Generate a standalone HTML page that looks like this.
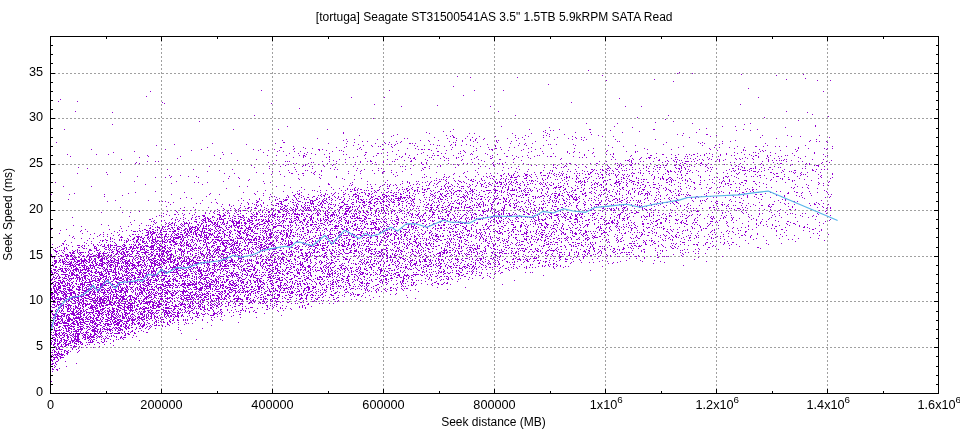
<!DOCTYPE html><html><head><meta charset="utf-8"><style>html,body{margin:0;padding:0;background:#fff;width:960px;height:432px;overflow:hidden}svg{display:block}text{font-family:"Liberation Sans",sans-serif;font-size:12px;fill:#000}svg{will-change:transform}.t{font-size:12.7px}</style></head><body><svg width="960" height="432" viewBox="0 0 960 432" shape-rendering="crispEdges"><rect width="960" height="432" fill="#fff"/><path d="M161.5 36V393M272.5 36V393M383.5 36V393M494.5 36V393M605.5 36V393M716.5 36V393M827.5 36V393M50 347.5H938M50 301.5H938M50 256.5H938M50 210.5H938M50 164.5H938M50 118.5H938M50 73.5H938" stroke="#a0a0a0" stroke-width="1" stroke-dasharray="2 2" fill="none"/><path transform="translate(0 .5)" d="M588 70h1M679 72h1M677 73h1m14 0h1M741 74h1m61 0h1M602 75h1m173 0h1M457 76h1M470 77h1m46 0h1M805 78h1M654 79h1m131 0h1M606 80h1m210 0h1m12 0h1M673 81h1M548 84h1M453 86h1M748 88h1M261 90h1m127 0h1m84 0h1m28 0h1M150 91h1m672 0h1M463 95h1M146 96h1M351 97h1m32 0h1m373 0h1M619 98h1M60 99h1M58 101h1m18 0h1M162 102h1m408 0h1M164 103h1m106 0h1M374 104h1m365 0h1M437 105h1M401 106h1m88 0h1m134 0h1m15 0h1M299 108h1M75 111h1m422 0h1m287 0h1M112 112h1m694 0h1M812 114h1M254 115h1m260 0h1m152 0h1M828 116h1M637 117h1m126 0h1M373 118h1M665 119h1M798 120h1M199 121h1m473 0h1M655 122h1M586 123h1m30 0h1m74 0h1m57 0h1M112 124h1m631 0h1M815 125h1M287 126h1m213 0h1m112 0h1m107 0h1m12 0h1m79 0h1M549 127h1m82 0h1m152 0h1M706 128h1M64 129h1m168 0h1m44 0h1m48 0h1m125 0h1m75 0h1m29 0h1m29 0h1m0 0h1m62 0h1m0 0h1m44 0h1m43 0h1m13 0h1M545 130h1m4 0h1m2 0h1m56 0h1m125 0h1m13 0h1M443 131h1m6 0h1m92 0h1m95 0h1M343 132h1m82 0h1m118 0h1m29 0h1m14 0h1m31 0h1m73 0h1M343 133h1m38 0h1m46 0h1m39 0h1m4 0h1m37 0h1m18 0h1m15 0h1m135 0h1M397 134h1m151 0h1m14 0h1m26 0h1m85 0h1m28 0h1m0 0h1M359 135h1m33 0h1m52 0h1m5 0h1m62 0h1m9 0h1m17 0h1m2 0h1m51 0h1m83 0h1m33 0h1m45 0h1m24 0h1m31 0h1M391 136h1m58 0h1m2 0h1m13 0h1m11 0h1m15 0h1m32 0h1m20 0h1m22 0h1m29 0h1m10 0h1m96 0h1m80 0h1m8 0h1M434 137h1m18 0h1m0 0h1m17 0h1m42 0h1m6 0h1m20 0h1m13 0h1m17 0h1m5 0h1m2 0h1m104 0h1m70 0h1m68 0h1M317 138h1m86 0h1m2 0h1m39 0h1m8 0h1m8 0h1m10 0h1m7 0h1m22 0h1m10 0h1m49 0h1m7 0h1m199 0h1M346 139h1m7 0h1m22 0h1m92 0h1m4 0h1m7 0h1m40 0h1m29 0h1m17 0h1m8 0h1m4 0h1m28 0h1m39 0h1m160 0h1M282 140h1m60 0h1m76 0h1m7 0h1m9 0h1m17 0h1m5 0h1m7 0h1m4 0h1m20 0h1m1 0h1m17 0h1m29 0h1m36 0h1m151 0h1m74 0h1M347 141h1m14 0h1m4 0h1m28 0h1m4 0h1m27 0h1m19 0h1m12 0h1m10 0h1m22 0h1m14 0h1m23 0h1m81 0h1m1 0h1m102 0h1m7 0h1m78 0h1m6 0h1m2 0h1m6 0h1M56 142h1m226 0h1m0 0h1m69 0h1m29 0h1m4 0h1m10 0h1m52 0h1m1 0h1m21 0h1m19 0h1m168 0h1m31 0h1m3 0h1m124 0h1M212 143h1m62 0h1m52 0h1m17 0h1m28 0h1m9 0h1m11 0h1m11 0h1m0 0h1m1 0h1m2 0h1m94 0h1m8 0h1m5 0h1m6 0h1m167 0h1m3 0h1m17 0h1m42 0h1M174 144h1m71 0h1m111 0h1m23 0h1m5 0h1m2 0h1m3 0h1m34 0h1m2 0h1m17 0h1m3 0h1m10 0h1m20 0h1m36 0h1m23 0h1m1 0h1m5 0h1m16 0h1m89 0h1m55 0h1M156 145h1m196 0h1m9 0h1m7 0h1m22 0h1m19 0h1m9 0h1m12 0h1m1 0h1m10 0h1m4 0h1m5 0h1m8 0h1m24 0h1m22 0h1m7 0h1m16 0h1m31 0h1m32 0h1m26 0h1m66 0h1m12 0h1m51 0h1m37 0h1M293 146h1m52 0h1m25 0h1m5 0h1m1 0h1m10 0h1m25 0h1m26 0h1m28 0h1m6 0h1m14 0h1m127 0h1m59 0h1m53 0h1m17 0h1m0 0h1m6 0h1m11 0h1m3 0h1m6 0h1m45 0h1M207 147h1m72 0h1m0 0h1m21 0h1m32 0h1m7 0h1m15 0h1m31 0h1m59 0h1m35 0h1m11 0h1m8 0h1m4 0h1m16 0h1m80 0h1m65 0h1m35 0h1m4 0h1m9 0h1m14 0h1m53 0h1M294 148h1m10 0h1m6 0h1m46 0h1m47 0h1m7 0h1m20 0h1m39 0h1m18 0h1m0 0h1m31 0h1m11 0h1m10 0h1m22 0h1m18 0h1m50 0h1m64 0h1m24 0h1m63 0h1m9 0h1m15 0h1m2 0h1m4 0h1M91 149h1m73 0h1m35 0h1m51 0h1m6 0h1m13 0h1m18 0h1m24 0h1m0 0h1m2 0h1m34 0h1m3 0h1m20 0h1m0 0h1m34 0h1m2 0h1m0 0h1m1 0h1m3 0h1m0 0h1m21 0h1m37 0h1m1 0h1m0 0h1m8 0h1m21 0h1m11 0h1m111 0h1m23 0h1m38 0h1m32 0h1m15 0h1m35 0h1m30 0h1M191 150h1m66 0h1m9 0h1m10 0h1m39 0h1m6 0h1m12 0h1m1 0h1m56 0h1m32 0h1m14 0h1m16 0h1m12 0h1m15 0h1m15 0h1m12 0h1m66 0h1m18 0h1m109 0h1m25 0h1m1 0h1m16 0h1m2 0h1m14 0h1m16 0h1M134 151h1m142 0h1m5 0h1m10 0h1m5 0h1m31 0h1m10 0h1m48 0h1m44 0h1m0 0h1m21 0h1m3 0h1m8 0h1m57 0h1m10 0h1m24 0h1m6 0h1m31 0h1m19 0h1m8 0h1m1 0h1m122 0h1m2 0h1m32 0h1M113 152h1m108 0h1m40 0h1m43 0h1m57 0h1m0 0h1m20 0h1m35 0h1m41 0h1m62 0h1m38 0h1m5 0h1m5 0h1m13 0h1m41 0h1m98 0h1m6 0h1m11 0h1m1 0h1m14 0h1m43 0h1M231 153h1m57 0h1m8 0h1m5 0h1m6 0h1m17 0h1m47 0h1m0 0h1m2 0h1m23 0h1m15 0h1m11 0h1m7 0h1m3 0h1m12 0h1m1 0h1m10 0h1m13 0h1m18 0h1m38 0h1m9 0h1m15 0h1m22 0h1m20 0h1m33 0h1m8 0h1m40 0h1m8 0h1m2 0h1m16 0h1m10 0h1m20 0h1m16 0h1m16 0h1m21 0h1M67 154h1m28 0h1m11 0h1m114 0h1m82 0h1m8 0h1m8 0h1m18 0h1m2 0h1m18 0h1m30 0h1m8 0h1m11 0h1m52 0h1m1 0h1m14 0h1m9 0h1m86 0h1m21 0h1m3 0h1m2 0h1m48 0h1m0 0h1m7 0h1m6 0h1m7 0h1m2 0h1m3 0h1m0 0h1m9 0h1m7 0h1m7 0h1m5 0h1m17 0h1m4 0h1m73 0h1M147 155h1m66 0h1m52 0h1m8 0h1m9 0h1m12 0h1m3 0h1m0 0h1m59 0h1m11 0h1m10 0h1m21 0h1m17 0h1m4 0h1m1 0h1m2 0h1m0 0h1m14 0h1m9 0h1m28 0h1m19 0h1m14 0h1m9 0h1m1 0h1m44 0h1m46 0h1m18 0h1m0 0h1m23 0h1m15 0h1m8 0h1m3 0h1m15 0h1m10 0h1m2 0h1m16 0h1m3 0h1m0 0h1m10 0h1m2 0h1m14 0h1m1 0h1m6 0h1m32 0h1M70 156h1m77 0h1m31 0h1m122 0h1m1 0h1m23 0h1m27 0h1m15 0h1m25 0h1m2 0h1m40 0h1m17 0h1m15 0h1m12 0h1m15 0h1m0 0h1m8 0h1m5 0h1m11 0h1m12 0h1m2 0h1m0 0h1m3 0h1m17 0h1m20 0h1m17 0h1m17 0h1m54 0h1m1 0h1m9 0h1m14 0h1m5 0h1m34 0h1m4 0h1m8 0h1m10 0h1m2 0h1m23 0h1m19 0h1M139 157h1m153 0h1m9 0h1m22 0h1m2 0h1m19 0h1m3 0h1m47 0h1m6 0h1m5 0h1m14 0h1m1 0h1m12 0h1m11 0h1m1 0h1m17 0h1m15 0h1m25 0h1m9 0h1m50 0h1m2 0h1m3 0h1m26 0h1m27 0h1m6 0h1m0 0h1m0 0h1m5 0h1m9 0h1m8 0h1m0 0h1m30 0h1m37 0h1m12 0h1m9 0h1m29 0h1M177 158h1m42 0h1m89 0h1m54 0h1m44 0h1m2 0h1m0 0h1m25 0h1m5 0h1m1 0h1m7 0h1m17 0h1m15 0h1m0 0h1m22 0h1m15 0h1m30 0h1m70 0h1m7 0h1m5 0h1m2 0h1m4 0h1m16 0h1m12 0h1m2 0h1m2 0h1m4 0h1m13 0h1m25 0h1m3 0h1m2 0h1m4 0h1m4 0h1m13 0h1m7 0h1m4 0h1m20 0h1M121 159h1m134 0h1m72 0h1m9 0h1m5 0h1m41 0h1m7 0h1m1 0h1m17 0h1m9 0h1m7 0h1m28 0h1m8 0h1m6 0h1m20 0h1m0 0h1m12 0h1m46 0h1m50 0h1m3 0h1m13 0h1m3 0h1m5 0h1m19 0h1m15 0h1m1 0h1m15 0h1m5 0h1m2 0h1m5 0h1m2 0h1m5 0h1m1 0h1m5 0h1m10 0h1m3 0h1m12 0h1m14 0h1m15 0h1m1 0h1m25 0h1m10 0h1M237 160h1m38 0h1m56 0h1m36 0h1m33 0h1m6 0h1m15 0h1m16 0h1m3 0h1m12 0h1m19 0h1m39 0h1m103 0h1m1 0h1m0 0h1m2 0h1m26 0h1m0 0h1m7 0h1m5 0h1m5 0h1m1 0h1m15 0h1m5 0h1m15 0h1m3 0h1m44 0h1m3 0h1m3 0h1m2 0h1m1 0h1m1 0h1m7 0h1m39 0h1M147 161h1m7 0h1m2 0h1m126 0h1m1 0h1m1 0h1m32 0h1m6 0h1m6 0h1m23 0h1m6 0h1m2 0h1m0 0h1m11 0h1m8 0h1m1 0h1m15 0h1m0 0h1m72 0h1m114 0h1m6 0h1m22 0h1m1 0h1m8 0h1m2 0h1m9 0h1m11 0h1m2 0h1m5 0h1m1 0h1m8 0h1m0 0h1m0 0h1m0 0h1m2 0h1m2 0h1m20 0h1m3 0h1m24 0h1m17 0h1m5 0h1m17 0h1m11 0h1m3 0h1m23 0h1M136 162h1m131 0h1m42 0h1m1 0h1m31 0h1m9 0h1m4 0h1m14 0h1m7 0h1m37 0h1m4 0h1m45 0h1m20 0h1m11 0h1m7 0h1m117 0h1m30 0h1m13 0h1m5 0h1m18 0h1m28 0h1m3 0h1m18 0h1m19 0h1m48 0h1m6 0h1M135 163h1m3 0h1m133 0h1m19 0h1m2 0h1m11 0h1m18 0h1m8 0h1m35 0h1m48 0h1m4 0h1m21 0h1m14 0h1m3 0h1m10 0h1m13 0h1m4 0h1m1 0h1m2 0h1m20 0h1m37 0h1m4 0h1m2 0h1m0 0h1m19 0h1m5 0h1m0 0h1m6 0h1m10 0h1m1 0h1m2 0h1m11 0h1m2 0h1m2 0h1m11 0h1m16 0h1m12 0h1m3 0h1m0 0h1m10 0h1m3 0h1m0 0h1m6 0h1m31 0h1m20 0h1m15 0h1m2 0h1m0 0h1m24 0h1m2 0h1m11 0h1M283 164h1m4 0h1m16 0h1m12 0h1m14 0h1m21 0h1m20 0h1m12 0h1m32 0h1m0 0h1m29 0h1m3 0h1m16 0h1m18 0h1m8 0h1m25 0h1m24 0h1m21 0h1m6 0h1m38 0h1m7 0h1m1 0h1m44 0h1m12 0h1m12 0h1m2 0h1m5 0h1m12 0h1m14 0h1m7 0h1m12 0h1m31 0h1m12 0h1m3 0h1m17 0h1M251 165h1m33 0h1m17 0h1m1 0h1m17 0h1m8 0h1m80 0h1m26 0h1m17 0h1m34 0h1m37 0h1m4 0h1m7 0h1m8 0h1m3 0h1m7 0h1m10 0h1m19 0h1m10 0h1m9 0h1m1 0h1m1 0h1m3 0h1m4 0h1m0 0h1m11 0h1m12 0h1m0 0h1m2 0h1m2 0h1m1 0h1m0 0h1m7 0h1m0 0h1m3 0h1m0 0h1m2 0h1m7 0h1m8 0h1m5 0h1m24 0h1m4 0h1m26 0h1m26 0h1m23 0h1m1 0h1m0 0h1m0 0h1M209 166h1m59 0h1m10 0h1m21 0h1m6 0h1m2 0h1m11 0h1m28 0h1m46 0h1m1 0h1m2 0h1m23 0h1m7 0h1m2 0h1m39 0h1m4 0h1m8 0h1m23 0h1m45 0h1m1 0h1m18 0h1m16 0h1m5 0h1m10 0h1m3 0h1m22 0h1m2 0h1m4 0h1m26 0h1m5 0h1m1 0h1m4 0h1m10 0h1m29 0h1m2 0h1m2 0h1m13 0h1m18 0h1m30 0h1m12 0h1m5 0h1M78 167h1m175 0h1m39 0h1m40 0h1m88 0h1m0 0h1m29 0h1m47 0h1m7 0h1m32 0h1m8 0h1m1 0h1m5 0h1m1 0h1m14 0h1m7 0h1m22 0h1m8 0h1m13 0h1m13 0h1m10 0h1m1 0h1m0 0h1m3 0h1m10 0h1m5 0h1m2 0h1m22 0h1m2 0h1m1 0h1m29 0h1m1 0h1m10 0h1m5 0h1m7 0h1m0 0h1m7 0h1m1 0h1M87 168h1m181 0h1m42 0h1m17 0h1m26 0h1m20 0h1m2 0h1m28 0h1m11 0h1m6 0h1m48 0h1m10 0h1m18 0h1m7 0h1m39 0h1m50 0h1m0 0h1m1 0h1m4 0h1m5 0h1m4 0h1m12 0h1m3 0h1m4 0h1m4 0h1m22 0h1m1 0h1m0 0h1m1 0h1m3 0h1m22 0h1m7 0h1m15 0h1m0 0h1m4 0h1m5 0h1m5 0h1m0 0h1m1 0h1m1 0h1m8 0h1m37 0h1m2 0h1M167 169h1m25 0h1m38 0h1m62 0h1m38 0h1m2 0h1m26 0h1m40 0h1m17 0h1m95 0h1m8 0h1m39 0h1m6 0h1m15 0h1m0 0h1m1 0h1m5 0h1m1 0h1m3 0h1m9 0h1m0 0h1m11 0h1m2 0h1m2 0h1m19 0h1m3 0h1m5 0h1m13 0h1m5 0h1m2 0h1m22 0h1m17 0h1m8 0h1m1 0h1m8 0h1m9 0h1m8 0h1m3 0h1m11 0h1m27 0h1m3 0h1m4 0h1m2 0h1m2 0h1M219 170h1m68 0h1m16 0h1m1 0h1m13 0h1m34 0h1m4 0h1m10 0h1m5 0h1m12 0h1m29 0h1m53 0h1m26 0h1m40 0h1m6 0h1m1 0h1m29 0h1m10 0h1m2 0h1m5 0h1m0 0h1m3 0h1m1 0h1m2 0h1m9 0h1m1 0h1m1 0h1m13 0h1m5 0h1m20 0h1m2 0h1m10 0h1m8 0h1m5 0h1m10 0h1m18 0h1m6 0h1m1 0h1m6 0h1m0 0h1m0 0h1m0 0h1m1 0h1m3 0h1m12 0h1m17 0h1m11 0h1m0 0h1m16 0h1m0 0h1M207 171h1m64 0h1m6 0h1m16 0h1m18 0h1m5 0h1m26 0h1m11 0h1m22 0h1m0 0h1m17 0h1m64 0h1m47 0h1m11 0h1m24 0h1m9 0h1m4 0h1m2 0h1m5 0h1m7 0h1m2 0h1m4 0h1m12 0h1m7 0h1m4 0h1m29 0h1m0 0h1m3 0h1m3 0h1m9 0h1m0 0h1m1 0h1m0 0h1m2 0h1m3 0h1m1 0h1m6 0h1m1 0h1m8 0h1m6 0h1m4 0h1m20 0h1m2 0h1m14 0h1m3 0h1m0 0h1m0 0h1m2 0h1m2 0h1m21 0h1m5 0h1m1 0h1m23 0h1M106 172h1m13 0h1m135 0h1m32 0h1m21 0h1m2 0h1m67 0h1m8 0h1m4 0h1m39 0h1m27 0h1m12 0h1m39 0h1m16 0h1m5 0h1m0 0h1m7 0h1m9 0h1m30 0h1m0 0h1m8 0h1m5 0h1m12 0h1m12 0h1m5 0h1m1 0h1m27 0h1m6 0h1m4 0h1m11 0h1m30 0h1m15 0h1m17 0h1m12 0h1m0 0h1m9 0h1m11 0h1m1 0h1m5 0h1m5 0h1m12 0h1M77 173h1m146 0h1m9 0h1m28 0h1m27 0h1m0 0h1m9 0h1m0 0h1m9 0h1m34 0h1m11 0h1m13 0h1m7 0h1m71 0h1m8 0h1m22 0h1m3 0h1m6 0h1m6 0h1m3 0h1m5 0h1m9 0h1m15 0h1m6 0h1m1 0h1m1 0h1m2 0h1m6 0h1m1 0h1m10 0h1m2 0h1m1 0h1m2 0h1m5 0h1m1 0h1m4 0h1m1 0h1m11 0h1m1 0h1m1 0h1m17 0h1m1 0h1m0 0h1m5 0h1m2 0h1m5 0h1m8 0h1m6 0h1m20 0h1m0 0h1m29 0h1m9 0h1m8 0h1m1 0h1m6 0h1m27 0h1m2 0h1m0 0h1m16 0h1m5 0h1m31 0h1M107 174h1m163 0h1m8 0h1m17 0h1m15 0h1m4 0h1m73 0h1m17 0h1m12 0h1m19 0h1m8 0h1m24 0h1m24 0h1m4 0h1m4 0h1m11 0h1m0 0h1m0 0h1m3 0h1m3 0h1m17 0h1m2 0h1m1 0h1m3 0h1m3 0h1m18 0h1m2 0h1m0 0h1m8 0h1m2 0h1m0 0h1m3 0h1m1 0h1m6 0h1m2 0h1m3 0h1m1 0h1m2 0h1m24 0h1m10 0h1m4 0h1m8 0h1m3 0h1m55 0h1m6 0h1m10 0h1m18 0h1m9 0h1m16 0h1m1 0h1m1 0h1m12 0h1m13 0h1M169 175h1m10 0h1m122 0h1m17 0h1m32 0h1m42 0h1m93 0h1m8 0h1m0 0h1m7 0h1m1 0h1m1 0h1m4 0h1m6 0h1m0 0h1m2 0h1m11 0h1m1 0h1m0 0h1m0 0h1m2 0h1m5 0h1m5 0h1m1 0h1m13 0h1m2 0h1m22 0h1m6 0h1m5 0h1m1 0h1m5 0h1m5 0h1m2 0h1m9 0h1m8 0h1m29 0h1m3 0h1m12 0h1m10 0h1m21 0h1m27 0h1m0 0h1m3 0h1m35 0h1m20 0h1M137 176h1m33 0h1m16 0h1m7 0h1m32 0h1m54 0h1m51 0h1m58 0h1m30 0h1m17 0h1m4 0h1m9 0h1m5 0h1m9 0h1m7 0h1m2 0h1m2 0h1m3 0h1m0 0h1m6 0h1m4 0h1m4 0h1m5 0h1m1 0h1m3 0h1m3 0h1m2 0h1m5 0h1m11 0h1m7 0h1m2 0h1m6 0h1m2 0h1m6 0h1m14 0h1m6 0h1m17 0h1m9 0h1m1 0h1m3 0h1m21 0h1m7 0h1m37 0h1m24 0h1m0 0h1m1 0h1m5 0h1m11 0h1m4 0h1m1 0h1m3 0h1m18 0h1m0 0h1m0 0h1m5 0h1m12 0h1m9 0h1m12 0h1M155 177h1m9 0h1m4 0h1m27 0h1m39 0h1m80 0h1m16 0h1m85 0h1m1 0h1m5 0h1m12 0h1m2 0h1m1 0h1m17 0h1m20 0h1m22 0h1m0 0h1m0 0h1m1 0h1m0 0h1m0 0h1m9 0h1m4 0h1m15 0h1m2 0h1m13 0h1m1 0h1m0 0h1m1 0h1m7 0h1m7 0h1m0 0h1m2 0h1m10 0h1m1 0h1m0 0h1m12 0h1m4 0h1m1 0h1m12 0h1m17 0h1m3 0h1m3 0h1m6 0h1m0 0h1m6 0h1m4 0h1m17 0h1m13 0h1m2 0h1m5 0h1m3 0h1m8 0h1m23 0h1m12 0h1m14 0h1m32 0h1m10 0h1M228 178h1m10 0h1m58 0h1m21 0h1m21 0h1m18 0h1m74 0h1m16 0h1m27 0h1m8 0h1m1 0h1m8 0h1m1 0h1m2 0h1m17 0h1m0 0h1m0 0h1m10 0h1m4 0h1m4 0h1m13 0h1m4 0h1m5 0h1m3 0h1m1 0h1m4 0h1m4 0h1m7 0h1m2 0h1m2 0h1m20 0h1m0 0h1m2 0h1m8 0h1m1 0h1m15 0h1m5 0h1m1 0h1m0 0h1m4 0h1m2 0h1m7 0h1m1 0h1m7 0h1m33 0h1m14 0h1m27 0h1m13 0h1m1 0h1m16 0h1m18 0h1m11 0h1M249 179h1m49 0h1m44 0h1m9 0h1m84 0h1m1 0h1m1 0h1m2 0h1m21 0h1m2 0h1m1 0h1m7 0h1m11 0h1m2 0h1m3 0h1m4 0h1m2 0h1m1 0h1m4 0h1m0 0h1m25 0h1m2 0h1m9 0h1m1 0h1m6 0h1m11 0h1m10 0h1m21 0h1m0 0h1m7 0h1m2 0h1m7 0h1m11 0h1m1 0h1m0 0h1m1 0h1m6 0h1m6 0h1m2 0h1m2 0h1m0 0h1m2 0h1m1 0h1m12 0h1m4 0h1m18 0h1m2 0h1m6 0h1m9 0h1m41 0h1m10 0h1m5 0h1m0 0h1m14 0h1M248 180h1m138 0h1m46 0h1m1 0h1m8 0h1m8 0h1m3 0h1m11 0h1m0 0h1m3 0h1m6 0h1m1 0h1m20 0h1m8 0h1m11 0h1m2 0h1m1 0h1m0 0h1m2 0h1m7 0h1m18 0h1m5 0h1m11 0h1m3 0h1m8 0h1m10 0h1m0 0h1m1 0h1m8 0h1m9 0h1m3 0h1m0 0h1m6 0h1m27 0h1m4 0h1m1 0h1m1 0h1m6 0h1m2 0h1m1 0h1m12 0h1m3 0h1m18 0h1m5 0h1m14 0h1m0 0h1m0 0h1m23 0h1m21 0h1m1 0h1m16 0h1M134 181h1m41 0h1m46 0h1m39 0h1m103 0h1m34 0h1m4 0h1m8 0h1m1 0h1m8 0h1m3 0h1m7 0h1m0 0h1m5 0h1m8 0h1m3 0h1m0 0h1m2 0h1m8 0h1m0 0h1m5 0h1m15 0h1m3 0h1m5 0h1m3 0h1m1 0h1m4 0h1m5 0h1m8 0h1m1 0h1m3 0h1m28 0h1m8 0h1m2 0h1m0 0h1m0 0h1m1 0h1m1 0h1m2 0h1m15 0h1m12 0h1m1 0h1m0 0h1m1 0h1m7 0h1m2 0h1m0 0h1m0 0h1m8 0h1m25 0h1m1 0h1m15 0h1m3 0h1m30 0h1m1 0h1m4 0h1m3 0h1m12 0h1m6 0h1m0 0h1m21 0h1m15 0h1m36 0h1M55 182h1m138 0h1m3 0h1m8 0h1m62 0h1m81 0h1m32 0h1m21 0h1m1 0h1m12 0h1m2 0h1m4 0h1m7 0h1m9 0h1m12 0h1m2 0h1m12 0h1m7 0h1m3 0h1m5 0h1m1 0h1m1 0h1m0 0h1m0 0h1m1 0h1m4 0h1m2 0h1m1 0h1m2 0h1m0 0h1m5 0h1m3 0h1m12 0h1m2 0h1m3 0h1m3 0h1m8 0h1m15 0h1m1 0h1m2 0h1m2 0h1m0 0h1m5 0h1m3 0h1m2 0h1m4 0h1m11 0h1m0 0h1m0 0h1m0 0h1m4 0h1m2 0h1m4 0h1m5 0h1m0 0h1m2 0h1m5 0h1m0 0h1m4 0h1m12 0h1m0 0h1m3 0h1m6 0h1m14 0h1m0 0h1m5 0h1m11 0h1m6 0h1m1 0h1m19 0h1m0 0h1m16 0h1m25 0h1m32 0h1m9 0h1M171 183h1m92 0h1m63 0h1m21 0h1m51 0h1m6 0h1m7 0h1m11 0h1m4 0h1m2 0h1m8 0h1m1 0h1m8 0h1m8 0h1m10 0h1m2 0h1m3 0h1m3 0h1m3 0h1m3 0h1m0 0h1m3 0h1m4 0h1m3 0h1m4 0h1m4 0h1m9 0h1m1 0h1m6 0h1m1 0h1m3 0h1m7 0h1m4 0h1m5 0h1m2 0h1m12 0h1m13 0h1m1 0h1m0 0h1m8 0h1m7 0h1m0 0h1m3 0h1m0 0h1m6 0h1m5 0h1m4 0h1m19 0h1m21 0h1m4 0h1m8 0h1m19 0h1m6 0h1m3 0h1m1 0h1m0 0h1m6 0h1m3 0h1m5 0h1m9 0h1m7 0h1m55 0h1m3 0h1M145 184h1m56 0h1m125 0h1m0 0h1m22 0h1m14 0h1m2 0h1m4 0h1m8 0h1m2 0h1m2 0h1m4 0h1m4 0h1m12 0h1m2 0h1m2 0h1m9 0h1m6 0h1m8 0h1m5 0h1m6 0h1m10 0h1m2 0h1m8 0h1m0 0h1m6 0h1m0 0h1m9 0h1m0 0h1m2 0h1m1 0h1m2 0h1m1 0h1m5 0h1m1 0h1m4 0h1m2 0h1m0 0h1m6 0h1m4 0h1m1 0h1m2 0h1m3 0h1m3 0h1m13 0h1m14 0h1m1 0h1m7 0h1m1 0h1m2 0h1m2 0h1m0 0h1m4 0h1m3 0h1m5 0h1m2 0h1m6 0h1m6 0h1m1 0h1m6 0h1m0 0h1m9 0h1m0 0h1m0 0h1m13 0h1m4 0h1m24 0h1m0 0h1m6 0h1m17 0h1m4 0h1m0 0h1m8 0h1m15 0h1m9 0h1m28 0h1m10 0h1m11 0h1M284 185h1m64 0h1m1 0h1m30 0h1m6 0h1m3 0h1m2 0h1m13 0h1m15 0h1m1 0h1m4 0h1m10 0h1m7 0h1m17 0h1m5 0h1m4 0h1m4 0h1m4 0h1m13 0h1m6 0h1m7 0h1m3 0h1m21 0h1m3 0h1m0 0h1m6 0h1m4 0h1m11 0h1m5 0h1m2 0h1m6 0h1m7 0h1m1 0h1m9 0h1m7 0h1m6 0h1m10 0h1m2 0h1m4 0h1m3 0h1m9 0h1m1 0h1m9 0h1m16 0h1m39 0h1m14 0h1m64 0h1m14 0h1m4 0h1M63 186h1m27 0h1m147 0h1m7 0h1m28 0h1m42 0h1m23 0h1m27 0h1m8 0h1m6 0h1m1 0h1m18 0h1m13 0h1m14 0h1m3 0h1m2 0h1m2 0h1m1 0h1m0 0h1m3 0h1m2 0h1m3 0h1m0 0h1m0 0h1m3 0h1m1 0h1m5 0h1m5 0h1m1 0h1m4 0h1m5 0h1m0 0h1m1 0h1m0 0h1m1 0h1m2 0h1m4 0h1m6 0h1m10 0h1m16 0h1m0 0h1m11 0h1m3 0h1m0 0h1m6 0h1m8 0h1m19 0h1m5 0h1m10 0h1m2 0h1m9 0h1m17 0h1m32 0h1m1 0h1m9 0h1m29 0h1m2 0h1m35 0h1m37 0h1M290 187h1m10 0h1m29 0h1m23 0h1m11 0h1m11 0h1m17 0h1m4 0h1m9 0h1m4 0h1m0 0h1m16 0h1m9 0h1m2 0h1m10 0h1m8 0h1m16 0h1m0 0h1m15 0h1m2 0h1m2 0h1m9 0h1m0 0h1m14 0h1m12 0h1m6 0h1m0 0h1m0 0h1m1 0h1m0 0h1m0 0h1m2 0h1m7 0h1m9 0h1m9 0h1m2 0h1m0 0h1m5 0h1m1 0h1m18 0h1m0 0h1m16 0h1m3 0h1m5 0h1m2 0h1m0 0h1m4 0h1m5 0h1m20 0h1m7 0h1m11 0h1m4 0h1m5 0h1m1 0h1m10 0h1m5 0h1m2 0h1m12 0h1m13 0h1m4 0h1m19 0h1m2 0h1m7 0h1m4 0h1M226 188h1m112 0h1m7 0h1m6 0h1m3 0h1m12 0h1m0 0h1m14 0h1m0 0h1m7 0h1m9 0h1m0 0h1m3 0h1m10 0h1m4 0h1m0 0h1m0 0h1m11 0h1m3 0h1m2 0h1m3 0h1m8 0h1m1 0h1m6 0h1m23 0h1m7 0h1m5 0h1m3 0h1m6 0h1m0 0h1m4 0h1m1 0h1m1 0h1m6 0h1m4 0h1m4 0h1m1 0h1m4 0h1m1 0h1m9 0h1m6 0h1m4 0h1m0 0h1m5 0h1m4 0h1m2 0h1m13 0h1m12 0h1m2 0h1m9 0h1m1 0h1m2 0h1m1 0h1m16 0h1m0 0h1m5 0h1m2 0h1m13 0h1m8 0h1m5 0h1m5 0h1m7 0h1m0 0h1m36 0h1m45 0h1m14 0h1m8 0h1M304 189h1m28 0h1m13 0h1m2 0h1m1 0h1m1 0h1m2 0h1m2 0h1m0 0h1m17 0h1m19 0h1m2 0h1m1 0h1m1 0h1m2 0h1m2 0h1m4 0h1m4 0h1m1 0h1m0 0h1m1 0h1m12 0h1m0 0h1m1 0h1m7 0h1m18 0h1m1 0h1m1 0h1m18 0h1m1 0h1m11 0h1m0 0h1m3 0h1m1 0h1m1 0h1m7 0h1m5 0h1m8 0h1m2 0h1m5 0h1m10 0h1m4 0h1m0 0h1m9 0h1m7 0h1m10 0h1m9 0h1m1 0h1m6 0h1m6 0h1m2 0h1m8 0h1m9 0h1m0 0h1m0 0h1m13 0h1m7 0h1m1 0h1m6 0h1m5 0h1m12 0h1m44 0h1m5 0h1m3 0h1m2 0h1m0 0h1m2 0h1M265 190h1m33 0h1m12 0h1m1 0h1m5 0h1m5 0h1m14 0h1m3 0h1m8 0h1m0 0h1m1 0h1m6 0h1m1 0h1m1 0h1m5 0h1m2 0h1m0 0h1m5 0h1m6 0h1m6 0h1m8 0h1m0 0h1m5 0h1m0 0h1m1 0h1m6 0h1m5 0h1m2 0h1m12 0h1m2 0h1m3 0h1m3 0h1m0 0h1m0 0h1m0 0h1m4 0h1m5 0h1m0 0h1m3 0h1m4 0h1m4 0h1m0 0h1m0 0h1m0 0h1m0 0h1m3 0h1m0 0h1m0 0h1m0 0h1m3 0h1m5 0h1m2 0h1m0 0h1m0 0h1m0 0h1m0 0h1m1 0h1m4 0h1m1 0h1m1 0h1m2 0h1m1 0h1m1 0h1m4 0h1m4 0h1m20 0h1m8 0h1m1 0h1m0 0h1m7 0h1m12 0h1m3 0h1m2 0h1m0 0h1m1 0h1m2 0h1m7 0h1m8 0h1m2 0h1m5 0h1m7 0h1m21 0h1m3 0h1m0 0h1m7 0h1m29 0h1m22 0h1m3 0h1m16 0h1m71 0h1M155 191h1m101 0h1m25 0h1m13 0h1m19 0h1m32 0h1m0 0h1m19 0h1m3 0h1m12 0h1m14 0h1m3 0h1m6 0h1m2 0h1m1 0h1m6 0h1m4 0h1m6 0h1m0 0h1m5 0h1m1 0h1m2 0h1m4 0h1m0 0h1m2 0h1m1 0h1m4 0h1m2 0h1m0 0h1m1 0h1m0 0h1m9 0h1m0 0h1m10 0h1m3 0h1m1 0h1m2 0h1m14 0h1m1 0h1m2 0h1m6 0h1m5 0h1m9 0h1m7 0h1m4 0h1m5 0h1m4 0h1m8 0h1m0 0h1m9 0h1m16 0h1m3 0h1m4 0h1m1 0h1m8 0h1m5 0h1m4 0h1m1 0h1m5 0h1m2 0h1m7 0h1m11 0h1m2 0h1m4 0h1m1 0h1m37 0h1m2 0h1m13 0h1m1 0h1m8 0h1m3 0h1m2 0h1m15 0h1m6 0h1m3 0h1m13 0h1m14 0h1m16 0h1M135 192h1m48 0h1m58 0h1m48 0h1m8 0h1m18 0h1m14 0h1m7 0h1m13 0h1m3 0h1m0 0h1m1 0h1m9 0h1m1 0h1m4 0h1m4 0h1m0 0h1m2 0h1m0 0h1m2 0h1m1 0h1m1 0h1m6 0h1m3 0h1m12 0h1m0 0h1m0 0h1m10 0h1m1 0h1m13 0h1m2 0h1m10 0h1m1 0h1m4 0h1m6 0h1m9 0h1m1 0h1m3 0h1m5 0h1m1 0h1m3 0h1m9 0h1m7 0h1m1 0h1m0 0h1m12 0h1m5 0h1m16 0h1m2 0h1m1 0h1m3 0h1m11 0h1m3 0h1m0 0h1m3 0h1m6 0h1m7 0h1m5 0h1m12 0h1m5 0h1m3 0h1m9 0h1m7 0h1m2 0h1m11 0h1m15 0h1m20 0h1m5 0h1m4 0h1m3 0h1m5 0h1m12 0h1m0 0h1m14 0h1m11 0h1m17 0h1m7 0h1m0 0h1m4 0h1m14 0h1m9 0h1M74 193h1m53 0h1m81 0h1m43 0h1m8 0h1m33 0h1m1 0h1m25 0h1m5 0h1m2 0h1m3 0h1m6 0h1m9 0h1m3 0h1m5 0h1m2 0h1m0 0h1m2 0h1m20 0h1m6 0h1m2 0h1m5 0h1m3 0h1m4 0h1m11 0h1m3 0h1m5 0h1m1 0h1m4 0h1m0 0h1m2 0h1m1 0h1m13 0h1m2 0h1m3 0h1m13 0h1m5 0h1m2 0h1m11 0h1m12 0h1m18 0h1m3 0h1m6 0h1m1 0h1m0 0h1m0 0h1m2 0h1m2 0h1m19 0h1m1 0h1m0 0h1m5 0h1m3 0h1m8 0h1m11 0h1m2 0h1m8 0h1m1 0h1m7 0h1m2 0h1m0 0h1m2 0h1m0 0h1m0 0h1m1 0h1m25 0h1m3 0h1m26 0h1m11 0h1m10 0h1m9 0h1m4 0h1m4 0h1m15 0h1m7 0h1m13 0h1m0 0h1m12 0h1m8 0h1M51 194h1m17 0h1m34 0h1m66 0h1m37 0h1m9 0h1m35 0h1m14 0h1m24 0h1m2 0h1m0 0h1m8 0h1m12 0h1m3 0h1m1 0h1m5 0h1m9 0h1m0 0h1m3 0h1m4 0h1m0 0h1m0 0h1m0 0h1m8 0h1m3 0h1m1 0h1m10 0h1m0 0h1m0 0h1m10 0h1m0 0h1m3 0h1m0 0h1m13 0h1m8 0h1m6 0h1m0 0h1m7 0h1m0 0h1m4 0h1m6 0h1m2 0h1m2 0h1m3 0h1m4 0h1m3 0h1m3 0h1m2 0h1m5 0h1m21 0h1m2 0h1m1 0h1m0 0h1m0 0h1m8 0h1m1 0h1m0 0h1m0 0h1m1 0h1m16 0h1m4 0h1m6 0h1m0 0h1m7 0h1m0 0h1m3 0h1m2 0h1m0 0h1m5 0h1m0 0h1m15 0h1m1 0h1m1 0h1m3 0h1m8 0h1m2 0h1m6 0h1m3 0h1m7 0h1m1 0h1m4 0h1m1 0h1m1 0h1m8 0h1m8 0h1m10 0h1m2 0h1m1 0h1m2 0h1m1 0h1m15 0h1m33 0h1m3 0h1m12 0h1m0 0h1m3 0h1m0 0h1m14 0h1m51 0h1m2 0h1M122 195h1m140 0h1m23 0h1m5 0h1m0 0h1m6 0h1m16 0h1m1 0h1m2 0h1m0 0h1m7 0h1m20 0h1m3 0h1m0 0h1m8 0h1m0 0h1m6 0h1m6 0h1m2 0h1m0 0h1m1 0h1m2 0h1m0 0h1m0 0h1m12 0h1m0 0h1m1 0h1m2 0h1m10 0h1m6 0h1m2 0h1m1 0h1m5 0h1m2 0h1m0 0h1m5 0h1m12 0h1m1 0h1m5 0h1m5 0h1m14 0h1m3 0h1m3 0h1m6 0h1m2 0h1m4 0h1m3 0h1m1 0h1m2 0h1m0 0h1m15 0h1m0 0h1m4 0h1m5 0h1m0 0h1m2 0h1m0 0h1m1 0h1m0 0h1m5 0h1m1 0h1m0 0h1m13 0h1m0 0h1m11 0h1m1 0h1m9 0h1m0 0h1m10 0h1m21 0h1m2 0h1m3 0h1m4 0h1m3 0h1m5 0h1m5 0h1m3 0h1m1 0h1m0 0h1m7 0h1m1 0h1m0 0h1m15 0h1m25 0h1m10 0h1m3 0h1m28 0h1m7 0h1m11 0h1m4 0h1m9 0h1M104 196h1m101 0h1m64 0h1m2 0h1m13 0h1m5 0h1m4 0h1m3 0h1m9 0h1m0 0h1m6 0h1m2 0h1m4 0h1m4 0h1m3 0h1m4 0h1m5 0h1m2 0h1m2 0h1m0 0h1m1 0h1m1 0h1m1 0h1m5 0h1m2 0h1m1 0h1m4 0h1m0 0h1m3 0h1m0 0h1m1 0h1m0 0h1m1 0h1m3 0h1m1 0h1m0 0h1m3 0h1m0 0h1m7 0h1m4 0h1m17 0h1m1 0h1m4 0h1m2 0h1m2 0h1m0 0h1m2 0h1m7 0h1m0 0h1m3 0h1m0 0h1m1 0h1m1 0h1m8 0h1m3 0h1m0 0h1m0 0h1m5 0h1m5 0h1m1 0h1m14 0h1m4 0h1m1 0h1m0 0h1m12 0h1m0 0h1m1 0h1m2 0h1m1 0h1m0 0h1m2 0h1m2 0h1m2 0h1m4 0h1m1 0h1m5 0h1m5 0h1m1 0h1m0 0h1m2 0h1m3 0h1m5 0h1m8 0h1m5 0h1m6 0h1m4 0h1m1 0h1m19 0h1m25 0h1m24 0h1m10 0h1m0 0h1m3 0h1m3 0h1m4 0h1m22 0h1m13 0h1m6 0h1m7 0h1m18 0h1m2 0h1m14 0h1m30 0h1M186 197h1m82 0h1m6 0h1m9 0h1m1 0h1m6 0h1m5 0h1m5 0h1m0 0h1m3 0h1m4 0h1m10 0h1m0 0h1m5 0h1m2 0h1m2 0h1m13 0h1m2 0h1m12 0h1m0 0h1m7 0h1m3 0h1m1 0h1m11 0h1m1 0h1m0 0h1m1 0h1m0 0h1m0 0h1m1 0h1m1 0h1m0 0h1m13 0h1m1 0h1m2 0h1m5 0h1m3 0h1m3 0h1m7 0h1m8 0h1m0 0h1m1 0h1m0 0h1m2 0h1m3 0h1m12 0h1m2 0h1m2 0h1m7 0h1m4 0h1m4 0h1m12 0h1m1 0h1m4 0h1m6 0h1m1 0h1m1 0h1m10 0h1m3 0h1m2 0h1m11 0h1m2 0h1m1 0h1m1 0h1m1 0h1m17 0h1m9 0h1m15 0h1m4 0h1m3 0h1m15 0h1m7 0h1m13 0h1m4 0h1m11 0h1m2 0h1m1 0h1m3 0h1m2 0h1m14 0h1m2 0h1m8 0h1m9 0h1m3 0h1m7 0h1m8 0h1m13 0h1m31 0h1m22 0h1m3 0h1M180 198h1m10 0h1m49 0h1m17 0h1m19 0h1m16 0h1m1 0h1m5 0h1m11 0h1m2 0h1m4 0h1m1 0h1m4 0h1m5 0h1m6 0h1m4 0h1m7 0h1m0 0h1m11 0h1m4 0h1m0 0h1m0 0h1m2 0h1m2 0h1m4 0h1m2 0h1m3 0h1m0 0h1m0 0h1m0 0h1m0 0h1m0 0h1m1 0h1m1 0h1m3 0h1m2 0h1m2 0h1m19 0h1m2 0h1m0 0h1m1 0h1m6 0h1m3 0h1m12 0h1m4 0h1m1 0h1m0 0h1m1 0h1m3 0h1m2 0h1m12 0h1m0 0h1m0 0h1m0 0h1m5 0h1m0 0h1m1 0h1m5 0h1m20 0h1m1 0h1m7 0h1m5 0h1m5 0h1m0 0h1m5 0h1m3 0h1m6 0h1m2 0h1m2 0h1m9 0h1m1 0h1m6 0h1m9 0h1m6 0h1m0 0h1m2 0h1m6 0h1m5 0h1m12 0h1m1 0h1m10 0h1m5 0h1m3 0h1m2 0h1m4 0h1m14 0h1m3 0h1m11 0h1m33 0h1m16 0h1m45 0h1M68 199h1m146 0h1m33 0h1m9 0h1m9 0h1m5 0h1m1 0h1m5 0h1m1 0h1m0 0h1m0 0h1m4 0h1m3 0h1m7 0h1m1 0h1m2 0h1m6 0h1m0 0h1m5 0h1m2 0h1m2 0h1m2 0h1m6 0h1m0 0h1m3 0h1m6 0h1m1 0h1m4 0h1m1 0h1m0 0h1m1 0h1m2 0h1m2 0h1m2 0h1m1 0h1m2 0h1m0 0h1m2 0h1m0 0h1m3 0h1m2 0h1m1 0h1m1 0h1m4 0h1m1 0h1m5 0h1m5 0h1m0 0h1m0 0h1m4 0h1m5 0h1m3 0h1m2 0h1m7 0h1m0 0h1m0 0h1m2 0h1m12 0h1m6 0h1m3 0h1m5 0h1m1 0h1m2 0h1m0 0h1m3 0h1m3 0h1m3 0h1m1 0h1m3 0h1m0 0h1m3 0h1m1 0h1m3 0h1m5 0h1m11 0h1m21 0h1m8 0h1m3 0h1m3 0h1m1 0h1m3 0h1m0 0h1m0 0h1m0 0h1m0 0h1m5 0h1m10 0h1m11 0h1m6 0h1m0 0h1m2 0h1m1 0h1m4 0h1m19 0h1m9 0h1m1 0h1m3 0h1m8 0h1m7 0h1m3 0h1m24 0h1m23 0h1m30 0h1m20 0h1m2 0h1M115 200h1m32 0h1m53 0h1m35 0h1m4 0h1m12 0h1m4 0h1m13 0h1m8 0h1m0 0h1m0 0h1m6 0h1m3 0h1m12 0h1m0 0h1m0 0h1m1 0h1m0 0h1m6 0h1m1 0h1m0 0h1m5 0h1m3 0h1m7 0h1m4 0h1m7 0h1m4 0h1m0 0h1m8 0h1m11 0h1m3 0h1m2 0h1m3 0h1m2 0h1m0 0h1m0 0h1m5 0h1m4 0h1m1 0h1m7 0h1m8 0h1m1 0h1m6 0h1m8 0h1m7 0h1m1 0h1m3 0h1m4 0h1m4 0h1m16 0h1m5 0h1m10 0h1m3 0h1m4 0h1m1 0h1m9 0h1m1 0h1m2 0h1m11 0h1m3 0h1m1 0h1m2 0h1m1 0h1m1 0h1m6 0h1m0 0h1m10 0h1m0 0h1m11 0h1m2 0h1m3 0h1m2 0h1m2 0h1m3 0h1m2 0h1m3 0h1m4 0h1m3 0h1m0 0h1m4 0h1m2 0h1m2 0h1m2 0h1m1 0h1m1 0h1m7 0h1m6 0h1m14 0h1m7 0h1m13 0h1m7 0h1m1 0h1m1 0h1m24 0h1m13 0h1m34 0h1m6 0h1m35 0h1M107 201h1m51 0h1m2 0h1m2 0h1m91 0h1m0 0h1m20 0h1m0 0h1m0 0h1m1 0h1m6 0h1m7 0h1m0 0h1m0 0h1m9 0h1m1 0h1m0 0h1m5 0h1m2 0h1m0 0h1m2 0h1m15 0h1m4 0h1m8 0h1m1 0h1m4 0h1m0 0h1m1 0h1m2 0h1m0 0h1m5 0h1m0 0h1m1 0h1m2 0h1m0 0h1m0 0h1m1 0h1m1 0h1m2 0h1m1 0h1m7 0h1m0 0h1m0 0h1m3 0h1m3 0h1m1 0h1m9 0h1m9 0h1m4 0h1m2 0h1m9 0h1m2 0h1m8 0h1m1 0h1m6 0h1m9 0h1m5 0h1m4 0h1m9 0h1m1 0h1m0 0h1m2 0h1m8 0h1m2 0h1m0 0h1m5 0h1m5 0h1m6 0h1m2 0h1m7 0h1m3 0h1m1 0h1m7 0h1m12 0h1m4 0h1m16 0h1m7 0h1m0 0h1m8 0h1m0 0h1m5 0h1m11 0h1m1 0h1m13 0h1m5 0h1m9 0h1m4 0h1m0 0h1m16 0h1m6 0h1m4 0h1m5 0h1m4 0h1m0 0h1m13 0h1m3 0h1m38 0h1m18 0h1m0 0h1m2 0h1M168 202h1m4 0h1m37 0h1m4 0h1m30 0h1m8 0h1m0 0h1m5 0h1m7 0h1m9 0h1m10 0h1m0 0h1m1 0h1m6 0h1m2 0h1m1 0h1m0 0h1m1 0h1m1 0h1m5 0h1m2 0h1m1 0h1m3 0h1m3 0h1m9 0h1m0 0h1m0 0h1m8 0h1m0 0h1m2 0h1m2 0h1m0 0h1m1 0h1m0 0h1m0 0h1m3 0h1m0 0h1m0 0h1m3 0h1m0 0h1m4 0h1m2 0h1m5 0h1m2 0h1m0 0h1m0 0h1m3 0h1m7 0h1m6 0h1m6 0h1m5 0h1m7 0h1m1 0h1m2 0h1m4 0h1m3 0h1m7 0h1m2 0h1m2 0h1m7 0h1m5 0h1m3 0h1m2 0h1m8 0h1m0 0h1m4 0h1m4 0h1m4 0h1m8 0h1m1 0h1m5 0h1m3 0h1m3 0h1m14 0h1m0 0h1m3 0h1m1 0h1m2 0h1m5 0h1m4 0h1m3 0h1m4 0h1m6 0h1m7 0h1m5 0h1m0 0h1m14 0h1m1 0h1m3 0h1m5 0h1m1 0h1m7 0h1m1 0h1m4 0h1m12 0h1m4 0h1m3 0h1m0 0h1m4 0h1m3 0h1m0 0h1m37 0h1m6 0h1m16 0h1m0 0h1m18 0h1m20 0h1m35 0h1M196 203h1m3 0h1m16 0h1m23 0h1m6 0h1m3 0h1m10 0h1m12 0h1m0 0h1m0 0h1m1 0h1m0 0h1m6 0h1m8 0h1m7 0h1m4 0h1m0 0h1m0 0h1m0 0h1m6 0h1m0 0h1m2 0h1m0 0h1m3 0h1m9 0h1m4 0h1m6 0h1m12 0h1m5 0h1m0 0h1m2 0h1m2 0h1m2 0h1m0 0h1m17 0h1m2 0h1m5 0h1m0 0h1m1 0h1m2 0h1m13 0h1m3 0h1m10 0h1m6 0h1m1 0h1m0 0h1m3 0h1m0 0h1m0 0h1m1 0h1m15 0h1m1 0h1m3 0h1m6 0h1m6 0h1m0 0h1m1 0h1m9 0h1m2 0h1m1 0h1m0 0h1m7 0h1m5 0h1m12 0h1m1 0h1m18 0h1m0 0h1m4 0h1m6 0h1m5 0h1m15 0h1m7 0h1m18 0h1m14 0h1m8 0h1m8 0h1m2 0h1m7 0h1m2 0h1m4 0h1m9 0h1m12 0h1m14 0h1m0 0h1m24 0h1m5 0h1m35 0h1m3 0h1m20 0h1m4 0h1m3 0h1m4 0h1M170 204h1m51 0h1m6 0h1m18 0h1m5 0h1m1 0h1m3 0h1m10 0h1m6 0h1m2 0h1m0 0h1m10 0h1m2 0h1m1 0h1m5 0h1m6 0h1m1 0h1m3 0h1m2 0h1m1 0h1m5 0h1m1 0h1m0 0h1m1 0h1m1 0h1m8 0h1m0 0h1m0 0h1m0 0h1m4 0h1m0 0h1m8 0h1m3 0h1m2 0h1m6 0h1m6 0h1m4 0h1m0 0h1m4 0h1m3 0h1m0 0h1m11 0h1m12 0h1m2 0h1m0 0h1m2 0h1m7 0h1m9 0h1m9 0h1m1 0h1m3 0h1m1 0h1m6 0h1m3 0h1m0 0h1m1 0h1m1 0h1m1 0h1m5 0h1m0 0h1m4 0h1m7 0h1m0 0h1m2 0h1m4 0h1m13 0h1m1 0h1m2 0h1m5 0h1m2 0h1m0 0h1m11 0h1m4 0h1m1 0h1m6 0h1m14 0h1m0 0h1m4 0h1m4 0h1m0 0h1m0 0h1m0 0h1m1 0h1m3 0h1m1 0h1m4 0h1m1 0h1m5 0h1m4 0h1m6 0h1m3 0h1m1 0h1m13 0h1m2 0h1m1 0h1m3 0h1m13 0h1m12 0h1m33 0h1m0 0h1m1 0h1m3 0h1m24 0h1m15 0h1m2 0h1m0 0h1m11 0h1m8 0h1m19 0h1m0 0h1m3 0h1m8 0h1M229 205h1m3 0h1m6 0h1m15 0h1m1 0h1m2 0h1m5 0h1m5 0h1m1 0h1m0 0h1m7 0h1m0 0h1m1 0h1m6 0h1m1 0h1m4 0h1m3 0h1m1 0h1m1 0h1m8 0h1m0 0h1m2 0h1m12 0h1m2 0h1m4 0h1m15 0h1m3 0h1m0 0h1m0 0h1m7 0h1m0 0h1m6 0h1m3 0h1m0 0h1m2 0h1m8 0h1m3 0h1m3 0h1m3 0h1m1 0h1m1 0h1m11 0h1m3 0h1m0 0h1m2 0h1m2 0h1m0 0h1m3 0h1m5 0h1m0 0h1m15 0h1m6 0h1m1 0h1m1 0h1m1 0h1m4 0h1m1 0h1m1 0h1m3 0h1m12 0h1m4 0h1m0 0h1m3 0h1m1 0h1m17 0h1m0 0h1m11 0h1m4 0h1m13 0h1m4 0h1m4 0h1m0 0h1m6 0h1m6 0h1m6 0h1m13 0h1m2 0h1m5 0h1m1 0h1m13 0h1m1 0h1m1 0h1m6 0h1m2 0h1m6 0h1m7 0h1m13 0h1m3 0h1m5 0h1m8 0h1m13 0h1m8 0h1m4 0h1m5 0h1m1 0h1m5 0h1m4 0h1m8 0h1m5 0h1m0 0h1m5 0h1m41 0h1M166 206h1m54 0h1m9 0h1m12 0h1m12 0h1m3 0h1m16 0h1m1 0h1m1 0h1m2 0h1m0 0h1m9 0h1m0 0h1m3 0h1m2 0h1m6 0h1m1 0h1m1 0h1m0 0h1m4 0h1m6 0h1m5 0h1m5 0h1m0 0h1m0 0h1m3 0h1m0 0h1m0 0h1m1 0h1m1 0h1m1 0h1m1 0h1m2 0h1m3 0h1m4 0h1m0 0h1m4 0h1m11 0h1m0 0h1m5 0h1m2 0h1m9 0h1m6 0h1m3 0h1m1 0h1m3 0h1m13 0h1m7 0h1m1 0h1m3 0h1m0 0h1m8 0h1m2 0h1m4 0h1m0 0h1m8 0h1m0 0h1m2 0h1m8 0h1m11 0h1m5 0h1m5 0h1m1 0h1m2 0h1m3 0h1m4 0h1m21 0h1m1 0h1m0 0h1m0 0h1m8 0h1m2 0h1m7 0h1m17 0h1m1 0h1m4 0h1m6 0h1m12 0h1m4 0h1m5 0h1m3 0h1m2 0h1m0 0h1m2 0h1m2 0h1m7 0h1m8 0h1m12 0h1m3 0h1m6 0h1m29 0h1m8 0h1m1 0h1m21 0h1m17 0h1m0 0h1m1 0h1m16 0h1m3 0h1m29 0h1M120 207h1m63 0h1m8 0h1m14 0h1m31 0h1m7 0h1m0 0h1m1 0h1m3 0h1m8 0h1m16 0h1m2 0h1m5 0h1m2 0h1m3 0h1m4 0h1m0 0h1m1 0h1m1 0h1m0 0h1m0 0h1m3 0h1m7 0h1m0 0h1m1 0h1m3 0h1m1 0h1m8 0h1m0 0h1m0 0h1m7 0h1m0 0h1m1 0h1m5 0h1m2 0h1m2 0h1m5 0h1m10 0h1m0 0h1m0 0h1m4 0h1m13 0h1m6 0h1m15 0h1m0 0h1m0 0h1m2 0h1m0 0h1m0 0h1m3 0h1m0 0h1m3 0h1m0 0h1m0 0h1m4 0h1m2 0h1m1 0h1m1 0h1m0 0h1m1 0h1m2 0h1m2 0h1m1 0h1m0 0h1m0 0h1m0 0h1m3 0h1m2 0h1m0 0h1m2 0h1m10 0h1m10 0h1m1 0h1m8 0h1m0 0h1m0 0h1m4 0h1m5 0h1m1 0h1m7 0h1m2 0h1m1 0h1m1 0h1m1 0h1m15 0h1m0 0h1m13 0h1m7 0h1m6 0h1m11 0h1m12 0h1m6 0h1m0 0h1m0 0h1m13 0h1m2 0h1m21 0h1m21 0h1m22 0h1m0 0h1m2 0h1m0 0h1m27 0h1m2 0h1m24 0h1m21 0h1m24 0h1m5 0h1m3 0h1m2 0h1M180 208h1m42 0h1m6 0h1m3 0h1m4 0h1m5 0h1m1 0h1m0 0h1m5 0h1m0 0h1m0 0h1m9 0h1m4 0h1m1 0h1m6 0h1m2 0h1m0 0h1m2 0h1m3 0h1m3 0h1m1 0h1m5 0h1m1 0h1m1 0h1m1 0h1m4 0h1m0 0h1m2 0h1m6 0h1m3 0h1m1 0h1m0 0h1m7 0h1m1 0h1m2 0h1m0 0h1m0 0h1m0 0h1m0 0h1m7 0h1m3 0h1m6 0h1m1 0h1m0 0h1m0 0h1m4 0h1m0 0h1m4 0h1m2 0h1m3 0h1m8 0h1m4 0h1m8 0h1m2 0h1m1 0h1m9 0h1m2 0h1m6 0h1m7 0h1m4 0h1m3 0h1m1 0h1m0 0h1m5 0h1m5 0h1m0 0h1m16 0h1m2 0h1m0 0h1m10 0h1m0 0h1m9 0h1m7 0h1m8 0h1m2 0h1m4 0h1m1 0h1m0 0h1m8 0h1m5 0h1m0 0h1m4 0h1m13 0h1m10 0h1m13 0h1m0 0h1m3 0h1m1 0h1m1 0h1m1 0h1m2 0h1m1 0h1m3 0h1m1 0h1m2 0h1m6 0h1m7 0h1m1 0h1m6 0h1m25 0h1m10 0h1m1 0h1m2 0h1m2 0h1m5 0h1m6 0h1m8 0h1m7 0h1m2 0h1m1 0h1m5 0h1m0 0h1m0 0h1m7 0h1m11 0h1m66 0h1m3 0h1M195 209h1m21 0h1m6 0h1m10 0h1m2 0h1m12 0h1m8 0h1m3 0h1m3 0h1m2 0h1m0 0h1m2 0h1m4 0h1m0 0h1m0 0h1m2 0h1m0 0h1m2 0h1m2 0h1m0 0h1m1 0h1m0 0h1m3 0h1m3 0h1m1 0h1m1 0h1m1 0h1m3 0h1m1 0h1m2 0h1m8 0h1m8 0h1m1 0h1m5 0h1m2 0h1m3 0h1m2 0h1m1 0h1m12 0h1m5 0h1m4 0h1m1 0h1m3 0h1m4 0h1m7 0h1m6 0h1m2 0h1m1 0h1m12 0h1m4 0h1m0 0h1m1 0h1m2 0h1m5 0h1m1 0h1m0 0h1m4 0h1m0 0h1m20 0h1m11 0h1m3 0h1m2 0h1m1 0h1m1 0h1m5 0h1m1 0h1m13 0h1m1 0h1m0 0h1m2 0h1m3 0h1m6 0h1m3 0h1m3 0h1m10 0h1m3 0h1m20 0h1m1 0h1m4 0h1m5 0h1m1 0h1m10 0h1m5 0h1m0 0h1m2 0h1m3 0h1m4 0h1m3 0h1m14 0h1m2 0h1m0 0h1m2 0h1m0 0h1m4 0h1m14 0h1m13 0h1m29 0h1m19 0h1m5 0h1m2 0h1m20 0h1m5 0h1m9 0h1m8 0h1m0 0h1m4 0h1m15 0h1M175 210h1m7 0h1m0 0h1m5 0h1m28 0h1m3 0h1m4 0h1m1 0h1m5 0h1m3 0h1m2 0h1m0 0h1m0 0h1m14 0h1m5 0h1m6 0h1m3 0h1m0 0h1m5 0h1m2 0h1m2 0h1m1 0h1m2 0h1m3 0h1m1 0h1m3 0h1m0 0h1m1 0h1m0 0h1m0 0h1m2 0h1m3 0h1m2 0h1m6 0h1m7 0h1m3 0h1m6 0h1m0 0h1m0 0h1m2 0h1m3 0h1m7 0h1m6 0h1m5 0h1m4 0h1m2 0h1m8 0h1m0 0h1m4 0h1m1 0h1m17 0h1m9 0h1m5 0h1m21 0h1m2 0h1m2 0h1m0 0h1m2 0h1m1 0h1m2 0h1m5 0h1m0 0h1m2 0h1m3 0h1m1 0h1m6 0h1m5 0h1m0 0h1m1 0h1m28 0h1m1 0h1m11 0h1m6 0h1m4 0h1m0 0h1m10 0h1m12 0h1m1 0h1m3 0h1m0 0h1m2 0h1m5 0h1m6 0h1m3 0h1m1 0h1m0 0h1m7 0h1m2 0h1m5 0h1m14 0h1m6 0h1m4 0h1m13 0h1m20 0h1m3 0h1m19 0h1m3 0h1m14 0h1m8 0h1m13 0h1m19 0h1m39 0h1m6 0h1m3 0h1M139 211h1m27 0h1m8 0h1m33 0h1m3 0h1m2 0h1m9 0h1m7 0h1m2 0h1m1 0h1m7 0h1m1 0h1m7 0h1m3 0h1m5 0h1m0 0h1m3 0h1m4 0h1m0 0h1m3 0h1m1 0h1m0 0h1m1 0h1m4 0h1m1 0h1m6 0h1m0 0h1m7 0h1m5 0h1m2 0h1m2 0h1m1 0h1m1 0h1m6 0h1m3 0h1m6 0h1m0 0h1m0 0h1m1 0h1m0 0h1m3 0h1m1 0h1m2 0h1m0 0h1m2 0h1m2 0h1m0 0h1m7 0h1m0 0h1m2 0h1m1 0h1m2 0h1m3 0h1m2 0h1m0 0h1m1 0h1m5 0h1m0 0h1m2 0h1m4 0h1m6 0h1m12 0h1m0 0h1m1 0h1m5 0h1m0 0h1m1 0h1m4 0h1m1 0h1m0 0h1m4 0h1m13 0h1m13 0h1m0 0h1m0 0h1m0 0h1m1 0h1m2 0h1m3 0h1m2 0h1m0 0h1m4 0h1m16 0h1m2 0h1m0 0h1m5 0h1m4 0h1m1 0h1m17 0h1m4 0h1m14 0h1m3 0h1m22 0h1m20 0h1m12 0h1m50 0h1m3 0h1m4 0h1m0 0h1m0 0h1m29 0h1m12 0h1m27 0h1m7 0h1m47 0h1M101 212h1m20 0h1m7 0h1m46 0h1m17 0h1m9 0h1m7 0h1m5 0h1m5 0h1m2 0h1m7 0h1m16 0h1m2 0h1m2 0h1m2 0h1m2 0h1m2 0h1m0 0h1m2 0h1m5 0h1m0 0h1m0 0h1m6 0h1m5 0h1m22 0h1m1 0h1m6 0h1m2 0h1m0 0h1m2 0h1m0 0h1m1 0h1m3 0h1m5 0h1m3 0h1m8 0h1m1 0h1m2 0h1m0 0h1m2 0h1m0 0h1m2 0h1m3 0h1m2 0h1m4 0h1m1 0h1m5 0h1m5 0h1m1 0h1m7 0h1m0 0h1m10 0h1m5 0h1m6 0h1m0 0h1m0 0h1m7 0h1m2 0h1m0 0h1m3 0h1m7 0h1m7 0h1m3 0h1m1 0h1m10 0h1m8 0h1m2 0h1m0 0h1m2 0h1m3 0h1m9 0h1m10 0h1m1 0h1m3 0h1m1 0h1m8 0h1m20 0h1m4 0h1m0 0h1m26 0h1m9 0h1m7 0h1m1 0h1m5 0h1m0 0h1m8 0h1m0 0h1m3 0h1m0 0h1m0 0h1m8 0h1m3 0h1m1 0h1m4 0h1m12 0h1m3 0h1m5 0h1m7 0h1m22 0h1m9 0h1m2 0h1m16 0h1m3 0h1m24 0h1m13 0h1m32 0h1M163 213h1m18 0h1m6 0h1m15 0h1m3 0h1m4 0h1m8 0h1m3 0h1m1 0h1m4 0h1m5 0h1m5 0h1m4 0h1m4 0h1m0 0h1m14 0h1m2 0h1m10 0h1m1 0h1m0 0h1m2 0h1m1 0h1m0 0h1m1 0h1m3 0h1m0 0h1m1 0h1m2 0h1m5 0h1m1 0h1m1 0h1m1 0h1m4 0h1m0 0h1m1 0h1m5 0h1m5 0h1m2 0h1m1 0h1m0 0h1m0 0h1m4 0h1m1 0h1m1 0h1m0 0h1m2 0h1m5 0h1m5 0h1m3 0h1m4 0h1m1 0h1m2 0h1m0 0h1m1 0h1m2 0h1m3 0h1m6 0h1m1 0h1m3 0h1m1 0h1m1 0h1m5 0h1m5 0h1m0 0h1m7 0h1m6 0h1m8 0h1m5 0h1m11 0h1m6 0h1m0 0h1m7 0h1m8 0h1m5 0h1m2 0h1m1 0h1m2 0h1m1 0h1m0 0h1m5 0h1m11 0h1m0 0h1m4 0h1m1 0h1m7 0h1m6 0h1m0 0h1m11 0h1m1 0h1m5 0h1m6 0h1m1 0h1m1 0h1m5 0h1m3 0h1m0 0h1m0 0h1m3 0h1m21 0h1m4 0h1m3 0h1m4 0h1m0 0h1m13 0h1m13 0h1m5 0h1m52 0h1m7 0h1m12 0h1m15 0h1m2 0h1m16 0h1m10 0h1m1 0h1m9 0h1m2 0h1m11 0h1m8 0h1M166 214h1m7 0h1m0 0h1m2 0h1m5 0h1m9 0h1m22 0h1m0 0h1m0 0h1m4 0h1m12 0h1m0 0h1m13 0h1m1 0h1m1 0h1m0 0h1m2 0h1m3 0h1m1 0h1m2 0h1m1 0h1m0 0h1m1 0h1m0 0h1m1 0h1m4 0h1m0 0h1m0 0h1m1 0h1m4 0h1m2 0h1m0 0h1m0 0h1m0 0h1m0 0h1m0 0h1m1 0h1m0 0h1m5 0h1m0 0h1m2 0h1m4 0h1m0 0h1m1 0h1m4 0h1m2 0h1m2 0h1m0 0h1m0 0h1m0 0h1m1 0h1m7 0h1m0 0h1m0 0h1m1 0h1m5 0h1m1 0h1m9 0h1m1 0h1m1 0h1m2 0h1m4 0h1m9 0h1m5 0h1m11 0h1m4 0h1m0 0h1m2 0h1m1 0h1m0 0h1m4 0h1m8 0h1m0 0h1m0 0h1m2 0h1m9 0h1m0 0h1m3 0h1m4 0h1m2 0h1m3 0h1m0 0h1m5 0h1m1 0h1m1 0h1m0 0h1m3 0h1m4 0h1m8 0h1m3 0h1m0 0h1m1 0h1m1 0h1m5 0h1m2 0h1m1 0h1m1 0h1m6 0h1m0 0h1m3 0h1m0 0h1m7 0h1m1 0h1m3 0h1m1 0h1m2 0h1m2 0h1m4 0h1m0 0h1m0 0h1m1 0h1m3 0h1m2 0h1m3 0h1m3 0h1m1 0h1m1 0h1m1 0h1m0 0h1m10 0h1m11 0h1m5 0h1m6 0h1m0 0h1m0 0h1m6 0h1m21 0h1m3 0h1m8 0h1m2 0h1m11 0h1m4 0h1m1 0h1m7 0h1m4 0h1m2 0h1m7 0h1m39 0h1m10 0h1m14 0h1m12 0h1m7 0h1m22 0h1M159 215h1m1 0h1m7 0h1m13 0h1m8 0h1m9 0h1m0 0h1m0 0h1m14 0h1m0 0h1m2 0h1m0 0h1m0 0h1m3 0h1m3 0h1m8 0h1m0 0h1m9 0h1m8 0h1m5 0h1m1 0h1m1 0h1m0 0h1m0 0h1m8 0h1m2 0h1m2 0h1m9 0h1m3 0h1m2 0h1m4 0h1m5 0h1m0 0h1m6 0h1m0 0h1m0 0h1m2 0h1m0 0h1m0 0h1m1 0h1m1 0h1m1 0h1m4 0h1m8 0h1m1 0h1m4 0h1m2 0h1m0 0h1m3 0h1m3 0h1m3 0h1m2 0h1m6 0h1m10 0h1m12 0h1m2 0h1m3 0h1m0 0h1m3 0h1m1 0h1m2 0h1m2 0h1m2 0h1m14 0h1m0 0h1m4 0h1m9 0h1m2 0h1m4 0h1m7 0h1m1 0h1m0 0h1m4 0h1m5 0h1m0 0h1m4 0h1m7 0h1m1 0h1m0 0h1m0 0h1m7 0h1m12 0h1m1 0h1m2 0h1m3 0h1m7 0h1m4 0h1m0 0h1m0 0h1m0 0h1m6 0h1m0 0h1m6 0h1m2 0h1m0 0h1m2 0h1m10 0h1m1 0h1m4 0h1m19 0h1m1 0h1m6 0h1m16 0h1m5 0h1m3 0h1m3 0h1m1 0h1m9 0h1m0 0h1m4 0h1m10 0h1m2 0h1m1 0h1m7 0h1m21 0h1m4 0h1m4 0h1m19 0h1m20 0h1m6 0h1m20 0h1m12 0h1m16 0h1M129 216h1m26 0h1m6 0h1m32 0h1m1 0h1m0 0h1m3 0h1m0 0h1m7 0h1m0 0h1m6 0h1m1 0h1m0 0h1m5 0h1m4 0h1m0 0h1m2 0h1m0 0h1m0 0h1m2 0h1m6 0h1m0 0h1m0 0h1m1 0h1m0 0h1m0 0h1m3 0h1m0 0h1m0 0h1m1 0h1m1 0h1m1 0h1m1 0h1m3 0h1m0 0h1m1 0h1m0 0h1m1 0h1m1 0h1m0 0h1m1 0h1m5 0h1m2 0h1m1 0h1m0 0h1m3 0h1m4 0h1m0 0h1m2 0h1m0 0h1m11 0h1m3 0h1m2 0h1m1 0h1m4 0h1m3 0h1m4 0h1m0 0h1m2 0h1m1 0h1m0 0h1m0 0h1m2 0h1m6 0h1m0 0h1m8 0h1m1 0h1m2 0h1m4 0h1m6 0h1m5 0h1m6 0h1m1 0h1m4 0h1m6 0h1m1 0h1m1 0h1m8 0h1m6 0h1m1 0h1m1 0h1m2 0h1m2 0h1m5 0h1m2 0h1m1 0h1m2 0h1m9 0h1m3 0h1m10 0h1m3 0h1m2 0h1m0 0h1m1 0h1m1 0h1m8 0h1m7 0h1m0 0h1m2 0h1m0 0h1m4 0h1m11 0h1m7 0h1m3 0h1m0 0h1m6 0h1m2 0h1m1 0h1m2 0h1m3 0h1m4 0h1m0 0h1m4 0h1m2 0h1m16 0h1m0 0h1m11 0h1m4 0h1m4 0h1m4 0h1m3 0h1m7 0h1m2 0h1m1 0h1m0 0h1m1 0h1m1 0h1m14 0h1m2 0h1m1 0h1m8 0h1m1 0h1m5 0h1m18 0h1m3 0h1m1 0h1m10 0h1m23 0h1m9 0h1m16 0h1m26 0h1m9 0h1m3 0h1M72 217h1m103 0h1m6 0h1m8 0h1m2 0h1m9 0h1m1 0h1m4 0h1m1 0h1m4 0h1m0 0h1m11 0h1m7 0h1m0 0h1m0 0h1m1 0h1m1 0h1m4 0h1m4 0h1m8 0h1m3 0h1m2 0h1m0 0h1m3 0h1m1 0h1m2 0h1m13 0h1m0 0h1m0 0h1m5 0h1m4 0h1m1 0h1m1 0h1m11 0h1m1 0h1m0 0h1m5 0h1m4 0h1m0 0h1m2 0h1m0 0h1m5 0h1m5 0h1m0 0h1m1 0h1m5 0h1m0 0h1m16 0h1m12 0h1m0 0h1m6 0h1m6 0h1m1 0h1m1 0h1m3 0h1m2 0h1m5 0h1m1 0h1m1 0h1m1 0h1m3 0h1m15 0h1m6 0h1m4 0h1m1 0h1m2 0h1m0 0h1m1 0h1m8 0h1m1 0h1m5 0h1m0 0h1m3 0h1m1 0h1m1 0h1m0 0h1m4 0h1m9 0h1m0 0h1m3 0h1m3 0h1m1 0h1m1 0h1m0 0h1m0 0h1m0 0h1m0 0h1m1 0h1m2 0h1m8 0h1m3 0h1m5 0h1m4 0h1m1 0h1m0 0h1m3 0h1m0 0h1m6 0h1m2 0h1m0 0h1m10 0h1m1 0h1m15 0h1m5 0h1m2 0h1m7 0h1m0 0h1m12 0h1m3 0h1m15 0h1m25 0h1m9 0h1m12 0h1m2 0h1m9 0h1m1 0h1m5 0h1m1 0h1m15 0h1m21 0h1m9 0h1m13 0h1m12 0h1M152 218h1m19 0h1m7 0h1m4 0h1m5 0h1m7 0h1m4 0h1m0 0h1m1 0h1m0 0h1m1 0h1m6 0h1m1 0h1m1 0h1m2 0h1m0 0h1m2 0h1m1 0h1m3 0h1m0 0h1m2 0h1m4 0h1m4 0h1m2 0h1m0 0h1m1 0h1m13 0h1m5 0h1m9 0h1m1 0h1m0 0h1m1 0h1m1 0h1m2 0h1m0 0h1m2 0h1m6 0h1m4 0h1m0 0h1m1 0h1m3 0h1m2 0h1m2 0h1m4 0h1m1 0h1m6 0h1m1 0h1m1 0h1m3 0h1m5 0h1m0 0h1m1 0h1m0 0h1m1 0h1m0 0h1m0 0h1m0 0h1m0 0h1m2 0h1m1 0h1m1 0h1m0 0h1m0 0h1m5 0h1m4 0h1m3 0h1m2 0h1m2 0h1m6 0h1m2 0h1m15 0h1m1 0h1m9 0h1m8 0h1m0 0h1m1 0h1m0 0h1m0 0h1m3 0h1m2 0h1m2 0h1m1 0h1m4 0h1m0 0h1m3 0h1m1 0h1m3 0h1m2 0h1m1 0h1m5 0h1m7 0h1m3 0h1m3 0h1m2 0h1m3 0h1m2 0h1m6 0h1m2 0h1m14 0h1m4 0h1m6 0h1m3 0h1m1 0h1m6 0h1m6 0h1m4 0h1m0 0h1m3 0h1m0 0h1m5 0h1m13 0h1m3 0h1m0 0h1m2 0h1m5 0h1m8 0h1m2 0h1m0 0h1m0 0h1m2 0h1m25 0h1m9 0h1m1 0h1m0 0h1m18 0h1m0 0h1m8 0h1m8 0h1m6 0h1m0 0h1m1 0h1m5 0h1m2 0h1m8 0h1m6 0h1m13 0h1m15 0h1M149 219h1m0 0h1m20 0h1m3 0h1m1 0h1m5 0h1m7 0h1m3 0h1m0 0h1m5 0h1m0 0h1m1 0h1m2 0h1m0 0h1m7 0h1m1 0h1m0 0h1m0 0h1m0 0h1m0 0h1m8 0h1m7 0h1m0 0h1m2 0h1m3 0h1m0 0h1m6 0h1m1 0h1m0 0h1m1 0h1m1 0h1m1 0h1m2 0h1m2 0h1m5 0h1m1 0h1m6 0h1m3 0h1m5 0h1m1 0h1m4 0h1m0 0h1m0 0h1m4 0h1m0 0h1m5 0h1m2 0h1m2 0h1m1 0h1m0 0h1m0 0h1m5 0h1m7 0h1m2 0h1m19 0h1m0 0h1m10 0h1m0 0h1m0 0h1m0 0h1m2 0h1m1 0h1m1 0h1m9 0h1m0 0h1m0 0h1m3 0h1m4 0h1m12 0h1m2 0h1m0 0h1m3 0h1m13 0h1m1 0h1m0 0h1m4 0h1m0 0h1m7 0h1m5 0h1m3 0h1m1 0h1m6 0h1m0 0h1m0 0h1m1 0h1m5 0h1m4 0h1m0 0h1m8 0h1m5 0h1m6 0h1m6 0h1m7 0h1m2 0h1m3 0h1m0 0h1m1 0h1m0 0h1m1 0h1m0 0h1m12 0h1m8 0h1m0 0h1m5 0h1m0 0h1m0 0h1m0 0h1m10 0h1m0 0h1m4 0h1m0 0h1m7 0h1m10 0h1m8 0h1m3 0h1m16 0h1m1 0h1m11 0h1m0 0h1m6 0h1m8 0h1m0 0h1m1 0h1m15 0h1m17 0h1m19 0h1m18 0h1m4 0h1m5 0h1m5 0h1m46 0h1m14 0h1M134 220h1m19 0h1m6 0h1m2 0h1m10 0h1m3 0h1m8 0h1m12 0h1m1 0h1m0 0h1m0 0h1m2 0h1m1 0h1m2 0h1m2 0h1m6 0h1m5 0h1m0 0h1m1 0h1m1 0h1m4 0h1m3 0h1m0 0h1m2 0h1m1 0h1m0 0h1m0 0h1m0 0h1m2 0h1m0 0h1m1 0h1m3 0h1m0 0h1m2 0h1m1 0h1m0 0h1m2 0h1m2 0h1m2 0h1m3 0h1m0 0h1m0 0h1m6 0h1m2 0h1m0 0h1m1 0h1m1 0h1m3 0h1m0 0h1m3 0h1m1 0h1m1 0h1m5 0h1m1 0h1m0 0h1m2 0h1m1 0h1m1 0h1m2 0h1m0 0h1m2 0h1m3 0h1m0 0h1m4 0h1m0 0h1m1 0h1m6 0h1m0 0h1m2 0h1m0 0h1m1 0h1m0 0h1m8 0h1m0 0h1m16 0h1m1 0h1m1 0h1m3 0h1m5 0h1m5 0h1m0 0h1m1 0h1m6 0h1m1 0h1m2 0h1m4 0h1m1 0h1m1 0h1m9 0h1m2 0h1m2 0h1m3 0h1m1 0h1m9 0h1m24 0h1m4 0h1m2 0h1m1 0h1m8 0h1m1 0h1m22 0h1m0 0h1m1 0h1m3 0h1m0 0h1m10 0h1m0 0h1m3 0h1m5 0h1m11 0h1m7 0h1m0 0h1m1 0h1m3 0h1m5 0h1m5 0h1m1 0h1m2 0h1m2 0h1m1 0h1m2 0h1m4 0h1m1 0h1m5 0h1m19 0h1m5 0h1m0 0h1m7 0h1m3 0h1m6 0h1m0 0h1m4 0h1m3 0h1m7 0h1m2 0h1m21 0h1m11 0h1m4 0h1m19 0h1m18 0h1m53 0h1M151 221h1m1 0h1m7 0h1m16 0h1m4 0h1m10 0h1m0 0h1m0 0h1m5 0h1m2 0h1m2 0h1m0 0h1m0 0h1m0 0h1m6 0h1m4 0h1m3 0h1m3 0h1m0 0h1m0 0h1m1 0h1m0 0h1m1 0h1m0 0h1m7 0h1m0 0h1m0 0h1m2 0h1m8 0h1m0 0h1m2 0h1m0 0h1m0 0h1m0 0h1m0 0h1m2 0h1m6 0h1m1 0h1m1 0h1m1 0h1m3 0h1m1 0h1m1 0h1m6 0h1m0 0h1m2 0h1m2 0h1m4 0h1m2 0h1m4 0h1m4 0h1m3 0h1m0 0h1m0 0h1m2 0h1m3 0h1m2 0h1m4 0h1m1 0h1m1 0h1m2 0h1m0 0h1m6 0h1m0 0h1m1 0h1m1 0h1m3 0h1m5 0h1m1 0h1m1 0h1m2 0h1m0 0h1m1 0h1m8 0h1m0 0h1m21 0h1m1 0h1m3 0h1m0 0h1m6 0h1m0 0h1m5 0h1m0 0h1m0 0h1m13 0h1m2 0h1m1 0h1m5 0h1m1 0h1m19 0h1m1 0h1m2 0h1m2 0h1m2 0h1m0 0h1m2 0h1m3 0h1m7 0h1m1 0h1m0 0h1m6 0h1m4 0h1m1 0h1m1 0h1m4 0h1m19 0h1m9 0h1m0 0h1m6 0h1m1 0h1m2 0h1m22 0h1m5 0h1m0 0h1m4 0h1m24 0h1m10 0h1m1 0h1m0 0h1m8 0h1m15 0h1m4 0h1m23 0h1m0 0h1m0 0h1m3 0h1m9 0h1m21 0h1m12 0h1m4 0h1m11 0h1m8 0h1m0 0h1m8 0h1m27 0h1M130 222h1m23 0h1m1 0h1m8 0h1m3 0h1m2 0h1m2 0h1m8 0h1m1 0h1m2 0h1m6 0h1m2 0h1m3 0h1m1 0h1m0 0h1m4 0h1m0 0h1m1 0h1m0 0h1m1 0h1m2 0h1m1 0h1m0 0h1m3 0h1m4 0h1m0 0h1m2 0h1m0 0h1m0 0h1m0 0h1m1 0h1m2 0h1m0 0h1m4 0h1m0 0h1m7 0h1m4 0h1m2 0h1m2 0h1m0 0h1m3 0h1m4 0h1m2 0h1m5 0h1m0 0h1m0 0h1m0 0h1m2 0h1m3 0h1m0 0h1m1 0h1m4 0h1m0 0h1m3 0h1m0 0h1m2 0h1m7 0h1m2 0h1m2 0h1m5 0h1m2 0h1m5 0h1m1 0h1m0 0h1m1 0h1m13 0h1m6 0h1m0 0h1m0 0h1m0 0h1m0 0h1m5 0h1m2 0h1m0 0h1m5 0h1m5 0h1m0 0h1m2 0h1m1 0h1m1 0h1m0 0h1m5 0h1m0 0h1m2 0h1m0 0h1m20 0h1m1 0h1m3 0h1m0 0h1m6 0h1m0 0h1m4 0h1m0 0h1m5 0h1m0 0h1m7 0h1m2 0h1m12 0h1m3 0h1m2 0h1m2 0h1m7 0h1m2 0h1m0 0h1m8 0h1m0 0h1m12 0h1m9 0h1m7 0h1m2 0h1m17 0h1m0 0h1m1 0h1m11 0h1m8 0h1m5 0h1m3 0h1m2 0h1m0 0h1m0 0h1m4 0h1m9 0h1m2 0h1m2 0h1m16 0h1m8 0h1m0 0h1m7 0h1m10 0h1m0 0h1m1 0h1m9 0h1m1 0h1m0 0h1m18 0h1m1 0h1m9 0h1m5 0h1m26 0h1m29 0h1m28 0h1M141 223h1m13 0h1m10 0h1m1 0h1m2 0h1m0 0h1m1 0h1m6 0h1m2 0h1m0 0h1m0 0h1m0 0h1m1 0h1m1 0h1m9 0h1m0 0h1m9 0h1m1 0h1m0 0h1m1 0h1m4 0h1m1 0h1m1 0h1m0 0h1m5 0h1m0 0h1m1 0h1m0 0h1m0 0h1m0 0h1m1 0h1m2 0h1m0 0h1m0 0h1m2 0h1m2 0h1m0 0h1m3 0h1m0 0h1m4 0h1m0 0h1m0 0h1m2 0h1m4 0h1m2 0h1m1 0h1m0 0h1m2 0h1m12 0h1m6 0h1m3 0h1m11 0h1m1 0h1m0 0h1m0 0h1m4 0h1m10 0h1m6 0h1m1 0h1m0 0h1m3 0h1m2 0h1m4 0h1m1 0h1m3 0h1m0 0h1m3 0h1m1 0h1m1 0h1m0 0h1m2 0h1m6 0h1m5 0h1m3 0h1m0 0h1m4 0h1m13 0h1m5 0h1m0 0h1m5 0h1m3 0h1m0 0h1m25 0h1m0 0h1m0 0h1m1 0h1m0 0h1m10 0h1m0 0h1m8 0h1m10 0h1m0 0h1m4 0h1m2 0h1m16 0h1m9 0h1m1 0h1m3 0h1m0 0h1m0 0h1m3 0h1m0 0h1m11 0h1m3 0h1m8 0h1m10 0h1m11 0h1m11 0h1m0 0h1m0 0h1m0 0h1m2 0h1m1 0h1m1 0h1m0 0h1m10 0h1m4 0h1m8 0h1m0 0h1m3 0h1m0 0h1m3 0h1m4 0h1m2 0h1m0 0h1m13 0h1m1 0h1m3 0h1m2 0h1m0 0h1m6 0h1m14 0h1m2 0h1m15 0h1m15 0h1m13 0h1m3 0h1m25 0h1m6 0h1m0 0h1m28 0h1M101 224h1m29 0h1m21 0h1m11 0h1m3 0h1m0 0h1m3 0h1m5 0h1m1 0h1m1 0h1m3 0h1m8 0h1m0 0h1m2 0h1m4 0h1m3 0h1m2 0h1m0 0h1m1 0h1m0 0h1m3 0h1m1 0h1m0 0h1m8 0h1m2 0h1m8 0h1m5 0h1m0 0h1m3 0h1m0 0h1m1 0h1m0 0h1m0 0h1m0 0h1m5 0h1m2 0h1m0 0h1m2 0h1m14 0h1m5 0h1m6 0h1m2 0h1m0 0h1m2 0h1m0 0h1m0 0h1m1 0h1m0 0h1m0 0h1m6 0h1m0 0h1m4 0h1m0 0h1m1 0h1m7 0h1m0 0h1m12 0h1m0 0h1m1 0h1m7 0h1m1 0h1m2 0h1m0 0h1m1 0h1m2 0h1m6 0h1m3 0h1m1 0h1m3 0h1m0 0h1m2 0h1m8 0h1m1 0h1m0 0h1m1 0h1m2 0h1m11 0h1m5 0h1m5 0h1m4 0h1m0 0h1m3 0h1m1 0h1m3 0h1m1 0h1m0 0h1m0 0h1m13 0h1m12 0h1m0 0h1m24 0h1m0 0h1m0 0h1m7 0h1m4 0h1m3 0h1m4 0h1m1 0h1m3 0h1m4 0h1m0 0h1m0 0h1m5 0h1m0 0h1m0 0h1m6 0h1m8 0h1m2 0h1m3 0h1m6 0h1m0 0h1m0 0h1m5 0h1m5 0h1m1 0h1m1 0h1m1 0h1m10 0h1m5 0h1m2 0h1m7 0h1m7 0h1m0 0h1m6 0h1m6 0h1m28 0h1m0 0h1m6 0h1m2 0h1m11 0h1m46 0h1m9 0h1m5 0h1m14 0h1m7 0h1m11 0h1M73 225h1m34 0h1m30 0h1m6 0h1m1 0h1m1 0h1m17 0h1m2 0h1m2 0h1m1 0h1m4 0h1m1 0h1m4 0h1m9 0h1m1 0h1m2 0h1m2 0h1m1 0h1m0 0h1m2 0h1m2 0h1m1 0h1m1 0h1m6 0h1m2 0h1m1 0h1m1 0h1m0 0h1m0 0h1m0 0h1m2 0h1m1 0h1m0 0h1m1 0h1m4 0h1m4 0h1m0 0h1m3 0h1m4 0h1m2 0h1m1 0h1m7 0h1m0 0h1m0 0h1m0 0h1m0 0h1m1 0h1m1 0h1m1 0h1m0 0h1m1 0h1m1 0h1m3 0h1m1 0h1m2 0h1m3 0h1m4 0h1m0 0h1m7 0h1m1 0h1m3 0h1m2 0h1m6 0h1m0 0h1m1 0h1m3 0h1m5 0h1m3 0h1m1 0h1m0 0h1m5 0h1m12 0h1m11 0h1m21 0h1m2 0h1m2 0h1m6 0h1m3 0h1m3 0h1m1 0h1m3 0h1m2 0h1m0 0h1m1 0h1m1 0h1m0 0h1m8 0h1m1 0h1m4 0h1m5 0h1m4 0h1m1 0h1m8 0h1m2 0h1m4 0h1m0 0h1m1 0h1m10 0h1m0 0h1m7 0h1m6 0h1m0 0h1m2 0h1m3 0h1m12 0h1m0 0h1m4 0h1m3 0h1m1 0h1m3 0h1m4 0h1m5 0h1m4 0h1m6 0h1m4 0h1m1 0h1m28 0h1m12 0h1m1 0h1m3 0h1m19 0h1m0 0h1m42 0h1m8 0h1m3 0h1m5 0h1m8 0h1m20 0h1m9 0h1m4 0h1m8 0h1m6 0h1m9 0h1m9 0h1m19 0h1M81 226h1m38 0h1m7 0h1m23 0h1m4 0h1m4 0h1m0 0h1m1 0h1m1 0h1m0 0h1m9 0h1m3 0h1m1 0h1m3 0h1m1 0h1m1 0h1m2 0h1m0 0h1m3 0h1m2 0h1m1 0h1m0 0h1m1 0h1m5 0h1m1 0h1m0 0h1m0 0h1m0 0h1m5 0h1m4 0h1m0 0h1m2 0h1m2 0h1m0 0h1m0 0h1m5 0h1m3 0h1m4 0h1m1 0h1m0 0h1m5 0h1m2 0h1m6 0h1m0 0h1m0 0h1m0 0h1m4 0h1m1 0h1m4 0h1m2 0h1m15 0h1m0 0h1m4 0h1m1 0h1m2 0h1m15 0h1m0 0h1m0 0h1m0 0h1m0 0h1m2 0h1m2 0h1m1 0h1m4 0h1m0 0h1m4 0h1m2 0h1m3 0h1m10 0h1m4 0h1m1 0h1m1 0h1m2 0h1m0 0h1m5 0h1m1 0h1m11 0h1m2 0h1m0 0h1m0 0h1m2 0h1m7 0h1m0 0h1m2 0h1m6 0h1m15 0h1m3 0h1m6 0h1m0 0h1m2 0h1m8 0h1m11 0h1m1 0h1m8 0h1m2 0h1m0 0h1m12 0h1m4 0h1m0 0h1m3 0h1m1 0h1m5 0h1m4 0h1m5 0h1m1 0h1m6 0h1m8 0h1m21 0h1m2 0h1m10 0h1m1 0h1m9 0h1m4 0h1m1 0h1m1 0h1m3 0h1m2 0h1m10 0h1m5 0h1m9 0h1m9 0h1m6 0h1m13 0h1m6 0h1m8 0h1m6 0h1m20 0h1m19 0h1m18 0h1m7 0h1m0 0h1m22 0h1m4 0h1M150 227h1m4 0h1m1 0h1m0 0h1m0 0h1m2 0h1m1 0h1m6 0h1m0 0h1m1 0h1m2 0h1m1 0h1m0 0h1m8 0h1m1 0h1m0 0h1m0 0h1m0 0h1m0 0h1m1 0h1m1 0h1m3 0h1m11 0h1m3 0h1m0 0h1m0 0h1m4 0h1m1 0h1m0 0h1m1 0h1m3 0h1m1 0h1m0 0h1m2 0h1m4 0h1m1 0h1m0 0h1m0 0h1m0 0h1m1 0h1m1 0h1m10 0h1m1 0h1m4 0h1m0 0h1m0 0h1m7 0h1m0 0h1m5 0h1m4 0h1m3 0h1m2 0h1m0 0h1m2 0h1m9 0h1m2 0h1m3 0h1m11 0h1m8 0h1m4 0h1m7 0h1m6 0h1m0 0h1m8 0h1m0 0h1m0 0h1m1 0h1m2 0h1m9 0h1m1 0h1m7 0h1m5 0h1m0 0h1m2 0h1m1 0h1m1 0h1m2 0h1m4 0h1m2 0h1m0 0h1m5 0h1m6 0h1m0 0h1m4 0h1m2 0h1m5 0h1m0 0h1m7 0h1m0 0h1m5 0h1m11 0h1m4 0h1m14 0h1m9 0h1m0 0h1m0 0h1m4 0h1m6 0h1m10 0h1m1 0h1m3 0h1m0 0h1m1 0h1m2 0h1m6 0h1m3 0h1m7 0h1m2 0h1m4 0h1m2 0h1m2 0h1m13 0h1m0 0h1m1 0h1m5 0h1m2 0h1m6 0h1m4 0h1m2 0h1m3 0h1m1 0h1m3 0h1m0 0h1m10 0h1m1 0h1m0 0h1m7 0h1m1 0h1m1 0h1m17 0h1m12 0h1m7 0h1m32 0h1m7 0h1m3 0h1m10 0h1m28 0h1m17 0h1m0 0h1m2 0h1M121 228h1m17 0h1m9 0h1m0 0h1m8 0h1m2 0h1m5 0h1m0 0h1m2 0h1m4 0h1m0 0h1m2 0h1m3 0h1m0 0h1m2 0h1m0 0h1m0 0h1m3 0h1m1 0h1m0 0h1m3 0h1m0 0h1m0 0h1m0 0h1m0 0h1m1 0h1m1 0h1m4 0h1m2 0h1m3 0h1m3 0h1m11 0h1m1 0h1m0 0h1m0 0h1m3 0h1m0 0h1m0 0h1m1 0h1m4 0h1m1 0h1m0 0h1m1 0h1m1 0h1m0 0h1m1 0h1m1 0h1m5 0h1m11 0h1m2 0h1m9 0h1m3 0h1m0 0h1m8 0h1m1 0h1m2 0h1m0 0h1m1 0h1m4 0h1m0 0h1m4 0h1m0 0h1m1 0h1m0 0h1m0 0h1m0 0h1m3 0h1m0 0h1m3 0h1m0 0h1m2 0h1m2 0h1m2 0h1m1 0h1m0 0h1m1 0h1m1 0h1m3 0h1m0 0h1m1 0h1m0 0h1m0 0h1m0 0h1m1 0h1m2 0h1m0 0h1m3 0h1m0 0h1m1 0h1m15 0h1m10 0h1m1 0h1m0 0h1m10 0h1m4 0h1m2 0h1m1 0h1m0 0h1m1 0h1m0 0h1m2 0h1m3 0h1m1 0h1m0 0h1m1 0h1m9 0h1m1 0h1m5 0h1m15 0h1m0 0h1m10 0h1m0 0h1m7 0h1m16 0h1m19 0h1m6 0h1m0 0h1m0 0h1m6 0h1m1 0h1m6 0h1m4 0h1m0 0h1m19 0h1m3 0h1m0 0h1m3 0h1m3 0h1m8 0h1m12 0h1m0 0h1m3 0h1m10 0h1m4 0h1m10 0h1m0 0h1m27 0h1m1 0h1m8 0h1m1 0h1m0 0h1m11 0h1m13 0h1m4 0h1m33 0h1m2 0h1m34 0h1m5 0h1M51 229h1m14 0h1m18 0h1m23 0h1m34 0h1m0 0h1m6 0h1m0 0h1m3 0h1m3 0h1m1 0h1m1 0h1m1 0h1m2 0h1m2 0h1m3 0h1m0 0h1m0 0h1m4 0h1m0 0h1m1 0h1m1 0h1m0 0h1m1 0h1m1 0h1m2 0h1m0 0h1m3 0h1m3 0h1m2 0h1m1 0h1m0 0h1m3 0h1m3 0h1m2 0h1m3 0h1m0 0h1m5 0h1m10 0h1m2 0h1m0 0h1m0 0h1m1 0h1m4 0h1m10 0h1m0 0h1m0 0h1m16 0h1m2 0h1m1 0h1m4 0h1m2 0h1m2 0h1m3 0h1m5 0h1m3 0h1m6 0h1m1 0h1m3 0h1m11 0h1m0 0h1m2 0h1m0 0h1m6 0h1m0 0h1m0 0h1m5 0h1m8 0h1m3 0h1m0 0h1m0 0h1m0 0h1m0 0h1m3 0h1m2 0h1m2 0h1m1 0h1m11 0h1m0 0h1m0 0h1m0 0h1m2 0h1m2 0h1m8 0h1m13 0h1m16 0h1m5 0h1m6 0h1m0 0h1m4 0h1m4 0h1m2 0h1m0 0h1m2 0h1m0 0h1m1 0h1m2 0h1m3 0h1m8 0h1m9 0h1m0 0h1m1 0h1m10 0h1m10 0h1m3 0h1m9 0h1m3 0h1m3 0h1m3 0h1m2 0h1m0 0h1m11 0h1m19 0h1m10 0h1m8 0h1m3 0h1m7 0h1m11 0h1m10 0h1m8 0h1m3 0h1m2 0h1m2 0h1m3 0h1m9 0h1m13 0h1m12 0h1m33 0h1m3 0h1m28 0h1m0 0h1m29 0h1m0 0h1m7 0h1M60 230h1m20 0h1m37 0h1m6 0h1m4 0h1m7 0h1m2 0h1m3 0h1m0 0h1m1 0h1m5 0h1m1 0h1m2 0h1m0 0h1m12 0h1m0 0h1m5 0h1m1 0h1m0 0h1m2 0h1m1 0h1m1 0h1m3 0h1m0 0h1m0 0h1m1 0h1m2 0h1m1 0h1m3 0h1m0 0h1m0 0h1m3 0h1m2 0h1m1 0h1m0 0h1m3 0h1m0 0h1m4 0h1m3 0h1m0 0h1m1 0h1m2 0h1m3 0h1m0 0h1m1 0h1m3 0h1m0 0h1m7 0h1m1 0h1m1 0h1m0 0h1m2 0h1m1 0h1m1 0h1m4 0h1m0 0h1m2 0h1m1 0h1m0 0h1m1 0h1m1 0h1m1 0h1m0 0h1m4 0h1m10 0h1m0 0h1m2 0h1m4 0h1m0 0h1m1 0h1m2 0h1m4 0h1m2 0h1m1 0h1m1 0h1m2 0h1m6 0h1m1 0h1m1 0h1m4 0h1m2 0h1m1 0h1m0 0h1m11 0h1m6 0h1m3 0h1m3 0h1m0 0h1m3 0h1m3 0h1m4 0h1m8 0h1m5 0h1m1 0h1m4 0h1m4 0h1m2 0h1m6 0h1m5 0h1m0 0h1m2 0h1m14 0h1m4 0h1m0 0h1m0 0h1m6 0h1m3 0h1m14 0h1m3 0h1m7 0h1m0 0h1m3 0h1m4 0h1m2 0h1m6 0h1m8 0h1m5 0h1m0 0h1m0 0h1m11 0h1m3 0h1m9 0h1m0 0h1m6 0h1m1 0h1m0 0h1m3 0h1m13 0h1m1 0h1m1 0h1m7 0h1m5 0h1m1 0h1m11 0h1m5 0h1m5 0h1m7 0h1m19 0h1m11 0h1m1 0h1m1 0h1m13 0h1m10 0h1m1 0h1m12 0h1m10 0h1m1 0h1m35 0h1m9 0h1m16 0h1m17 0h1M80 231h1m6 0h1m26 0h1m7 0h1m10 0h1m0 0h1m0 0h1m1 0h1m2 0h1m7 0h1m1 0h1m1 0h1m0 0h1m6 0h1m2 0h1m0 0h1m0 0h1m0 0h1m2 0h1m0 0h1m1 0h1m0 0h1m0 0h1m0 0h1m2 0h1m6 0h1m1 0h1m0 0h1m1 0h1m0 0h1m2 0h1m0 0h1m4 0h1m0 0h1m0 0h1m1 0h1m5 0h1m4 0h1m0 0h1m1 0h1m3 0h1m0 0h1m5 0h1m1 0h1m5 0h1m0 0h1m0 0h1m0 0h1m3 0h1m3 0h1m2 0h1m0 0h1m1 0h1m8 0h1m1 0h1m0 0h1m0 0h1m2 0h1m4 0h1m5 0h1m1 0h1m4 0h1m2 0h1m8 0h1m1 0h1m0 0h1m4 0h1m1 0h1m13 0h1m4 0h1m9 0h1m0 0h1m6 0h1m13 0h1m0 0h1m3 0h1m13 0h1m1 0h1m1 0h1m9 0h1m0 0h1m4 0h1m0 0h1m3 0h1m2 0h1m16 0h1m5 0h1m7 0h1m9 0h1m2 0h1m0 0h1m1 0h1m1 0h1m2 0h1m6 0h1m1 0h1m3 0h1m2 0h1m7 0h1m5 0h1m2 0h1m0 0h1m1 0h1m0 0h1m1 0h1m4 0h1m0 0h1m5 0h1m1 0h1m4 0h1m1 0h1m5 0h1m3 0h1m2 0h1m2 0h1m2 0h1m9 0h1m3 0h1m2 0h1m4 0h1m10 0h1m12 0h1m0 0h1m1 0h1m1 0h1m2 0h1m1 0h1m8 0h1m4 0h1m18 0h1m15 0h1m7 0h1m13 0h1m0 0h1m4 0h1m9 0h1m7 0h1m7 0h1m12 0h1m14 0h1m2 0h1m2 0h1m12 0h1m0 0h1m29 0h1m32 0h1m9 0h1M103 232h1m13 0h1m28 0h1m0 0h1m0 0h1m1 0h1m0 0h1m1 0h1m0 0h1m0 0h1m1 0h1m2 0h1m0 0h1m11 0h1m6 0h1m0 0h1m2 0h1m0 0h1m2 0h1m1 0h1m0 0h1m1 0h1m1 0h1m1 0h1m3 0h1m1 0h1m0 0h1m0 0h1m0 0h1m0 0h1m6 0h1m4 0h1m3 0h1m3 0h1m1 0h1m0 0h1m7 0h1m0 0h1m2 0h1m0 0h1m1 0h1m1 0h1m5 0h1m6 0h1m1 0h1m2 0h1m5 0h1m0 0h1m1 0h1m1 0h1m0 0h1m1 0h1m0 0h1m3 0h1m1 0h1m3 0h1m0 0h1m1 0h1m1 0h1m11 0h1m0 0h1m1 0h1m1 0h1m2 0h1m0 0h1m3 0h1m9 0h1m7 0h1m0 0h1m0 0h1m4 0h1m2 0h1m0 0h1m10 0h1m0 0h1m5 0h1m1 0h1m1 0h1m1 0h1m0 0h1m4 0h1m0 0h1m4 0h1m1 0h1m0 0h1m7 0h1m3 0h1m2 0h1m2 0h1m0 0h1m1 0h1m4 0h1m3 0h1m6 0h1m3 0h1m0 0h1m18 0h1m0 0h1m4 0h1m0 0h1m4 0h1m1 0h1m12 0h1m2 0h1m1 0h1m3 0h1m11 0h1m2 0h1m0 0h1m7 0h1m3 0h1m10 0h1m1 0h1m0 0h1m2 0h1m5 0h1m4 0h1m0 0h1m1 0h1m7 0h1m1 0h1m7 0h1m0 0h1m6 0h1m1 0h1m2 0h1m4 0h1m4 0h1m0 0h1m10 0h1m5 0h1m0 0h1m0 0h1m0 0h1m12 0h1m5 0h1m4 0h1m3 0h1m2 0h1m1 0h1m1 0h1m6 0h1m0 0h1m4 0h1m1 0h1m11 0h1m8 0h1m0 0h1m31 0h1m3 0h1m6 0h1m11 0h1m11 0h1m38 0h1M59 233h1m22 0h1m11 0h1m16 0h1m30 0h1m5 0h1m1 0h1m1 0h1m0 0h1m0 0h1m4 0h1m6 0h1m5 0h1m1 0h1m2 0h1m0 0h1m5 0h1m1 0h1m0 0h1m1 0h1m3 0h1m1 0h1m0 0h1m4 0h1m1 0h1m4 0h1m0 0h1m0 0h1m1 0h1m1 0h1m3 0h1m0 0h1m0 0h1m1 0h1m1 0h1m5 0h1m4 0h1m3 0h1m0 0h1m2 0h1m0 0h1m1 0h1m3 0h1m3 0h1m0 0h1m0 0h1m0 0h1m6 0h1m1 0h1m2 0h1m0 0h1m0 0h1m8 0h1m0 0h1m4 0h1m0 0h1m2 0h1m6 0h1m6 0h1m0 0h1m14 0h1m3 0h1m5 0h1m5 0h1m1 0h1m4 0h1m4 0h1m3 0h1m8 0h1m1 0h1m3 0h1m1 0h1m2 0h1m1 0h1m8 0h1m1 0h1m1 0h1m1 0h1m1 0h1m1 0h1m2 0h1m0 0h1m7 0h1m6 0h1m8 0h1m2 0h1m4 0h1m2 0h1m2 0h1m6 0h1m16 0h1m2 0h1m6 0h1m7 0h1m0 0h1m1 0h1m4 0h1m3 0h1m8 0h1m0 0h1m0 0h1m1 0h1m5 0h1m15 0h1m0 0h1m0 0h1m8 0h1m2 0h1m1 0h1m7 0h1m2 0h1m9 0h1m1 0h1m1 0h1m6 0h1m1 0h1m0 0h1m0 0h1m2 0h1m3 0h1m0 0h1m6 0h1m2 0h1m6 0h1m0 0h1m18 0h1m2 0h1m0 0h1m16 0h1m9 0h1m3 0h1m12 0h1m12 0h1m8 0h1m5 0h1m30 0h1m9 0h1m18 0h1m55 0h1m3 0h1M90 234h1m9 0h1m2 0h1m3 0h1m11 0h1m12 0h1m0 0h1m1 0h1m2 0h1m8 0h1m0 0h1m2 0h1m0 0h1m3 0h1m1 0h1m1 0h1m0 0h1m0 0h1m2 0h1m0 0h1m1 0h1m2 0h1m3 0h1m0 0h1m1 0h1m1 0h1m0 0h1m0 0h1m3 0h1m0 0h1m3 0h1m1 0h1m1 0h1m0 0h1m1 0h1m0 0h1m1 0h1m2 0h1m1 0h1m2 0h1m0 0h1m0 0h1m0 0h1m4 0h1m6 0h1m0 0h1m3 0h1m2 0h1m4 0h1m2 0h1m5 0h1m0 0h1m0 0h1m11 0h1m5 0h1m2 0h1m0 0h1m0 0h1m1 0h1m6 0h1m1 0h1m1 0h1m1 0h1m0 0h1m2 0h1m4 0h1m1 0h1m1 0h1m1 0h1m5 0h1m12 0h1m2 0h1m5 0h1m0 0h1m0 0h1m0 0h1m1 0h1m4 0h1m0 0h1m0 0h1m6 0h1m4 0h1m0 0h1m2 0h1m0 0h1m0 0h1m0 0h1m7 0h1m2 0h1m4 0h1m8 0h1m0 0h1m3 0h1m0 0h1m2 0h1m0 0h1m2 0h1m2 0h1m2 0h1m0 0h1m4 0h1m6 0h1m1 0h1m2 0h1m0 0h1m7 0h1m4 0h1m0 0h1m12 0h1m2 0h1m2 0h1m0 0h1m1 0h1m6 0h1m1 0h1m2 0h1m8 0h1m1 0h1m6 0h1m12 0h1m8 0h1m3 0h1m0 0h1m1 0h1m2 0h1m0 0h1m0 0h1m2 0h1m9 0h1m4 0h1m0 0h1m0 0h1m2 0h1m4 0h1m2 0h1m6 0h1m2 0h1m0 0h1m9 0h1m0 0h1m4 0h1m1 0h1m2 0h1m14 0h1m5 0h1m7 0h1m16 0h1m8 0h1m0 0h1m1 0h1m18 0h1m12 0h1m31 0h1m3 0h1m2 0h1m7 0h1m11 0h1m8 0h1m12 0h1m22 0h1m47 0h1M69 235h1m29 0h1m13 0h1m4 0h1m10 0h1m15 0h1m0 0h1m0 0h1m3 0h1m4 0h1m4 0h1m3 0h1m5 0h1m2 0h1m1 0h1m0 0h1m4 0h1m2 0h1m0 0h1m1 0h1m0 0h1m6 0h1m2 0h1m0 0h1m0 0h1m2 0h1m0 0h1m0 0h1m2 0h1m1 0h1m1 0h1m3 0h1m6 0h1m1 0h1m0 0h1m1 0h1m8 0h1m0 0h1m6 0h1m0 0h1m1 0h1m0 0h1m2 0h1m8 0h1m3 0h1m2 0h1m0 0h1m2 0h1m2 0h1m1 0h1m4 0h1m2 0h1m0 0h1m1 0h1m2 0h1m0 0h1m7 0h1m3 0h1m9 0h1m2 0h1m1 0h1m0 0h1m5 0h1m0 0h1m6 0h1m2 0h1m0 0h1m1 0h1m1 0h1m0 0h1m0 0h1m0 0h1m0 0h1m1 0h1m1 0h1m4 0h1m3 0h1m0 0h1m2 0h1m0 0h1m0 0h1m4 0h1m2 0h1m9 0h1m3 0h1m1 0h1m4 0h1m0 0h1m3 0h1m3 0h1m0 0h1m1 0h1m6 0h1m3 0h1m12 0h1m1 0h1m1 0h1m0 0h1m3 0h1m2 0h1m3 0h1m2 0h1m3 0h1m0 0h1m6 0h1m1 0h1m2 0h1m0 0h1m2 0h1m1 0h1m2 0h1m4 0h1m2 0h1m9 0h1m13 0h1m2 0h1m19 0h1m7 0h1m2 0h1m2 0h1m4 0h1m7 0h1m13 0h1m9 0h1m2 0h1m1 0h1m4 0h1m2 0h1m8 0h1m3 0h1m8 0h1m4 0h1m13 0h1m4 0h1m5 0h1m0 0h1m6 0h1m4 0h1m3 0h1m1 0h1m4 0h1m3 0h1m3 0h1m8 0h1m1 0h1m4 0h1m2 0h1m42 0h1m0 0h1m2 0h1m5 0h1m24 0h1m9 0h1m7 0h1m24 0h1M73 236h1m23 0h1m5 0h1m3 0h1m13 0h1m8 0h1m5 0h1m0 0h1m0 0h1m0 0h1m1 0h1m6 0h1m1 0h1m1 0h1m4 0h1m1 0h1m4 0h1m0 0h1m0 0h1m1 0h1m1 0h1m1 0h1m5 0h1m0 0h1m0 0h1m1 0h1m0 0h1m3 0h1m2 0h1m1 0h1m3 0h1m0 0h1m2 0h1m1 0h1m1 0h1m1 0h1m1 0h1m5 0h1m1 0h1m1 0h1m0 0h1m1 0h1m2 0h1m4 0h1m0 0h1m5 0h1m2 0h1m1 0h1m5 0h1m3 0h1m0 0h1m3 0h1m1 0h1m0 0h1m3 0h1m3 0h1m2 0h1m0 0h1m3 0h1m1 0h1m4 0h1m3 0h1m0 0h1m1 0h1m0 0h1m2 0h1m0 0h1m2 0h1m1 0h1m3 0h1m5 0h1m3 0h1m1 0h1m9 0h1m0 0h1m1 0h1m1 0h1m4 0h1m4 0h1m10 0h1m1 0h1m1 0h1m6 0h1m7 0h1m4 0h1m0 0h1m0 0h1m2 0h1m2 0h1m2 0h1m0 0h1m0 0h1m5 0h1m6 0h1m2 0h1m6 0h1m2 0h1m0 0h1m3 0h1m2 0h1m6 0h1m5 0h1m0 0h1m0 0h1m0 0h1m1 0h1m1 0h1m0 0h1m4 0h1m4 0h1m3 0h1m2 0h1m9 0h1m0 0h1m3 0h1m3 0h1m1 0h1m4 0h1m1 0h1m1 0h1m18 0h1m13 0h1m2 0h1m0 0h1m0 0h1m3 0h1m1 0h1m6 0h1m4 0h1m0 0h1m1 0h1m1 0h1m15 0h1m5 0h1m0 0h1m8 0h1m9 0h1m0 0h1m4 0h1m0 0h1m13 0h1m21 0h1m3 0h1m17 0h1m6 0h1m6 0h1m2 0h1m0 0h1m9 0h1m9 0h1m7 0h1m4 0h1m7 0h1m2 0h1m2 0h1m4 0h1m21 0h1m12 0h1m18 0h1M72 237h1m37 0h1m9 0h1m0 0h1m0 0h1m11 0h1m2 0h1m0 0h1m1 0h1m0 0h1m2 0h1m2 0h1m0 0h1m1 0h1m1 0h1m2 0h1m1 0h1m0 0h1m0 0h1m0 0h1m1 0h1m1 0h1m2 0h1m3 0h1m1 0h1m0 0h1m0 0h1m0 0h1m0 0h1m0 0h1m0 0h1m0 0h1m1 0h1m1 0h1m0 0h1m1 0h1m4 0h1m0 0h1m6 0h1m0 0h1m2 0h1m0 0h1m0 0h1m0 0h1m0 0h1m1 0h1m3 0h1m0 0h1m0 0h1m0 0h1m0 0h1m1 0h1m3 0h1m3 0h1m3 0h1m4 0h1m2 0h1m0 0h1m1 0h1m2 0h1m5 0h1m2 0h1m3 0h1m0 0h1m2 0h1m0 0h1m1 0h1m1 0h1m0 0h1m0 0h1m0 0h1m2 0h1m1 0h1m1 0h1m7 0h1m1 0h1m11 0h1m2 0h1m5 0h1m4 0h1m4 0h1m0 0h1m7 0h1m3 0h1m0 0h1m5 0h1m1 0h1m4 0h1m0 0h1m4 0h1m0 0h1m0 0h1m2 0h1m5 0h1m0 0h1m2 0h1m0 0h1m1 0h1m0 0h1m5 0h1m4 0h1m1 0h1m2 0h1m6 0h1m3 0h1m2 0h1m4 0h1m7 0h1m14 0h1m2 0h1m5 0h1m19 0h1m0 0h1m0 0h1m0 0h1m1 0h1m3 0h1m8 0h1m3 0h1m1 0h1m7 0h1m1 0h1m3 0h1m2 0h1m8 0h1m4 0h1m1 0h1m0 0h1m14 0h1m4 0h1m4 0h1m0 0h1m2 0h1m10 0h1m9 0h1m1 0h1m1 0h1m8 0h1m7 0h1m0 0h1m3 0h1m1 0h1m0 0h1m0 0h1m0 0h1m6 0h1m12 0h1m4 0h1m7 0h1m4 0h1m1 0h1m22 0h1m8 0h1m3 0h1m2 0h1m1 0h1m4 0h1m5 0h1m0 0h1m5 0h1m1 0h1m12 0h1m3 0h1m23 0h1m10 0h1m59 0h1M74 238h1m6 0h1m7 0h1m3 0h1m16 0h1m1 0h1m14 0h1m5 0h1m0 0h1m3 0h1m3 0h1m0 0h1m3 0h1m1 0h1m2 0h1m2 0h1m5 0h1m2 0h1m5 0h1m2 0h1m1 0h1m0 0h1m0 0h1m0 0h1m2 0h1m1 0h1m11 0h1m2 0h1m4 0h1m2 0h1m0 0h1m13 0h1m0 0h1m6 0h1m5 0h1m1 0h1m0 0h1m0 0h1m0 0h1m0 0h1m0 0h1m2 0h1m2 0h1m5 0h1m0 0h1m0 0h1m2 0h1m3 0h1m2 0h1m1 0h1m1 0h1m4 0h1m1 0h1m3 0h1m0 0h1m2 0h1m3 0h1m2 0h1m9 0h1m1 0h1m1 0h1m4 0h1m0 0h1m3 0h1m0 0h1m1 0h1m5 0h1m3 0h1m0 0h1m0 0h1m4 0h1m7 0h1m1 0h1m10 0h1m4 0h1m3 0h1m3 0h1m6 0h1m6 0h1m0 0h1m8 0h1m2 0h1m0 0h1m1 0h1m6 0h1m2 0h1m5 0h1m0 0h1m2 0h1m1 0h1m1 0h1m1 0h1m3 0h1m1 0h1m4 0h1m9 0h1m1 0h1m1 0h1m1 0h1m6 0h1m14 0h1m4 0h1m2 0h1m2 0h1m3 0h1m6 0h1m0 0h1m3 0h1m5 0h1m6 0h1m8 0h1m1 0h1m4 0h1m6 0h1m8 0h1m0 0h1m4 0h1m0 0h1m3 0h1m0 0h1m1 0h1m2 0h1m0 0h1m1 0h1m3 0h1m6 0h1m6 0h1m0 0h1m2 0h1m3 0h1m22 0h1m4 0h1m9 0h1m1 0h1m4 0h1m0 0h1m11 0h1m13 0h1m2 0h1m12 0h1m7 0h1m4 0h1m16 0h1m1 0h1m6 0h1m10 0h1m24 0h1m22 0h1m18 0h1m19 0h1M105 239h1m4 0h1m3 0h1m4 0h1m1 0h1m6 0h1m3 0h1m0 0h1m3 0h1m0 0h1m1 0h1m2 0h1m4 0h1m3 0h1m0 0h1m0 0h1m0 0h1m6 0h1m1 0h1m1 0h1m1 0h1m0 0h1m0 0h1m2 0h1m0 0h1m5 0h1m0 0h1m1 0h1m4 0h1m2 0h1m0 0h1m3 0h1m1 0h1m5 0h1m0 0h1m1 0h1m0 0h1m3 0h1m0 0h1m1 0h1m0 0h1m0 0h1m0 0h1m2 0h1m8 0h1m0 0h1m1 0h1m9 0h1m1 0h1m1 0h1m0 0h1m0 0h1m0 0h1m0 0h1m1 0h1m0 0h1m1 0h1m1 0h1m0 0h1m1 0h1m1 0h1m0 0h1m2 0h1m8 0h1m4 0h1m0 0h1m0 0h1m15 0h1m1 0h1m7 0h1m0 0h1m15 0h1m8 0h1m0 0h1m2 0h1m2 0h1m5 0h1m0 0h1m0 0h1m6 0h1m10 0h1m7 0h1m4 0h1m5 0h1m2 0h1m3 0h1m3 0h1m2 0h1m1 0h1m2 0h1m2 0h1m0 0h1m3 0h1m1 0h1m9 0h1m1 0h1m4 0h1m0 0h1m1 0h1m1 0h1m0 0h1m4 0h1m0 0h1m3 0h1m1 0h1m2 0h1m2 0h1m6 0h1m0 0h1m13 0h1m3 0h1m1 0h1m5 0h1m7 0h1m4 0h1m1 0h1m9 0h1m7 0h1m0 0h1m0 0h1m2 0h1m3 0h1m1 0h1m1 0h1m0 0h1m1 0h1m4 0h1m4 0h1m6 0h1m8 0h1m4 0h1m4 0h1m0 0h1m1 0h1m5 0h1m1 0h1m0 0h1m13 0h1m3 0h1m1 0h1m8 0h1m2 0h1m41 0h1m7 0h1m1 0h1m11 0h1m22 0h1m16 0h1m28 0h1m34 0h1m3 0h1M65 240h1m21 0h1m12 0h1m1 0h1m0 0h1m2 0h1m0 0h1m11 0h1m1 0h1m2 0h1m1 0h1m1 0h1m1 0h1m5 0h1m0 0h1m2 0h1m1 0h1m6 0h1m1 0h1m0 0h1m2 0h1m1 0h1m0 0h1m3 0h1m2 0h1m1 0h1m3 0h1m0 0h1m0 0h1m8 0h1m0 0h1m2 0h1m3 0h1m1 0h1m1 0h1m2 0h1m1 0h1m0 0h1m0 0h1m1 0h1m1 0h1m6 0h1m4 0h1m0 0h1m0 0h1m0 0h1m0 0h1m1 0h1m0 0h1m0 0h1m0 0h1m0 0h1m0 0h1m1 0h1m0 0h1m0 0h1m0 0h1m3 0h1m6 0h1m1 0h1m2 0h1m1 0h1m1 0h1m0 0h1m1 0h1m5 0h1m3 0h1m1 0h1m0 0h1m3 0h1m2 0h1m0 0h1m5 0h1m1 0h1m2 0h1m1 0h1m6 0h1m7 0h1m1 0h1m0 0h1m3 0h1m2 0h1m4 0h1m2 0h1m7 0h1m0 0h1m2 0h1m0 0h1m1 0h1m2 0h1m4 0h1m2 0h1m3 0h1m0 0h1m8 0h1m2 0h1m1 0h1m8 0h1m3 0h1m0 0h1m3 0h1m4 0h1m0 0h1m14 0h1m7 0h1m7 0h1m2 0h1m3 0h1m4 0h1m4 0h1m0 0h1m8 0h1m8 0h1m1 0h1m4 0h1m0 0h1m11 0h1m5 0h1m0 0h1m7 0h1m2 0h1m0 0h1m3 0h1m1 0h1m3 0h1m8 0h1m1 0h1m6 0h1m10 0h1m3 0h1m2 0h1m0 0h1m13 0h1m5 0h1m1 0h1m15 0h1m3 0h1m18 0h1m9 0h1m1 0h1m4 0h1m12 0h1m6 0h1m2 0h1m2 0h1m1 0h1m0 0h1m10 0h1m1 0h1m6 0h1m15 0h1m1 0h1m54 0h1m20 0h1m57 0h1M64 241h1m26 0h1m10 0h1m7 0h1m1 0h1m13 0h1m0 0h1m5 0h1m2 0h1m0 0h1m4 0h1m0 0h1m0 0h1m1 0h1m2 0h1m2 0h1m0 0h1m1 0h1m0 0h1m0 0h1m1 0h1m0 0h1m1 0h1m0 0h1m0 0h1m2 0h1m1 0h1m0 0h1m1 0h1m0 0h1m0 0h1m1 0h1m3 0h1m1 0h1m4 0h1m4 0h1m4 0h1m1 0h1m3 0h1m1 0h1m5 0h1m2 0h1m0 0h1m3 0h1m2 0h1m4 0h1m5 0h1m1 0h1m1 0h1m2 0h1m3 0h1m5 0h1m7 0h1m0 0h1m5 0h1m0 0h1m6 0h1m2 0h1m5 0h1m2 0h1m2 0h1m2 0h1m4 0h1m0 0h1m8 0h1m5 0h1m0 0h1m1 0h1m1 0h1m1 0h1m7 0h1m0 0h1m3 0h1m1 0h1m3 0h1m4 0h1m0 0h1m4 0h1m3 0h1m1 0h1m5 0h1m4 0h1m0 0h1m0 0h1m1 0h1m6 0h1m2 0h1m4 0h1m3 0h1m9 0h1m3 0h1m5 0h1m3 0h1m0 0h1m0 0h1m4 0h1m12 0h1m2 0h1m0 0h1m9 0h1m2 0h1m8 0h1m1 0h1m3 0h1m5 0h1m11 0h1m1 0h1m3 0h1m1 0h1m11 0h1m2 0h1m0 0h1m13 0h1m0 0h1m0 0h1m6 0h1m3 0h1m9 0h1m3 0h1m4 0h1m7 0h1m38 0h1m7 0h1m9 0h1m1 0h1m0 0h1m10 0h1m1 0h1m9 0h1m6 0h1m2 0h1m3 0h1m21 0h1m31 0h1m3 0h1m10 0h1m67 0h1M71 242h1m12 0h1m14 0h1m6 0h1m7 0h1m9 0h1m1 0h1m7 0h1m1 0h1m1 0h1m3 0h1m0 0h1m2 0h1m4 0h1m1 0h1m0 0h1m1 0h1m5 0h1m1 0h1m0 0h1m0 0h1m2 0h1m0 0h1m2 0h1m0 0h1m0 0h1m4 0h1m0 0h1m2 0h1m1 0h1m0 0h1m3 0h1m1 0h1m10 0h1m0 0h1m1 0h1m0 0h1m1 0h1m2 0h1m1 0h1m0 0h1m4 0h1m0 0h1m0 0h1m1 0h1m0 0h1m1 0h1m3 0h1m1 0h1m1 0h1m0 0h1m4 0h1m2 0h1m2 0h1m0 0h1m0 0h1m0 0h1m0 0h1m1 0h1m0 0h1m0 0h1m3 0h1m0 0h1m2 0h1m5 0h1m0 0h1m0 0h1m5 0h1m1 0h1m7 0h1m1 0h1m0 0h1m0 0h1m2 0h1m2 0h1m2 0h1m1 0h1m1 0h1m3 0h1m1 0h1m7 0h1m5 0h1m1 0h1m7 0h1m3 0h1m4 0h1m3 0h1m8 0h1m1 0h1m9 0h1m2 0h1m1 0h1m0 0h1m4 0h1m0 0h1m3 0h1m4 0h1m3 0h1m0 0h1m0 0h1m2 0h1m1 0h1m7 0h1m5 0h1m0 0h1m1 0h1m6 0h1m3 0h1m16 0h1m1 0h1m2 0h1m1 0h1m1 0h1m5 0h1m6 0h1m18 0h1m12 0h1m6 0h1m3 0h1m5 0h1m1 0h1m7 0h1m2 0h1m5 0h1m9 0h1m3 0h1m0 0h1m3 0h1m0 0h1m0 0h1m3 0h1m6 0h1m3 0h1m0 0h1m1 0h1m5 0h1m3 0h1m4 0h1m1 0h1m2 0h1m11 0h1m1 0h1m7 0h1m25 0h1m1 0h1m7 0h1m28 0h1m0 0h1m0 0h1m13 0h1m7 0h1m0 0h1m12 0h1m3 0h1m7 0h1m0 0h1M62 243h1m0 0h1m22 0h1m4 0h1m23 0h1m23 0h1m4 0h1m0 0h1m1 0h1m3 0h1m0 0h1m2 0h1m1 0h1m0 0h1m1 0h1m1 0h1m12 0h1m0 0h1m0 0h1m1 0h1m1 0h1m2 0h1m1 0h1m2 0h1m5 0h1m4 0h1m5 0h1m1 0h1m0 0h1m3 0h1m0 0h1m5 0h1m1 0h1m0 0h1m0 0h1m1 0h1m0 0h1m1 0h1m1 0h1m2 0h1m0 0h1m0 0h1m0 0h1m1 0h1m0 0h1m4 0h1m2 0h1m7 0h1m1 0h1m6 0h1m1 0h1m1 0h1m0 0h1m0 0h1m2 0h1m6 0h1m2 0h1m1 0h1m1 0h1m2 0h1m0 0h1m9 0h1m1 0h1m0 0h1m6 0h1m3 0h1m0 0h1m4 0h1m0 0h1m1 0h1m1 0h1m2 0h1m2 0h1m1 0h1m0 0h1m0 0h1m3 0h1m2 0h1m1 0h1m1 0h1m4 0h1m0 0h1m2 0h1m4 0h1m1 0h1m0 0h1m3 0h1m9 0h1m12 0h1m1 0h1m4 0h1m3 0h1m0 0h1m2 0h1m2 0h1m0 0h1m4 0h1m2 0h1m0 0h1m2 0h1m2 0h1m1 0h1m0 0h1m1 0h1m1 0h1m8 0h1m4 0h1m1 0h1m8 0h1m5 0h1m11 0h1m4 0h1m6 0h1m0 0h1m2 0h1m2 0h1m7 0h1m1 0h1m6 0h1m3 0h1m11 0h1m15 0h1m3 0h1m28 0h1m0 0h1m0 0h1m10 0h1m4 0h1m33 0h1m0 0h1m0 0h1m1 0h1m0 0h1m2 0h1m7 0h1m8 0h1m0 0h1m15 0h1m1 0h1m2 0h1m28 0h1m4 0h1m13 0h1m3 0h1m19 0h1m17 0h1m14 0h1M52 244h1m10 0h1m2 0h1m26 0h1m3 0h1m3 0h1m2 0h1m3 0h1m1 0h1m5 0h1m6 0h1m0 0h1m4 0h1m1 0h1m1 0h1m1 0h1m2 0h1m0 0h1m0 0h1m13 0h1m1 0h1m2 0h1m4 0h1m5 0h1m0 0h1m2 0h1m0 0h1m0 0h1m3 0h1m2 0h1m2 0h1m0 0h1m0 0h1m1 0h1m3 0h1m1 0h1m6 0h1m0 0h1m1 0h1m9 0h1m3 0h1m1 0h1m0 0h1m4 0h1m0 0h1m0 0h1m1 0h1m0 0h1m0 0h1m4 0h1m8 0h1m3 0h1m1 0h1m0 0h1m0 0h1m3 0h1m0 0h1m0 0h1m3 0h1m1 0h1m0 0h1m0 0h1m1 0h1m0 0h1m6 0h1m1 0h1m2 0h1m2 0h1m0 0h1m0 0h1m0 0h1m1 0h1m9 0h1m0 0h1m4 0h1m2 0h1m4 0h1m0 0h1m1 0h1m10 0h1m6 0h1m0 0h1m2 0h1m1 0h1m3 0h1m0 0h1m2 0h1m0 0h1m0 0h1m2 0h1m1 0h1m4 0h1m3 0h1m1 0h1m0 0h1m0 0h1m1 0h1m1 0h1m2 0h1m0 0h1m6 0h1m4 0h1m3 0h1m1 0h1m5 0h1m2 0h1m1 0h1m2 0h1m5 0h1m1 0h1m4 0h1m0 0h1m3 0h1m2 0h1m11 0h1m3 0h1m3 0h1m1 0h1m3 0h1m5 0h1m0 0h1m6 0h1m19 0h1m1 0h1m14 0h1m4 0h1m3 0h1m1 0h1m0 0h1m8 0h1m0 0h1m13 0h1m0 0h1m0 0h1m1 0h1m1 0h1m1 0h1m2 0h1m11 0h1m0 0h1m4 0h1m5 0h1m3 0h1m2 0h1m2 0h1m1 0h1m30 0h1m20 0h1m0 0h1m5 0h1m8 0h1m13 0h1m4 0h1m3 0h1m8 0h1m0 0h1m1 0h1m0 0h1m7 0h1m17 0h1m7 0h1m4 0h1m31 0h1M61 245h1m6 0h1m8 0h1m0 0h1m0 0h1m2 0h1m1 0h1m3 0h1m4 0h1m4 0h1m1 0h1m3 0h1m2 0h1m0 0h1m1 0h1m0 0h1m0 0h1m1 0h1m0 0h1m0 0h1m5 0h1m1 0h1m0 0h1m8 0h1m0 0h1m2 0h1m3 0h1m2 0h1m0 0h1m0 0h1m3 0h1m0 0h1m0 0h1m0 0h1m4 0h1m0 0h1m4 0h1m1 0h1m3 0h1m1 0h1m4 0h1m1 0h1m0 0h1m0 0h1m1 0h1m1 0h1m0 0h1m0 0h1m1 0h1m2 0h1m2 0h1m6 0h1m2 0h1m5 0h1m0 0h1m0 0h1m8 0h1m0 0h1m1 0h1m4 0h1m0 0h1m1 0h1m1 0h1m0 0h1m1 0h1m1 0h1m4 0h1m0 0h1m10 0h1m1 0h1m0 0h1m2 0h1m0 0h1m5 0h1m1 0h1m0 0h1m12 0h1m0 0h1m0 0h1m5 0h1m2 0h1m7 0h1m1 0h1m1 0h1m4 0h1m0 0h1m0 0h1m0 0h1m1 0h1m1 0h1m0 0h1m0 0h1m0 0h1m2 0h1m9 0h1m0 0h1m1 0h1m0 0h1m0 0h1m3 0h1m0 0h1m2 0h1m1 0h1m1 0h1m3 0h1m1 0h1m1 0h1m13 0h1m1 0h1m4 0h1m0 0h1m0 0h1m1 0h1m5 0h1m11 0h1m1 0h1m5 0h1m2 0h1m0 0h1m1 0h1m5 0h1m0 0h1m2 0h1m7 0h1m0 0h1m7 0h1m1 0h1m5 0h1m3 0h1m8 0h1m1 0h1m1 0h1m1 0h1m2 0h1m1 0h1m7 0h1m0 0h1m4 0h1m0 0h1m4 0h1m5 0h1m1 0h1m0 0h1m7 0h1m1 0h1m1 0h1m3 0h1m6 0h1m7 0h1m3 0h1m0 0h1m19 0h1m6 0h1m1 0h1m4 0h1m2 0h1m0 0h1m9 0h1m16 0h1m17 0h1m3 0h1m2 0h1m0 0h1m3 0h1m1 0h1m8 0h1m7 0h1m3 0h1m9 0h1m15 0h1m8 0h1m5 0h1m9 0h1m15 0h1M59 246h1m12 0h1m8 0h1m2 0h1m9 0h1m0 0h1m6 0h1m0 0h1m0 0h1m3 0h1m1 0h1m6 0h1m0 0h1m0 0h1m0 0h1m2 0h1m0 0h1m5 0h1m0 0h1m1 0h1m2 0h1m3 0h1m0 0h1m1 0h1m0 0h1m1 0h1m0 0h1m0 0h1m1 0h1m0 0h1m0 0h1m0 0h1m2 0h1m3 0h1m0 0h1m0 0h1m1 0h1m0 0h1m8 0h1m6 0h1m1 0h1m4 0h1m0 0h1m0 0h1m0 0h1m7 0h1m6 0h1m0 0h1m3 0h1m0 0h1m4 0h1m0 0h1m0 0h1m0 0h1m3 0h1m0 0h1m0 0h1m3 0h1m0 0h1m1 0h1m4 0h1m5 0h1m0 0h1m1 0h1m4 0h1m3 0h1m2 0h1m1 0h1m1 0h1m0 0h1m1 0h1m1 0h1m2 0h1m1 0h1m1 0h1m10 0h1m10 0h1m1 0h1m2 0h1m2 0h1m3 0h1m0 0h1m0 0h1m1 0h1m0 0h1m7 0h1m4 0h1m4 0h1m0 0h1m1 0h1m6 0h1m0 0h1m0 0h1m0 0h1m5 0h1m2 0h1m3 0h1m7 0h1m0 0h1m0 0h1m26 0h1m6 0h1m3 0h1m5 0h1m3 0h1m0 0h1m3 0h1m9 0h1m1 0h1m1 0h1m0 0h1m8 0h1m1 0h1m10 0h1m0 0h1m1 0h1m1 0h1m13 0h1m1 0h1m5 0h1m2 0h1m4 0h1m3 0h1m5 0h1m25 0h1m11 0h1m1 0h1m5 0h1m10 0h1m0 0h1m3 0h1m5 0h1m1 0h1m1 0h1m0 0h1m6 0h1m3 0h1m2 0h1m1 0h1m6 0h1m0 0h1m1 0h1m1 0h1m6 0h1m6 0h1m13 0h1m3 0h1m1 0h1m0 0h1m0 0h1m17 0h1m4 0h1m6 0h1m3 0h1m3 0h1m33 0h1m2 0h1m23 0h1M52 247h1m4 0h1m6 0h1m1 0h1m11 0h1m0 0h1m2 0h1m11 0h1m1 0h1m8 0h1m0 0h1m1 0h1m1 0h1m2 0h1m0 0h1m1 0h1m4 0h1m3 0h1m0 0h1m2 0h1m0 0h1m0 0h1m1 0h1m2 0h1m0 0h1m0 0h1m1 0h1m0 0h1m1 0h1m5 0h1m0 0h1m0 0h1m0 0h1m0 0h1m3 0h1m0 0h1m0 0h1m2 0h1m0 0h1m0 0h1m2 0h1m1 0h1m0 0h1m15 0h1m5 0h1m2 0h1m2 0h1m1 0h1m1 0h1m2 0h1m1 0h1m1 0h1m1 0h1m1 0h1m3 0h1m0 0h1m6 0h1m1 0h1m1 0h1m3 0h1m1 0h1m1 0h1m0 0h1m12 0h1m3 0h1m1 0h1m0 0h1m1 0h1m0 0h1m0 0h1m3 0h1m0 0h1m0 0h1m6 0h1m0 0h1m1 0h1m12 0h1m0 0h1m2 0h1m0 0h1m1 0h1m9 0h1m6 0h1m0 0h1m6 0h1m2 0h1m0 0h1m10 0h1m8 0h1m3 0h1m6 0h1m11 0h1m15 0h1m7 0h1m2 0h1m1 0h1m4 0h1m2 0h1m9 0h1m4 0h1m2 0h1m15 0h1m7 0h1m0 0h1m3 0h1m6 0h1m5 0h1m1 0h1m0 0h1m0 0h1m5 0h1m6 0h1m5 0h1m14 0h1m0 0h1m2 0h1m17 0h1m20 0h1m8 0h1m7 0h1m24 0h1m2 0h1m13 0h1m15 0h1m4 0h1m1 0h1m34 0h1m5 0h1m3 0h1m32 0h1m0 0h1m47 0h1m0 0h1M55 248h1m8 0h1m1 0h1m16 0h1m0 0h1m1 0h1m7 0h1m0 0h1m0 0h1m7 0h1m4 0h1m6 0h1m2 0h1m2 0h1m0 0h1m0 0h1m1 0h1m3 0h1m1 0h1m0 0h1m0 0h1m0 0h1m1 0h1m2 0h1m1 0h1m1 0h1m6 0h1m1 0h1m3 0h1m1 0h1m2 0h1m1 0h1m0 0h1m2 0h1m1 0h1m1 0h1m1 0h1m3 0h1m1 0h1m5 0h1m1 0h1m2 0h1m0 0h1m1 0h1m0 0h1m0 0h1m1 0h1m0 0h1m1 0h1m2 0h1m2 0h1m7 0h1m1 0h1m1 0h1m5 0h1m0 0h1m4 0h1m1 0h1m1 0h1m0 0h1m2 0h1m0 0h1m3 0h1m2 0h1m1 0h1m2 0h1m0 0h1m1 0h1m3 0h1m0 0h1m2 0h1m0 0h1m0 0h1m1 0h1m2 0h1m0 0h1m1 0h1m0 0h1m0 0h1m0 0h1m3 0h1m2 0h1m5 0h1m4 0h1m0 0h1m2 0h1m11 0h1m4 0h1m1 0h1m3 0h1m0 0h1m0 0h1m0 0h1m10 0h1m10 0h1m2 0h1m0 0h1m3 0h1m5 0h1m1 0h1m3 0h1m1 0h1m0 0h1m5 0h1m10 0h1m0 0h1m9 0h1m0 0h1m7 0h1m0 0h1m11 0h1m3 0h1m3 0h1m0 0h1m3 0h1m0 0h1m7 0h1m2 0h1m7 0h1m3 0h1m1 0h1m0 0h1m1 0h1m4 0h1m5 0h1m1 0h1m0 0h1m1 0h1m0 0h1m0 0h1m5 0h1m5 0h1m1 0h1m0 0h1m13 0h1m2 0h1m0 0h1m1 0h1m2 0h1m1 0h1m1 0h1m0 0h1m0 0h1m1 0h1m9 0h1m1 0h1m4 0h1m8 0h1m4 0h1m20 0h1m11 0h1m3 0h1m0 0h1m7 0h1m1 0h1m8 0h1m0 0h1m8 0h1m0 0h1m6 0h1m1 0h1m4 0h1m16 0h1m16 0h1m0 0h1m3 0h1m20 0h1m30 0h1m30 0h1M53 249h1m10 0h1m2 0h1m9 0h1m11 0h1m0 0h1m5 0h1m2 0h1m5 0h1m0 0h1m1 0h1m1 0h1m1 0h1m1 0h1m1 0h1m1 0h1m2 0h1m0 0h1m0 0h1m2 0h1m1 0h1m0 0h1m2 0h1m7 0h1m0 0h1m0 0h1m0 0h1m0 0h1m1 0h1m3 0h1m0 0h1m0 0h1m0 0h1m1 0h1m0 0h1m1 0h1m0 0h1m0 0h1m4 0h1m3 0h1m8 0h1m0 0h1m0 0h1m0 0h1m2 0h1m5 0h1m1 0h1m0 0h1m6 0h1m6 0h1m0 0h1m0 0h1m4 0h1m1 0h1m0 0h1m0 0h1m0 0h1m4 0h1m0 0h1m4 0h1m0 0h1m0 0h1m1 0h1m1 0h1m1 0h1m0 0h1m3 0h1m0 0h1m0 0h1m3 0h1m3 0h1m2 0h1m3 0h1m1 0h1m1 0h1m3 0h1m3 0h1m0 0h1m0 0h1m0 0h1m13 0h1m6 0h1m0 0h1m2 0h1m0 0h1m0 0h1m4 0h1m1 0h1m2 0h1m1 0h1m4 0h1m2 0h1m3 0h1m2 0h1m2 0h1m6 0h1m2 0h1m0 0h1m2 0h1m0 0h1m8 0h1m8 0h1m0 0h1m2 0h1m1 0h1m0 0h1m1 0h1m0 0h1m5 0h1m0 0h1m1 0h1m0 0h1m4 0h1m1 0h1m6 0h1m3 0h1m7 0h1m0 0h1m2 0h1m5 0h1m6 0h1m0 0h1m6 0h1m7 0h1m1 0h1m6 0h1m15 0h1m0 0h1m2 0h1m1 0h1m0 0h1m8 0h1m8 0h1m0 0h1m1 0h1m3 0h1m2 0h1m13 0h1m6 0h1m0 0h1m3 0h1m0 0h1m3 0h1m2 0h1m10 0h1m5 0h1m2 0h1m2 0h1m4 0h1m4 0h1m8 0h1m5 0h1m6 0h1m4 0h1m5 0h1m5 0h1m3 0h1m2 0h1m1 0h1m2 0h1m0 0h1m19 0h1m0 0h1m39 0h1m2 0h1m7 0h1m3 0h1m7 0h1m10 0h1M54 250h1m0 0h1m3 0h1m1 0h1m1 0h1m8 0h1m2 0h1m1 0h1m1 0h1m9 0h1m0 0h1m0 0h1m4 0h1m0 0h1m0 0h1m10 0h1m1 0h1m4 0h1m0 0h1m2 0h1m4 0h1m5 0h1m2 0h1m1 0h1m3 0h1m3 0h1m2 0h1m0 0h1m5 0h1m4 0h1m0 0h1m1 0h1m0 0h1m0 0h1m2 0h1m2 0h1m0 0h1m3 0h1m3 0h1m0 0h1m1 0h1m1 0h1m5 0h1m0 0h1m2 0h1m1 0h1m1 0h1m4 0h1m3 0h1m1 0h1m0 0h1m2 0h1m1 0h1m0 0h1m0 0h1m1 0h1m0 0h1m1 0h1m0 0h1m0 0h1m0 0h1m5 0h1m1 0h1m2 0h1m0 0h1m3 0h1m0 0h1m2 0h1m1 0h1m0 0h1m2 0h1m5 0h1m2 0h1m8 0h1m9 0h1m0 0h1m0 0h1m4 0h1m4 0h1m8 0h1m0 0h1m11 0h1m0 0h1m7 0h1m0 0h1m0 0h1m2 0h1m1 0h1m2 0h1m0 0h1m2 0h1m3 0h1m2 0h1m6 0h1m0 0h1m2 0h1m0 0h1m0 0h1m5 0h1m2 0h1m2 0h1m0 0h1m0 0h1m10 0h1m0 0h1m3 0h1m0 0h1m3 0h1m1 0h1m2 0h1m1 0h1m1 0h1m0 0h1m10 0h1m5 0h1m1 0h1m2 0h1m1 0h1m17 0h1m0 0h1m0 0h1m0 0h1m2 0h1m0 0h1m1 0h1m2 0h1m1 0h1m4 0h1m4 0h1m2 0h1m2 0h1m9 0h1m1 0h1m13 0h1m1 0h1m4 0h1m4 0h1m8 0h1m1 0h1m1 0h1m11 0h1m0 0h1m2 0h1m6 0h1m0 0h1m1 0h1m0 0h1m0 0h1m0 0h1m0 0h1m1 0h1m14 0h1m12 0h1m3 0h1m0 0h1m4 0h1m5 0h1m4 0h1m7 0h1m5 0h1m12 0h1m8 0h1m13 0h1m4 0h1m1 0h1m3 0h1m13 0h1m1 0h1M55 251h1m0 0h1m0 0h1m6 0h1m8 0h1m0 0h1m2 0h1m10 0h1m5 0h1m5 0h1m3 0h1m7 0h1m0 0h1m3 0h1m0 0h1m0 0h1m2 0h1m0 0h1m2 0h1m0 0h1m0 0h1m2 0h1m0 0h1m0 0h1m3 0h1m0 0h1m0 0h1m5 0h1m0 0h1m4 0h1m1 0h1m2 0h1m0 0h1m1 0h1m1 0h1m0 0h1m0 0h1m0 0h1m1 0h1m0 0h1m0 0h1m0 0h1m0 0h1m4 0h1m1 0h1m3 0h1m0 0h1m0 0h1m0 0h1m2 0h1m0 0h1m0 0h1m2 0h1m7 0h1m1 0h1m6 0h1m2 0h1m1 0h1m0 0h1m2 0h1m3 0h1m0 0h1m0 0h1m5 0h1m1 0h1m1 0h1m3 0h1m0 0h1m1 0h1m6 0h1m1 0h1m1 0h1m7 0h1m1 0h1m1 0h1m8 0h1m0 0h1m1 0h1m9 0h1m3 0h1m0 0h1m1 0h1m2 0h1m1 0h1m10 0h1m4 0h1m2 0h1m0 0h1m11 0h1m3 0h1m3 0h1m4 0h1m6 0h1m3 0h1m0 0h1m0 0h1m1 0h1m1 0h1m5 0h1m1 0h1m2 0h1m2 0h1m1 0h1m1 0h1m0 0h1m1 0h1m4 0h1m8 0h1m0 0h1m1 0h1m2 0h1m0 0h1m1 0h1m7 0h1m0 0h1m1 0h1m2 0h1m4 0h1m4 0h1m3 0h1m8 0h1m2 0h1m2 0h1m7 0h1m2 0h1m1 0h1m0 0h1m7 0h1m1 0h1m4 0h1m3 0h1m0 0h1m2 0h1m0 0h1m7 0h1m8 0h1m0 0h1m8 0h1m3 0h1m1 0h1m4 0h1m0 0h1m4 0h1m2 0h1m1 0h1m2 0h1m0 0h1m1 0h1m5 0h1m6 0h1m3 0h1m18 0h1m6 0h1m0 0h1m0 0h1m3 0h1m4 0h1m4 0h1m1 0h1m10 0h1m2 0h1m25 0h1m2 0h1m17 0h1m30 0h1m4 0h1M56 252h1m5 0h1m6 0h1m0 0h1m1 0h1m0 0h1m3 0h1m1 0h1m0 0h1m0 0h1m0 0h1m0 0h1m1 0h1m2 0h1m8 0h1m1 0h1m3 0h1m3 0h1m1 0h1m1 0h1m0 0h1m4 0h1m1 0h1m1 0h1m1 0h1m0 0h1m1 0h1m0 0h1m4 0h1m4 0h1m3 0h1m0 0h1m0 0h1m0 0h1m0 0h1m0 0h1m0 0h1m0 0h1m2 0h1m0 0h1m10 0h1m1 0h1m0 0h1m1 0h1m6 0h1m5 0h1m1 0h1m3 0h1m10 0h1m1 0h1m5 0h1m1 0h1m0 0h1m4 0h1m1 0h1m0 0h1m0 0h1m6 0h1m0 0h1m0 0h1m0 0h1m3 0h1m0 0h1m0 0h1m0 0h1m0 0h1m2 0h1m0 0h1m7 0h1m2 0h1m1 0h1m5 0h1m8 0h1m3 0h1m4 0h1m0 0h1m3 0h1m3 0h1m1 0h1m0 0h1m1 0h1m2 0h1m3 0h1m2 0h1m3 0h1m2 0h1m0 0h1m1 0h1m1 0h1m0 0h1m1 0h1m0 0h1m1 0h1m5 0h1m0 0h1m4 0h1m2 0h1m1 0h1m2 0h1m4 0h1m4 0h1m0 0h1m0 0h1m6 0h1m2 0h1m6 0h1m6 0h1m3 0h1m0 0h1m1 0h1m4 0h1m12 0h1m7 0h1m1 0h1m5 0h1m1 0h1m2 0h1m7 0h1m0 0h1m8 0h1m0 0h1m1 0h1m0 0h1m0 0h1m1 0h1m0 0h1m1 0h1m0 0h1m3 0h1m3 0h1m9 0h1m2 0h1m1 0h1m0 0h1m2 0h1m4 0h1m8 0h1m0 0h1m2 0h1m1 0h1m1 0h1m0 0h1m0 0h1m9 0h1m3 0h1m0 0h1m11 0h1m4 0h1m8 0h1m2 0h1m13 0h1m0 0h1m0 0h1m2 0h1m4 0h1m4 0h1m1 0h1m1 0h1m6 0h1m2 0h1m9 0h1m2 0h1m11 0h1m0 0h1m6 0h1m0 0h1m1 0h1m1 0h1m1 0h1m0 0h1m1 0h1m12 0h1m12 0h1m22 0h1m4 0h1m2 0h1M58 253h1m4 0h1m6 0h1m1 0h1m0 0h1m0 0h1m3 0h1m1 0h1m8 0h1m2 0h1m5 0h1m0 0h1m0 0h1m1 0h1m0 0h1m0 0h1m0 0h1m0 0h1m6 0h1m2 0h1m0 0h1m2 0h1m0 0h1m1 0h1m0 0h1m4 0h1m2 0h1m3 0h1m0 0h1m0 0h1m5 0h1m0 0h1m4 0h1m2 0h1m2 0h1m0 0h1m1 0h1m1 0h1m0 0h1m0 0h1m2 0h1m0 0h1m3 0h1m3 0h1m5 0h1m2 0h1m2 0h1m2 0h1m4 0h1m0 0h1m3 0h1m0 0h1m0 0h1m3 0h1m2 0h1m0 0h1m2 0h1m2 0h1m1 0h1m2 0h1m0 0h1m6 0h1m0 0h1m1 0h1m1 0h1m4 0h1m1 0h1m2 0h1m1 0h1m1 0h1m2 0h1m3 0h1m13 0h1m1 0h1m2 0h1m0 0h1m0 0h1m4 0h1m0 0h1m0 0h1m8 0h1m8 0h1m0 0h1m2 0h1m0 0h1m0 0h1m2 0h1m1 0h1m11 0h1m0 0h1m4 0h1m0 0h1m0 0h1m7 0h1m0 0h1m3 0h1m0 0h1m0 0h1m0 0h1m4 0h1m0 0h1m4 0h1m2 0h1m7 0h1m0 0h1m0 0h1m2 0h1m1 0h1m0 0h1m2 0h1m2 0h1m2 0h1m4 0h1m2 0h1m5 0h1m4 0h1m5 0h1m4 0h1m1 0h1m5 0h1m11 0h1m0 0h1m0 0h1m0 0h1m2 0h1m0 0h1m1 0h1m11 0h1m0 0h1m1 0h1m2 0h1m1 0h1m10 0h1m1 0h1m4 0h1m1 0h1m5 0h1m6 0h1m2 0h1m1 0h1m0 0h1m0 0h1m1 0h1m2 0h1m1 0h1m1 0h1m2 0h1m22 0h1m3 0h1m0 0h1m5 0h1m4 0h1m11 0h1m8 0h1m8 0h1m1 0h1m7 0h1m3 0h1m15 0h1m2 0h1m39 0h1m21 0h1m12 0h1m2 0h1m6 0h1M51 254h1m4 0h1m8 0h1m0 0h1m0 0h1m3 0h1m7 0h1m1 0h1m6 0h1m1 0h1m0 0h1m4 0h1m1 0h1m0 0h1m3 0h1m4 0h1m2 0h1m3 0h1m0 0h1m1 0h1m2 0h1m0 0h1m1 0h1m0 0h1m1 0h1m0 0h1m1 0h1m0 0h1m7 0h1m2 0h1m2 0h1m2 0h1m0 0h1m1 0h1m0 0h1m3 0h1m0 0h1m1 0h1m1 0h1m0 0h1m0 0h1m3 0h1m1 0h1m0 0h1m0 0h1m0 0h1m6 0h1m1 0h1m1 0h1m6 0h1m1 0h1m5 0h1m2 0h1m0 0h1m0 0h1m1 0h1m1 0h1m0 0h1m1 0h1m2 0h1m1 0h1m3 0h1m1 0h1m0 0h1m0 0h1m0 0h1m1 0h1m2 0h1m5 0h1m1 0h1m4 0h1m14 0h1m3 0h1m6 0h1m2 0h1m1 0h1m7 0h1m1 0h1m0 0h1m3 0h1m1 0h1m0 0h1m0 0h1m9 0h1m3 0h1m3 0h1m11 0h1m3 0h1m4 0h1m4 0h1m1 0h1m0 0h1m2 0h1m18 0h1m2 0h1m6 0h1m1 0h1m0 0h1m6 0h1m1 0h1m0 0h1m1 0h1m5 0h1m1 0h1m2 0h1m1 0h1m1 0h1m9 0h1m1 0h1m7 0h1m2 0h1m8 0h1m2 0h1m3 0h1m1 0h1m8 0h1m2 0h1m4 0h1m5 0h1m1 0h1m0 0h1m0 0h1m1 0h1m5 0h1m4 0h1m11 0h1m0 0h1m22 0h1m4 0h1m7 0h1m4 0h1m11 0h1m2 0h1m7 0h1m2 0h1m1 0h1m4 0h1m4 0h1m3 0h1m3 0h1m1 0h1m2 0h1m5 0h1m1 0h1m10 0h1m8 0h1m10 0h1m0 0h1m1 0h1m3 0h1m23 0h1m15 0h1m9 0h1M50 255h1m0 0h1m8 0h1m0 0h1m3 0h1m1 0h1m0 0h1m1 0h1m0 0h1m0 0h1m1 0h1m5 0h1m2 0h1m3 0h1m0 0h1m4 0h1m0 0h1m0 0h1m1 0h1m0 0h1m0 0h1m1 0h1m1 0h1m0 0h1m2 0h1m0 0h1m1 0h1m0 0h1m2 0h1m8 0h1m1 0h1m1 0h1m1 0h1m5 0h1m0 0h1m1 0h1m7 0h1m4 0h1m0 0h1m1 0h1m0 0h1m2 0h1m0 0h1m0 0h1m1 0h1m1 0h1m2 0h1m0 0h1m1 0h1m0 0h1m1 0h1m2 0h1m4 0h1m1 0h1m8 0h1m2 0h1m0 0h1m4 0h1m1 0h1m0 0h1m2 0h1m1 0h1m1 0h1m0 0h1m4 0h1m2 0h1m2 0h1m3 0h1m4 0h1m2 0h1m2 0h1m0 0h1m1 0h1m7 0h1m2 0h1m2 0h1m4 0h1m0 0h1m3 0h1m4 0h1m1 0h1m0 0h1m3 0h1m7 0h1m4 0h1m1 0h1m2 0h1m4 0h1m0 0h1m0 0h1m2 0h1m0 0h1m0 0h1m2 0h1m1 0h1m1 0h1m4 0h1m1 0h1m2 0h1m0 0h1m6 0h1m21 0h1m1 0h1m2 0h1m3 0h1m12 0h1m2 0h1m0 0h1m1 0h1m3 0h1m0 0h1m2 0h1m3 0h1m0 0h1m0 0h1m6 0h1m1 0h1m4 0h1m3 0h1m0 0h1m3 0h1m0 0h1m4 0h1m0 0h1m3 0h1m3 0h1m4 0h1m0 0h1m9 0h1m1 0h1m3 0h1m5 0h1m3 0h1m8 0h1m5 0h1m9 0h1m3 0h1m0 0h1m3 0h1m12 0h1m0 0h1m10 0h1m12 0h1m6 0h1m1 0h1m4 0h1m6 0h1m8 0h1m0 0h1m7 0h1m7 0h1m4 0h1m0 0h1m8 0h1m6 0h1m2 0h1m27 0h1m18 0h1m23 0h1M53 256h1m1 0h1m2 0h1m2 0h1m1 0h1m2 0h1m0 0h1m0 0h1m1 0h1m0 0h1m1 0h1m4 0h1m3 0h1m0 0h1m0 0h1m2 0h1m1 0h1m0 0h1m0 0h1m0 0h1m0 0h1m2 0h1m1 0h1m0 0h1m0 0h1m0 0h1m3 0h1m3 0h1m3 0h1m4 0h1m0 0h1m3 0h1m0 0h1m0 0h1m0 0h1m2 0h1m0 0h1m0 0h1m0 0h1m6 0h1m0 0h1m3 0h1m2 0h1m2 0h1m4 0h1m2 0h1m0 0h1m1 0h1m0 0h1m1 0h1m5 0h1m2 0h1m11 0h1m2 0h1m9 0h1m5 0h1m2 0h1m4 0h1m1 0h1m3 0h1m0 0h1m1 0h1m5 0h1m6 0h1m2 0h1m3 0h1m8 0h1m2 0h1m3 0h1m2 0h1m2 0h1m6 0h1m7 0h1m10 0h1m0 0h1m4 0h1m2 0h1m4 0h1m2 0h1m2 0h1m5 0h1m0 0h1m0 0h1m2 0h1m2 0h1m0 0h1m1 0h1m6 0h1m0 0h1m2 0h1m0 0h1m8 0h1m5 0h1m1 0h1m5 0h1m7 0h1m0 0h1m6 0h1m1 0h1m0 0h1m1 0h1m4 0h1m2 0h1m25 0h1m6 0h1m4 0h1m9 0h1m1 0h1m1 0h1m4 0h1m1 0h1m6 0h1m14 0h1m4 0h1m20 0h1m2 0h1m21 0h1m5 0h1m3 0h1m20 0h1m1 0h1m4 0h1m0 0h1m15 0h1m5 0h1m0 0h1m13 0h1m6 0h1m4 0h1m6 0h1m1 0h1m10 0h1m4 0h1m0 0h1m2 0h1m10 0h1m11 0h1m1 0h1m1 0h1m1 0h1m13 0h1m39 0h1M52 257h1m1 0h1m11 0h1m5 0h1m1 0h1m0 0h1m0 0h1m1 0h1m0 0h1m6 0h1m2 0h1m0 0h1m6 0h1m0 0h1m0 0h1m2 0h1m1 0h1m1 0h1m1 0h1m1 0h1m1 0h1m4 0h1m3 0h1m0 0h1m0 0h1m9 0h1m2 0h1m0 0h1m2 0h1m0 0h1m1 0h1m2 0h1m1 0h1m0 0h1m4 0h1m4 0h1m1 0h1m4 0h1m2 0h1m0 0h1m0 0h1m1 0h1m3 0h1m1 0h1m0 0h1m0 0h1m2 0h1m1 0h1m1 0h1m4 0h1m0 0h1m0 0h1m1 0h1m1 0h1m0 0h1m3 0h1m1 0h1m2 0h1m0 0h1m1 0h1m0 0h1m0 0h1m3 0h1m1 0h1m2 0h1m0 0h1m0 0h1m0 0h1m0 0h1m2 0h1m7 0h1m3 0h1m0 0h1m12 0h1m4 0h1m4 0h1m1 0h1m1 0h1m0 0h1m3 0h1m2 0h1m1 0h1m1 0h1m0 0h1m0 0h1m12 0h1m0 0h1m6 0h1m2 0h1m0 0h1m6 0h1m6 0h1m0 0h1m1 0h1m4 0h1m3 0h1m7 0h1m0 0h1m13 0h1m8 0h1m0 0h1m2 0h1m11 0h1m3 0h1m1 0h1m0 0h1m0 0h1m1 0h1m0 0h1m0 0h1m3 0h1m0 0h1m0 0h1m7 0h1m10 0h1m1 0h1m3 0h1m0 0h1m5 0h1m11 0h1m23 0h1m13 0h1m1 0h1m7 0h1m1 0h1m3 0h1m16 0h1m7 0h1m9 0h1m1 0h1m1 0h1m20 0h1m0 0h1m12 0h1m2 0h1m6 0h1m60 0h1m12 0h1m0 0h1m39 0h1M54 258h1m4 0h1m4 0h1m1 0h1m0 0h1m4 0h1m0 0h1m1 0h1m5 0h1m2 0h1m4 0h1m1 0h1m2 0h1m0 0h1m2 0h1m2 0h1m0 0h1m0 0h1m0 0h1m1 0h1m0 0h1m3 0h1m1 0h1m0 0h1m3 0h1m1 0h1m0 0h1m0 0h1m3 0h1m6 0h1m1 0h1m2 0h1m1 0h1m2 0h1m2 0h1m1 0h1m3 0h1m0 0h1m0 0h1m0 0h1m4 0h1m1 0h1m0 0h1m3 0h1m0 0h1m0 0h1m0 0h1m4 0h1m1 0h1m0 0h1m0 0h1m0 0h1m1 0h1m1 0h1m2 0h1m0 0h1m0 0h1m3 0h1m3 0h1m1 0h1m3 0h1m2 0h1m0 0h1m13 0h1m1 0h1m1 0h1m5 0h1m6 0h1m0 0h1m0 0h1m0 0h1m14 0h1m1 0h1m1 0h1m6 0h1m6 0h1m2 0h1m1 0h1m1 0h1m0 0h1m3 0h1m7 0h1m4 0h1m2 0h1m0 0h1m0 0h1m2 0h1m6 0h1m0 0h1m11 0h1m6 0h1m10 0h1m0 0h1m3 0h1m6 0h1m6 0h1m9 0h1m1 0h1m1 0h1m3 0h1m3 0h1m0 0h1m8 0h1m3 0h1m1 0h1m0 0h1m1 0h1m4 0h1m4 0h1m9 0h1m10 0h1m1 0h1m6 0h1m6 0h1m2 0h1m1 0h1m4 0h1m2 0h1m0 0h1m0 0h1m4 0h1m4 0h1m1 0h1m0 0h1m0 0h1m1 0h1m6 0h1m0 0h1m1 0h1m3 0h1m7 0h1m7 0h1m1 0h1m3 0h1m6 0h1m3 0h1m2 0h1m0 0h1m0 0h1m0 0h1m8 0h1m0 0h1m3 0h1m3 0h1m4 0h1m5 0h1m4 0h1m12 0h1m13 0h1m8 0h1m22 0h1m6 0h1m7 0h1M60 259h1m1 0h1m1 0h1m3 0h1m1 0h1m0 0h1m0 0h1m0 0h1m0 0h1m1 0h1m3 0h1m0 0h1m2 0h1m0 0h1m2 0h1m0 0h1m1 0h1m2 0h1m0 0h1m4 0h1m0 0h1m0 0h1m1 0h1m1 0h1m3 0h1m3 0h1m0 0h1m2 0h1m1 0h1m1 0h1m0 0h1m0 0h1m4 0h1m2 0h1m1 0h1m2 0h1m2 0h1m0 0h1m2 0h1m3 0h1m0 0h1m0 0h1m0 0h1m1 0h1m3 0h1m0 0h1m1 0h1m0 0h1m1 0h1m0 0h1m2 0h1m0 0h1m0 0h1m0 0h1m1 0h1m1 0h1m0 0h1m3 0h1m4 0h1m1 0h1m2 0h1m0 0h1m1 0h1m3 0h1m5 0h1m6 0h1m0 0h1m1 0h1m3 0h1m6 0h1m0 0h1m1 0h1m4 0h1m0 0h1m5 0h1m2 0h1m1 0h1m3 0h1m1 0h1m1 0h1m4 0h1m5 0h1m0 0h1m1 0h1m0 0h1m1 0h1m0 0h1m0 0h1m3 0h1m0 0h1m2 0h1m2 0h1m0 0h1m0 0h1m2 0h1m3 0h1m3 0h1m0 0h1m8 0h1m1 0h1m0 0h1m2 0h1m5 0h1m11 0h1m2 0h1m5 0h1m0 0h1m4 0h1m1 0h1m0 0h1m0 0h1m1 0h1m10 0h1m1 0h1m3 0h1m1 0h1m2 0h1m9 0h1m8 0h1m1 0h1m5 0h1m4 0h1m0 0h1m2 0h1m4 0h1m6 0h1m3 0h1m0 0h1m0 0h1m2 0h1m1 0h1m7 0h1m0 0h1m1 0h1m0 0h1m5 0h1m2 0h1m3 0h1m0 0h1m0 0h1m0 0h1m2 0h1m7 0h1m2 0h1m3 0h1m3 0h1m0 0h1m3 0h1m6 0h1m1 0h1m4 0h1m4 0h1m7 0h1m0 0h1m3 0h1m0 0h1m0 0h1m0 0h1m2 0h1m1 0h1m1 0h1m1 0h1m30 0h1m4 0h1m0 0h1m0 0h1m4 0h1m6 0h1m12 0h1m101 0h1M54 260h1m0 0h1m0 0h1m2 0h1m0 0h1m1 0h1m2 0h1m8 0h1m2 0h1m0 0h1m0 0h1m1 0h1m0 0h1m0 0h1m0 0h1m0 0h1m0 0h1m2 0h1m0 0h1m2 0h1m1 0h1m3 0h1m0 0h1m0 0h1m0 0h1m4 0h1m0 0h1m1 0h1m0 0h1m0 0h1m1 0h1m1 0h1m0 0h1m0 0h1m2 0h1m3 0h1m0 0h1m1 0h1m0 0h1m2 0h1m2 0h1m6 0h1m0 0h1m0 0h1m2 0h1m1 0h1m1 0h1m0 0h1m1 0h1m0 0h1m0 0h1m2 0h1m0 0h1m0 0h1m1 0h1m0 0h1m0 0h1m0 0h1m3 0h1m2 0h1m0 0h1m0 0h1m1 0h1m3 0h1m1 0h1m0 0h1m1 0h1m2 0h1m1 0h1m0 0h1m0 0h1m3 0h1m0 0h1m0 0h1m0 0h1m2 0h1m0 0h1m0 0h1m1 0h1m1 0h1m2 0h1m0 0h1m4 0h1m0 0h1m0 0h1m1 0h1m0 0h1m0 0h1m0 0h1m1 0h1m1 0h1m0 0h1m0 0h1m0 0h1m1 0h1m2 0h1m2 0h1m4 0h1m1 0h1m1 0h1m0 0h1m0 0h1m1 0h1m8 0h1m3 0h1m1 0h1m0 0h1m1 0h1m0 0h1m1 0h1m5 0h1m2 0h1m3 0h1m0 0h1m0 0h1m5 0h1m10 0h1m0 0h1m2 0h1m9 0h1m5 0h1m4 0h1m0 0h1m16 0h1m3 0h1m7 0h1m2 0h1m5 0h1m3 0h1m0 0h1m5 0h1m5 0h1m2 0h1m1 0h1m4 0h1m7 0h1m4 0h1m0 0h1m0 0h1m1 0h1m4 0h1m4 0h1m0 0h1m3 0h1m0 0h1m1 0h1m2 0h1m2 0h1m2 0h1m1 0h1m5 0h1m7 0h1m4 0h1m0 0h1m11 0h1m1 0h1m0 0h1m1 0h1m7 0h1m6 0h1m1 0h1m4 0h1m17 0h1m5 0h1m0 0h1m6 0h1m2 0h1m0 0h1m1 0h1m8 0h1m3 0h1m5 0h1m20 0h1m21 0h1m23 0h1m13 0h1m13 0h1M54 261h1m0 0h1m0 0h1m2 0h1m2 0h1m0 0h1m0 0h1m1 0h1m2 0h1m1 0h1m2 0h1m0 0h1m1 0h1m0 0h1m0 0h1m1 0h1m0 0h1m0 0h1m0 0h1m1 0h1m0 0h1m1 0h1m2 0h1m1 0h1m0 0h1m4 0h1m0 0h1m0 0h1m5 0h1m0 0h1m1 0h1m1 0h1m0 0h1m3 0h1m1 0h1m1 0h1m1 0h1m0 0h1m1 0h1m0 0h1m0 0h1m2 0h1m5 0h1m0 0h1m0 0h1m2 0h1m2 0h1m3 0h1m2 0h1m0 0h1m0 0h1m1 0h1m3 0h1m0 0h1m2 0h1m1 0h1m0 0h1m1 0h1m0 0h1m0 0h1m1 0h1m2 0h1m2 0h1m1 0h1m0 0h1m0 0h1m0 0h1m0 0h1m2 0h1m0 0h1m0 0h1m1 0h1m0 0h1m0 0h1m8 0h1m2 0h1m1 0h1m1 0h1m7 0h1m1 0h1m3 0h1m0 0h1m3 0h1m0 0h1m0 0h1m1 0h1m4 0h1m0 0h1m0 0h1m0 0h1m2 0h1m1 0h1m3 0h1m3 0h1m1 0h1m3 0h1m0 0h1m2 0h1m8 0h1m1 0h1m3 0h1m2 0h1m4 0h1m0 0h1m1 0h1m5 0h1m2 0h1m3 0h1m0 0h1m4 0h1m8 0h1m1 0h1m2 0h1m10 0h1m0 0h1m2 0h1m8 0h1m10 0h1m0 0h1m3 0h1m2 0h1m2 0h1m3 0h1m2 0h1m1 0h1m0 0h1m2 0h1m2 0h1m0 0h1m4 0h1m2 0h1m1 0h1m0 0h1m5 0h1m3 0h1m1 0h1m5 0h1m2 0h1m0 0h1m1 0h1m1 0h1m0 0h1m0 0h1m3 0h1m4 0h1m3 0h1m3 0h1m7 0h1m6 0h1m6 0h1m5 0h1m10 0h1m2 0h1m3 0h1m8 0h1m7 0h1m0 0h1m6 0h1m2 0h1m6 0h1m2 0h1m0 0h1m4 0h1m9 0h1m1 0h1m0 0h1m9 0h1m8 0h1m0 0h1m6 0h1m25 0h1m7 0h1m12 0h1m21 0h1m17 0h1m45 0h1M50 262h1m1 0h1m2 0h1m0 0h1m1 0h1m1 0h1m1 0h1m0 0h1m1 0h1m1 0h1m0 0h1m1 0h1m0 0h1m1 0h1m2 0h1m0 0h1m3 0h1m1 0h1m1 0h1m2 0h1m0 0h1m1 0h1m0 0h1m2 0h1m1 0h1m4 0h1m0 0h1m0 0h1m1 0h1m0 0h1m0 0h1m1 0h1m0 0h1m0 0h1m0 0h1m1 0h1m0 0h1m0 0h1m0 0h1m3 0h1m0 0h1m1 0h1m0 0h1m0 0h1m2 0h1m2 0h1m2 0h1m0 0h1m0 0h1m0 0h1m2 0h1m1 0h1m5 0h1m0 0h1m0 0h1m1 0h1m1 0h1m0 0h1m1 0h1m2 0h1m0 0h1m0 0h1m1 0h1m1 0h1m1 0h1m0 0h1m1 0h1m0 0h1m3 0h1m2 0h1m0 0h1m4 0h1m0 0h1m0 0h1m3 0h1m1 0h1m0 0h1m0 0h1m0 0h1m1 0h1m0 0h1m2 0h1m4 0h1m8 0h1m1 0h1m1 0h1m2 0h1m2 0h1m0 0h1m0 0h1m1 0h1m0 0h1m1 0h1m0 0h1m3 0h1m7 0h1m7 0h1m0 0h1m0 0h1m1 0h1m4 0h1m0 0h1m4 0h1m1 0h1m0 0h1m0 0h1m0 0h1m4 0h1m3 0h1m0 0h1m8 0h1m4 0h1m1 0h1m4 0h1m3 0h1m3 0h1m3 0h1m1 0h1m0 0h1m3 0h1m2 0h1m1 0h1m0 0h1m0 0h1m14 0h1m12 0h1m1 0h1m2 0h1m0 0h1m0 0h1m1 0h1m7 0h1m5 0h1m6 0h1m2 0h1m4 0h1m9 0h1m1 0h1m4 0h1m3 0h1m8 0h1m1 0h1m7 0h1m7 0h1m2 0h1m6 0h1m3 0h1m11 0h1m1 0h1m3 0h1m3 0h1m4 0h1m4 0h1m1 0h1m2 0h1m8 0h1m1 0h1m2 0h1m1 0h1m8 0h1m15 0h1m5 0h1m3 0h1m21 0h1m9 0h1m7 0h1m3 0h1m19 0h1m3 0h1m46 0h1M50 263h1m3 0h1m0 0h1m7 0h1m0 0h1m4 0h1m0 0h1m0 0h1m3 0h1m3 0h1m0 0h1m0 0h1m1 0h1m2 0h1m5 0h1m2 0h1m0 0h1m2 0h1m0 0h1m0 0h1m0 0h1m1 0h1m0 0h1m1 0h1m1 0h1m4 0h1m2 0h1m0 0h1m0 0h1m1 0h1m1 0h1m1 0h1m0 0h1m0 0h1m0 0h1m1 0h1m0 0h1m0 0h1m4 0h1m0 0h1m5 0h1m2 0h1m3 0h1m0 0h1m0 0h1m0 0h1m0 0h1m2 0h1m0 0h1m1 0h1m1 0h1m0 0h1m0 0h1m7 0h1m3 0h1m0 0h1m2 0h1m2 0h1m1 0h1m0 0h1m0 0h1m0 0h1m2 0h1m1 0h1m0 0h1m0 0h1m0 0h1m0 0h1m0 0h1m3 0h1m0 0h1m1 0h1m0 0h1m0 0h1m4 0h1m0 0h1m0 0h1m3 0h1m0 0h1m1 0h1m4 0h1m10 0h1m6 0h1m1 0h1m0 0h1m0 0h1m1 0h1m4 0h1m0 0h1m0 0h1m1 0h1m2 0h1m0 0h1m1 0h1m0 0h1m1 0h1m2 0h1m4 0h1m1 0h1m0 0h1m2 0h1m5 0h1m1 0h1m0 0h1m6 0h1m0 0h1m1 0h1m7 0h1m5 0h1m4 0h1m5 0h1m0 0h1m1 0h1m0 0h1m2 0h1m7 0h1m1 0h1m6 0h1m1 0h1m1 0h1m2 0h1m3 0h1m1 0h1m1 0h1m6 0h1m0 0h1m1 0h1m1 0h1m5 0h1m10 0h1m3 0h1m2 0h1m7 0h1m3 0h1m0 0h1m0 0h1m14 0h1m4 0h1m1 0h1m1 0h1m0 0h1m2 0h1m8 0h1m1 0h1m4 0h1m7 0h1m6 0h1m4 0h1m6 0h1m1 0h1m0 0h1m3 0h1m4 0h1m38 0h1m0 0h1m13 0h1m0 0h1m15 0h1m37 0h1m3 0h1m40 0h1M50 264h1m1 0h1m1 0h1m8 0h1m1 0h1m0 0h1m0 0h1m0 0h1m0 0h1m0 0h1m1 0h1m1 0h1m1 0h1m0 0h1m0 0h1m0 0h1m4 0h1m5 0h1m2 0h1m2 0h1m0 0h1m1 0h1m1 0h1m0 0h1m0 0h1m2 0h1m1 0h1m1 0h1m0 0h1m0 0h1m2 0h1m1 0h1m7 0h1m1 0h1m1 0h1m2 0h1m0 0h1m0 0h1m3 0h1m1 0h1m0 0h1m2 0h1m0 0h1m5 0h1m2 0h1m0 0h1m0 0h1m0 0h1m1 0h1m0 0h1m2 0h1m5 0h1m5 0h1m0 0h1m0 0h1m0 0h1m2 0h1m5 0h1m0 0h1m1 0h1m1 0h1m8 0h1m5 0h1m0 0h1m0 0h1m4 0h1m1 0h1m1 0h1m1 0h1m3 0h1m0 0h1m0 0h1m3 0h1m1 0h1m0 0h1m0 0h1m0 0h1m1 0h1m1 0h1m4 0h1m1 0h1m5 0h1m7 0h1m2 0h1m6 0h1m1 0h1m4 0h1m2 0h1m3 0h1m2 0h1m5 0h1m1 0h1m1 0h1m0 0h1m1 0h1m0 0h1m0 0h1m12 0h1m4 0h1m5 0h1m3 0h1m10 0h1m13 0h1m0 0h1m3 0h1m1 0h1m2 0h1m3 0h1m1 0h1m0 0h1m3 0h1m3 0h1m2 0h1m5 0h1m2 0h1m0 0h1m4 0h1m6 0h1m1 0h1m2 0h1m2 0h1m0 0h1m0 0h1m4 0h1m4 0h1m0 0h1m2 0h1m0 0h1m2 0h1m1 0h1m4 0h1m5 0h1m6 0h1m10 0h1m2 0h1m2 0h1m0 0h1m3 0h1m5 0h1m0 0h1m5 0h1m1 0h1m4 0h1m2 0h1m0 0h1m10 0h1m2 0h1m0 0h1m6 0h1m8 0h1m1 0h1m15 0h1m1 0h1m2 0h1m2 0h1M50 265h1m1 0h1m0 0h1m6 0h1m9 0h1m0 0h1m0 0h1m0 0h1m1 0h1m2 0h1m0 0h1m1 0h1m0 0h1m0 0h1m0 0h1m0 0h1m3 0h1m0 0h1m0 0h1m0 0h1m0 0h1m1 0h1m0 0h1m1 0h1m0 0h1m0 0h1m0 0h1m0 0h1m4 0h1m1 0h1m0 0h1m0 0h1m1 0h1m1 0h1m1 0h1m3 0h1m1 0h1m2 0h1m1 0h1m0 0h1m1 0h1m0 0h1m0 0h1m0 0h1m0 0h1m1 0h1m0 0h1m0 0h1m0 0h1m1 0h1m0 0h1m1 0h1m1 0h1m1 0h1m1 0h1m2 0h1m0 0h1m1 0h1m0 0h1m0 0h1m4 0h1m4 0h1m3 0h1m2 0h1m0 0h1m1 0h1m0 0h1m2 0h1m3 0h1m1 0h1m1 0h1m0 0h1m0 0h1m2 0h1m7 0h1m2 0h1m1 0h1m2 0h1m0 0h1m0 0h1m0 0h1m1 0h1m2 0h1m0 0h1m2 0h1m0 0h1m1 0h1m0 0h1m4 0h1m0 0h1m1 0h1m4 0h1m1 0h1m6 0h1m1 0h1m2 0h1m4 0h1m1 0h1m4 0h1m0 0h1m0 0h1m0 0h1m0 0h1m0 0h1m3 0h1m0 0h1m8 0h1m3 0h1m9 0h1m0 0h1m1 0h1m4 0h1m0 0h1m4 0h1m9 0h1m0 0h1m3 0h1m5 0h1m3 0h1m0 0h1m1 0h1m0 0h1m4 0h1m19 0h1m3 0h1m7 0h1m7 0h1m0 0h1m5 0h1m1 0h1m3 0h1m8 0h1m1 0h1m2 0h1m1 0h1m1 0h1m3 0h1m3 0h1m0 0h1m4 0h1m2 0h1m1 0h1m0 0h1m5 0h1m2 0h1m5 0h1m1 0h1m0 0h1m1 0h1m7 0h1m0 0h1m4 0h1m9 0h1m1 0h1m17 0h1m26 0h1m11 0h1m2 0h1m2 0h1m8 0h1m2 0h1m122 0h1M53 266h1m1 0h1m0 0h1m5 0h1m2 0h1m1 0h1m1 0h1m0 0h1m2 0h1m0 0h1m0 0h1m6 0h1m1 0h1m1 0h1m0 0h1m2 0h1m2 0h1m0 0h1m6 0h1m0 0h1m4 0h1m1 0h1m0 0h1m2 0h1m1 0h1m0 0h1m0 0h1m1 0h1m1 0h1m0 0h1m1 0h1m0 0h1m0 0h1m0 0h1m1 0h1m2 0h1m1 0h1m1 0h1m1 0h1m2 0h1m2 0h1m1 0h1m2 0h1m0 0h1m0 0h1m0 0h1m1 0h1m5 0h1m1 0h1m3 0h1m3 0h1m2 0h1m0 0h1m0 0h1m1 0h1m3 0h1m1 0h1m0 0h1m5 0h1m0 0h1m5 0h1m6 0h1m3 0h1m5 0h1m1 0h1m2 0h1m0 0h1m1 0h1m0 0h1m0 0h1m0 0h1m0 0h1m1 0h1m2 0h1m2 0h1m2 0h1m0 0h1m1 0h1m1 0h1m4 0h1m0 0h1m0 0h1m1 0h1m0 0h1m1 0h1m6 0h1m1 0h1m1 0h1m3 0h1m5 0h1m2 0h1m1 0h1m10 0h1m1 0h1m0 0h1m7 0h1m0 0h1m3 0h1m0 0h1m0 0h1m0 0h1m2 0h1m9 0h1m2 0h1m1 0h1m5 0h1m6 0h1m3 0h1m13 0h1m5 0h1m4 0h1m2 0h1m0 0h1m8 0h1m2 0h1m9 0h1m1 0h1m6 0h1m0 0h1m4 0h1m12 0h1m0 0h1m1 0h1m0 0h1m1 0h1m0 0h1m5 0h1m2 0h1m0 0h1m3 0h1m3 0h1m0 0h1m0 0h1m11 0h1m0 0h1m0 0h1m3 0h1m2 0h1m0 0h1m1 0h1m3 0h1m6 0h1m7 0h1m0 0h1m1 0h1m4 0h1m10 0h1m5 0h1m6 0h1m11 0h1m3 0h1m1 0h1m4 0h1m3 0h1m2 0h1m3 0h1m4 0h1m2 0h1m33 0h1M50 267h1m4 0h1m0 0h1m2 0h1m11 0h1m1 0h1m2 0h1m2 0h1m0 0h1m2 0h1m0 0h1m1 0h1m1 0h1m1 0h1m1 0h1m1 0h1m2 0h1m0 0h1m4 0h1m0 0h1m2 0h1m2 0h1m0 0h1m3 0h1m3 0h1m1 0h1m0 0h1m4 0h1m5 0h1m0 0h1m0 0h1m5 0h1m0 0h1m3 0h1m3 0h1m2 0h1m4 0h1m0 0h1m0 0h1m0 0h1m4 0h1m3 0h1m0 0h1m0 0h1m0 0h1m0 0h1m0 0h1m1 0h1m0 0h1m1 0h1m4 0h1m0 0h1m1 0h1m0 0h1m0 0h1m2 0h1m0 0h1m1 0h1m0 0h1m1 0h1m0 0h1m5 0h1m1 0h1m3 0h1m1 0h1m4 0h1m18 0h1m2 0h1m11 0h1m0 0h1m7 0h1m2 0h1m6 0h1m0 0h1m1 0h1m4 0h1m5 0h1m0 0h1m0 0h1m1 0h1m2 0h1m0 0h1m5 0h1m1 0h1m1 0h1m0 0h1m2 0h1m0 0h1m2 0h1m2 0h1m1 0h1m2 0h1m2 0h1m1 0h1m1 0h1m0 0h1m1 0h1m1 0h1m0 0h1m6 0h1m0 0h1m4 0h1m3 0h1m1 0h1m3 0h1m1 0h1m1 0h1m8 0h1m0 0h1m0 0h1m6 0h1m0 0h1m16 0h1m3 0h1m0 0h1m1 0h1m1 0h1m0 0h1m8 0h1m5 0h1m1 0h1m11 0h1m4 0h1m6 0h1m2 0h1m2 0h1m1 0h1m0 0h1m2 0h1m2 0h1m1 0h1m1 0h1m0 0h1m4 0h1m1 0h1m3 0h1m2 0h1m3 0h1m3 0h1m0 0h1m1 0h1m7 0h1m7 0h1m2 0h1m4 0h1m7 0h1m1 0h1m2 0h1m2 0h1m2 0h1m17 0h1m9 0h1M51 268h1m8 0h1m0 0h1m0 0h1m1 0h1m0 0h1m0 0h1m1 0h1m2 0h1m3 0h1m0 0h1m0 0h1m6 0h1m1 0h1m0 0h1m0 0h1m0 0h1m1 0h1m0 0h1m1 0h1m4 0h1m0 0h1m1 0h1m1 0h1m1 0h1m7 0h1m0 0h1m2 0h1m1 0h1m1 0h1m1 0h1m1 0h1m0 0h1m0 0h1m2 0h1m0 0h1m0 0h1m1 0h1m0 0h1m8 0h1m4 0h1m1 0h1m0 0h1m2 0h1m0 0h1m7 0h1m0 0h1m2 0h1m2 0h1m3 0h1m0 0h1m0 0h1m1 0h1m0 0h1m6 0h1m2 0h1m1 0h1m1 0h1m1 0h1m1 0h1m3 0h1m3 0h1m1 0h1m0 0h1m3 0h1m6 0h1m0 0h1m1 0h1m0 0h1m0 0h1m0 0h1m0 0h1m4 0h1m0 0h1m3 0h1m4 0h1m0 0h1m1 0h1m0 0h1m6 0h1m0 0h1m6 0h1m3 0h1m1 0h1m0 0h1m5 0h1m0 0h1m0 0h1m8 0h1m4 0h1m5 0h1m7 0h1m4 0h1m9 0h1m0 0h1m4 0h1m3 0h1m6 0h1m0 0h1m2 0h1m1 0h1m0 0h1m0 0h1m1 0h1m2 0h1m0 0h1m6 0h1m1 0h1m3 0h1m1 0h1m4 0h1m6 0h1m2 0h1m3 0h1m2 0h1m0 0h1m0 0h1m7 0h1m6 0h1m1 0h1m1 0h1m3 0h1m2 0h1m4 0h1m4 0h1m12 0h1m0 0h1m6 0h1m3 0h1m7 0h1m0 0h1m0 0h1m3 0h1m3 0h1m1 0h1m2 0h1m1 0h1m22 0h1m5 0h1m0 0h1m6 0h1m3 0h1m8 0h1m27 0h1M53 269h1m0 0h1m0 0h1m2 0h1m0 0h1m0 0h1m1 0h1m2 0h1m1 0h1m1 0h1m3 0h1m0 0h1m0 0h1m0 0h1m0 0h1m0 0h1m1 0h1m1 0h1m0 0h1m0 0h1m0 0h1m0 0h1m1 0h1m6 0h1m0 0h1m6 0h1m1 0h1m0 0h1m0 0h1m1 0h1m0 0h1m0 0h1m2 0h1m0 0h1m2 0h1m1 0h1m0 0h1m3 0h1m0 0h1m1 0h1m1 0h1m1 0h1m4 0h1m3 0h1m1 0h1m2 0h1m1 0h1m0 0h1m3 0h1m2 0h1m3 0h1m1 0h1m5 0h1m2 0h1m0 0h1m2 0h1m0 0h1m0 0h1m4 0h1m0 0h1m2 0h1m2 0h1m0 0h1m1 0h1m5 0h1m0 0h1m1 0h1m5 0h1m1 0h1m2 0h1m0 0h1m1 0h1m1 0h1m0 0h1m0 0h1m1 0h1m1 0h1m15 0h1m1 0h1m1 0h1m0 0h1m4 0h1m0 0h1m0 0h1m1 0h1m0 0h1m2 0h1m6 0h1m2 0h1m2 0h1m2 0h1m1 0h1m1 0h1m4 0h1m2 0h1m3 0h1m0 0h1m5 0h1m1 0h1m1 0h1m0 0h1m2 0h1m0 0h1m4 0h1m1 0h1m2 0h1m5 0h1m2 0h1m3 0h1m2 0h1m7 0h1m2 0h1m1 0h1m2 0h1m8 0h1m0 0h1m2 0h1m3 0h1m0 0h1m5 0h1m7 0h1m0 0h1m0 0h1m12 0h1m2 0h1m10 0h1m1 0h1m0 0h1m5 0h1m5 0h1m5 0h1m1 0h1m11 0h1m18 0h1m10 0h1m2 0h1m5 0h1m3 0h1m5 0h1m15 0h1M51 270h1m2 0h1m0 0h1m1 0h1m3 0h1m0 0h1m2 0h1m0 0h1m1 0h1m1 0h1m1 0h1m0 0h1m1 0h1m0 0h1m1 0h1m1 0h1m0 0h1m0 0h1m2 0h1m1 0h1m0 0h1m0 0h1m1 0h1m4 0h1m7 0h1m0 0h1m1 0h1m3 0h1m1 0h1m1 0h1m4 0h1m1 0h1m1 0h1m1 0h1m2 0h1m1 0h1m4 0h1m0 0h1m1 0h1m0 0h1m2 0h1m0 0h1m0 0h1m2 0h1m2 0h1m1 0h1m0 0h1m1 0h1m4 0h1m2 0h1m6 0h1m2 0h1m1 0h1m1 0h1m0 0h1m0 0h1m3 0h1m0 0h1m1 0h1m2 0h1m6 0h1m0 0h1m0 0h1m0 0h1m0 0h1m1 0h1m2 0h1m0 0h1m1 0h1m4 0h1m2 0h1m2 0h1m2 0h1m1 0h1m3 0h1m3 0h1m7 0h1m1 0h1m0 0h1m0 0h1m1 0h1m0 0h1m4 0h1m0 0h1m2 0h1m1 0h1m6 0h1m0 0h1m3 0h1m0 0h1m4 0h1m0 0h1m0 0h1m3 0h1m1 0h1m8 0h1m1 0h1m1 0h1m1 0h1m2 0h1m1 0h1m2 0h1m1 0h1m4 0h1m1 0h1m0 0h1m0 0h1m2 0h1m2 0h1m2 0h1m2 0h1m0 0h1m2 0h1m4 0h1m4 0h1m2 0h1m2 0h1m3 0h1m3 0h1m6 0h1m0 0h1m5 0h1m3 0h1m2 0h1m0 0h1m0 0h1m1 0h1m4 0h1m1 0h1m0 0h1m1 0h1m5 0h1m3 0h1m13 0h1m0 0h1m6 0h1m11 0h1m5 0h1m7 0h1m3 0h1m1 0h1m3 0h1m9 0h1m26 0h1m9 0h1m80 0h1M50 271h1m0 0h1m4 0h1m1 0h1m2 0h1m0 0h1m0 0h1m2 0h1m3 0h1m2 0h1m2 0h1m1 0h1m1 0h1m6 0h1m0 0h1m1 0h1m0 0h1m3 0h1m0 0h1m1 0h1m2 0h1m1 0h1m1 0h1m1 0h1m0 0h1m0 0h1m0 0h1m0 0h1m1 0h1m1 0h1m2 0h1m4 0h1m1 0h1m0 0h1m0 0h1m9 0h1m2 0h1m2 0h1m3 0h1m1 0h1m1 0h1m0 0h1m0 0h1m0 0h1m0 0h1m3 0h1m0 0h1m0 0h1m1 0h1m0 0h1m0 0h1m0 0h1m1 0h1m4 0h1m2 0h1m0 0h1m8 0h1m3 0h1m0 0h1m1 0h1m1 0h1m2 0h1m0 0h1m0 0h1m2 0h1m0 0h1m0 0h1m0 0h1m1 0h1m5 0h1m0 0h1m6 0h1m3 0h1m0 0h1m5 0h1m8 0h1m2 0h1m2 0h1m0 0h1m0 0h1m5 0h1m12 0h1m0 0h1m1 0h1m0 0h1m3 0h1m2 0h1m1 0h1m1 0h1m3 0h1m0 0h1m7 0h1m9 0h1m0 0h1m4 0h1m2 0h1m4 0h1m0 0h1m2 0h1m2 0h1m1 0h1m3 0h1m2 0h1m6 0h1m6 0h1m1 0h1m2 0h1m0 0h1m2 0h1m19 0h1m0 0h1m2 0h1m1 0h1m0 0h1m12 0h1m2 0h1m18 0h1m0 0h1m2 0h1m6 0h1m1 0h1m3 0h1m1 0h1m1 0h1m0 0h1m11 0h1m2 0h1m7 0h1m1 0h1m1 0h1m1 0h1m2 0h1m18 0h1m2 0h1M51 272h1m0 0h1m1 0h1m0 0h1m7 0h1m0 0h1m0 0h1m3 0h1m1 0h1m0 0h1m1 0h1m4 0h1m0 0h1m0 0h1m1 0h1m0 0h1m0 0h1m0 0h1m4 0h1m0 0h1m1 0h1m0 0h1m1 0h1m0 0h1m0 0h1m0 0h1m0 0h1m4 0h1m1 0h1m3 0h1m0 0h1m0 0h1m0 0h1m0 0h1m1 0h1m6 0h1m0 0h1m1 0h1m0 0h1m1 0h1m0 0h1m0 0h1m1 0h1m2 0h1m0 0h1m0 0h1m0 0h1m1 0h1m2 0h1m1 0h1m2 0h1m0 0h1m2 0h1m5 0h1m0 0h1m0 0h1m0 0h1m0 0h1m0 0h1m0 0h1m2 0h1m0 0h1m0 0h1m0 0h1m0 0h1m0 0h1m0 0h1m0 0h1m4 0h1m1 0h1m0 0h1m0 0h1m7 0h1m1 0h1m3 0h1m0 0h1m8 0h1m0 0h1m0 0h1m0 0h1m2 0h1m3 0h1m6 0h1m1 0h1m1 0h1m0 0h1m3 0h1m0 0h1m2 0h1m5 0h1m8 0h1m0 0h1m2 0h1m2 0h1m0 0h1m1 0h1m2 0h1m0 0h1m6 0h1m1 0h1m0 0h1m7 0h1m2 0h1m0 0h1m0 0h1m4 0h1m0 0h1m0 0h1m2 0h1m3 0h1m2 0h1m0 0h1m12 0h1m4 0h1m3 0h1m2 0h1m8 0h1m4 0h1m1 0h1m7 0h1m1 0h1m0 0h1m0 0h1m5 0h1m3 0h1m1 0h1m4 0h1m7 0h1m7 0h1m0 0h1m0 0h1m3 0h1m2 0h1m7 0h1m2 0h1m5 0h1m1 0h1m4 0h1m1 0h1m6 0h1m1 0h1m0 0h1m1 0h1m3 0h1m2 0h1m1 0h1m7 0h1m0 0h1m10 0h1m6 0h1m1 0h1m19 0h1m0 0h1m22 0h1m4 0h1m1 0h1M52 273h1m1 0h1m1 0h1m0 0h1m11 0h1m1 0h1m0 0h1m0 0h1m5 0h1m2 0h1m1 0h1m0 0h1m2 0h1m0 0h1m5 0h1m0 0h1m2 0h1m1 0h1m0 0h1m2 0h1m0 0h1m1 0h1m0 0h1m5 0h1m2 0h1m0 0h1m1 0h1m5 0h1m0 0h1m1 0h1m4 0h1m0 0h1m2 0h1m0 0h1m1 0h1m1 0h1m0 0h1m0 0h1m1 0h1m2 0h1m1 0h1m1 0h1m1 0h1m4 0h1m1 0h1m1 0h1m10 0h1m0 0h1m1 0h1m2 0h1m0 0h1m0 0h1m2 0h1m2 0h1m0 0h1m2 0h1m2 0h1m1 0h1m0 0h1m3 0h1m2 0h1m1 0h1m1 0h1m0 0h1m6 0h1m5 0h1m3 0h1m0 0h1m0 0h1m1 0h1m0 0h1m6 0h1m4 0h1m4 0h1m2 0h1m15 0h1m2 0h1m0 0h1m0 0h1m2 0h1m0 0h1m1 0h1m3 0h1m0 0h1m0 0h1m8 0h1m0 0h1m0 0h1m3 0h1m0 0h1m3 0h1m1 0h1m11 0h1m1 0h1m2 0h1m1 0h1m1 0h1m0 0h1m1 0h1m0 0h1m2 0h1m1 0h1m1 0h1m15 0h1m1 0h1m1 0h1m0 0h1m1 0h1m1 0h1m8 0h1m3 0h1m8 0h1m1 0h1m2 0h1m0 0h1m40 0h1m1 0h1m5 0h1m0 0h1m2 0h1m0 0h1m6 0h1m0 0h1m0 0h1m7 0h1m0 0h1m4 0h1m3 0h1m4 0h1m5 0h1m2 0h1m4 0h1m4 0h1M52 274h1m0 0h1m4 0h1m2 0h1m0 0h1m0 0h1m0 0h1m0 0h1m0 0h1m0 0h1m3 0h1m0 0h1m0 0h1m0 0h1m1 0h1m0 0h1m3 0h1m1 0h1m5 0h1m1 0h1m7 0h1m0 0h1m0 0h1m0 0h1m1 0h1m3 0h1m0 0h1m5 0h1m0 0h1m2 0h1m2 0h1m1 0h1m1 0h1m4 0h1m0 0h1m4 0h1m0 0h1m0 0h1m0 0h1m1 0h1m3 0h1m1 0h1m4 0h1m0 0h1m0 0h1m2 0h1m3 0h1m9 0h1m1 0h1m1 0h1m1 0h1m3 0h1m5 0h1m6 0h1m0 0h1m2 0h1m1 0h1m0 0h1m4 0h1m1 0h1m2 0h1m10 0h1m0 0h1m6 0h1m1 0h1m1 0h1m0 0h1m0 0h1m0 0h1m3 0h1m1 0h1m0 0h1m1 0h1m3 0h1m0 0h1m1 0h1m6 0h1m2 0h1m3 0h1m0 0h1m0 0h1m11 0h1m0 0h1m3 0h1m5 0h1m5 0h1m10 0h1m16 0h1m0 0h1m0 0h1m0 0h1m1 0h1m4 0h1m2 0h1m7 0h1m2 0h1m0 0h1m1 0h1m0 0h1m4 0h1m0 0h1m0 0h1m3 0h1m0 0h1m2 0h1m0 0h1m3 0h1m1 0h1m1 0h1m5 0h1m1 0h1m5 0h1m1 0h1m2 0h1m0 0h1m4 0h1m2 0h1m5 0h1m0 0h1m0 0h1m0 0h1m0 0h1m0 0h1m1 0h1m3 0h1m2 0h1m2 0h1m1 0h1m10 0h1m14 0h1m0 0h1m3 0h1m7 0h1m22 0h1M51 275h1m3 0h1m2 0h1m6 0h1m2 0h1m0 0h1m1 0h1m0 0h1m1 0h1m0 0h1m0 0h1m0 0h1m0 0h1m2 0h1m2 0h1m0 0h1m0 0h1m0 0h1m2 0h1m0 0h1m1 0h1m0 0h1m5 0h1m0 0h1m0 0h1m0 0h1m2 0h1m5 0h1m0 0h1m0 0h1m1 0h1m5 0h1m1 0h1m0 0h1m0 0h1m0 0h1m1 0h1m1 0h1m0 0h1m0 0h1m0 0h1m4 0h1m2 0h1m0 0h1m1 0h1m0 0h1m4 0h1m0 0h1m0 0h1m0 0h1m1 0h1m0 0h1m1 0h1m1 0h1m0 0h1m0 0h1m0 0h1m0 0h1m0 0h1m2 0h1m3 0h1m5 0h1m0 0h1m0 0h1m0 0h1m2 0h1m0 0h1m0 0h1m0 0h1m0 0h1m2 0h1m8 0h1m0 0h1m1 0h1m0 0h1m0 0h1m0 0h1m3 0h1m1 0h1m0 0h1m4 0h1m6 0h1m1 0h1m0 0h1m1 0h1m0 0h1m0 0h1m2 0h1m1 0h1m2 0h1m4 0h1m0 0h1m1 0h1m1 0h1m1 0h1m1 0h1m0 0h1m0 0h1m1 0h1m3 0h1m1 0h1m2 0h1m2 0h1m1 0h1m1 0h1m1 0h1m0 0h1m5 0h1m5 0h1m3 0h1m0 0h1m7 0h1m0 0h1m3 0h1m1 0h1m0 0h1m3 0h1m13 0h1m2 0h1m5 0h1m3 0h1m5 0h1m7 0h1m2 0h1m10 0h1m2 0h1m7 0h1m0 0h1m0 0h1m2 0h1m0 0h1m2 0h1m0 0h1m5 0h1m0 0h1m0 0h1m4 0h1m0 0h1m0 0h1m0 0h1m0 0h1m2 0h1m0 0h1m2 0h1m5 0h1m0 0h1m3 0h1m3 0h1m6 0h1m21 0h1m1 0h1m0 0h1m12 0h1m3 0h1m0 0h1m6 0h1m55 0h1M53 276h1m3 0h1m1 0h1m5 0h1m0 0h1m1 0h1m1 0h1m5 0h1m2 0h1m3 0h1m0 0h1m0 0h1m2 0h1m3 0h1m2 0h1m0 0h1m0 0h1m1 0h1m3 0h1m0 0h1m0 0h1m0 0h1m2 0h1m5 0h1m2 0h1m3 0h1m0 0h1m4 0h1m1 0h1m1 0h1m1 0h1m3 0h1m1 0h1m1 0h1m0 0h1m1 0h1m1 0h1m4 0h1m0 0h1m0 0h1m1 0h1m0 0h1m0 0h1m6 0h1m0 0h1m1 0h1m0 0h1m2 0h1m3 0h1m0 0h1m2 0h1m2 0h1m0 0h1m0 0h1m1 0h1m4 0h1m1 0h1m1 0h1m2 0h1m0 0h1m0 0h1m9 0h1m1 0h1m2 0h1m1 0h1m1 0h1m0 0h1m0 0h1m0 0h1m2 0h1m0 0h1m2 0h1m1 0h1m1 0h1m1 0h1m0 0h1m4 0h1m7 0h1m0 0h1m1 0h1m7 0h1m0 0h1m6 0h1m0 0h1m1 0h1m0 0h1m20 0h1m1 0h1m0 0h1m3 0h1m4 0h1m4 0h1m7 0h1m0 0h1m2 0h1m0 0h1m1 0h1m0 0h1m1 0h1m0 0h1m3 0h1m2 0h1m5 0h1m0 0h1m2 0h1m0 0h1m0 0h1m4 0h1m2 0h1m5 0h1m0 0h1m15 0h1m2 0h1m0 0h1m0 0h1m8 0h1m4 0h1m3 0h1m2 0h1m2 0h1m3 0h1m13 0h1m3 0h1m3 0h1m0 0h1m3 0h1m0 0h1m2 0h1m1 0h1m0 0h1m2 0h1m4 0h1m2 0h1m5 0h1m0 0h1m23 0h1M53 277h1m0 0h1m1 0h1m2 0h1m0 0h1m1 0h1m1 0h1m3 0h1m4 0h1m2 0h1m0 0h1m0 0h1m0 0h1m1 0h1m0 0h1m1 0h1m0 0h1m5 0h1m2 0h1m5 0h1m1 0h1m0 0h1m2 0h1m1 0h1m1 0h1m2 0h1m1 0h1m1 0h1m0 0h1m1 0h1m0 0h1m3 0h1m1 0h1m1 0h1m1 0h1m2 0h1m0 0h1m1 0h1m0 0h1m0 0h1m1 0h1m1 0h1m0 0h1m2 0h1m1 0h1m1 0h1m0 0h1m4 0h1m2 0h1m3 0h1m9 0h1m5 0h1m0 0h1m3 0h1m1 0h1m1 0h1m4 0h1m1 0h1m1 0h1m1 0h1m2 0h1m1 0h1m0 0h1m0 0h1m0 0h1m8 0h1m1 0h1m7 0h1m0 0h1m3 0h1m5 0h1m0 0h1m0 0h1m5 0h1m3 0h1m2 0h1m0 0h1m0 0h1m11 0h1m0 0h1m0 0h1m0 0h1m4 0h1m1 0h1m1 0h1m1 0h1m0 0h1m3 0h1m0 0h1m6 0h1m9 0h1m2 0h1m0 0h1m8 0h1m1 0h1m0 0h1m0 0h1m4 0h1m1 0h1m3 0h1m3 0h1m2 0h1m7 0h1m6 0h1m3 0h1m5 0h1m4 0h1m7 0h1m13 0h1m4 0h1m0 0h1m2 0h1m0 0h1m1 0h1m4 0h1m2 0h1m17 0h1m9 0h1m8 0h1m20 0h1m13 0h1m6 0h1M52 278h1m2 0h1m0 0h1m1 0h1m0 0h1m3 0h1m0 0h1m0 0h1m0 0h1m2 0h1m0 0h1m0 0h1m0 0h1m0 0h1m1 0h1m1 0h1m1 0h1m0 0h1m1 0h1m1 0h1m0 0h1m1 0h1m3 0h1m1 0h1m1 0h1m1 0h1m0 0h1m1 0h1m0 0h1m3 0h1m0 0h1m3 0h1m3 0h1m0 0h1m0 0h1m0 0h1m1 0h1m0 0h1m0 0h1m1 0h1m2 0h1m0 0h1m0 0h1m4 0h1m0 0h1m0 0h1m10 0h1m1 0h1m4 0h1m1 0h1m2 0h1m4 0h1m0 0h1m2 0h1m2 0h1m2 0h1m1 0h1m3 0h1m1 0h1m1 0h1m7 0h1m0 0h1m3 0h1m2 0h1m1 0h1m0 0h1m1 0h1m0 0h1m3 0h1m5 0h1m2 0h1m1 0h1m2 0h1m13 0h1m1 0h1m1 0h1m3 0h1m10 0h1m0 0h1m0 0h1m1 0h1m0 0h1m8 0h1m0 0h1m1 0h1m0 0h1m3 0h1m0 0h1m4 0h1m6 0h1m0 0h1m5 0h1m0 0h1m0 0h1m5 0h1m0 0h1m0 0h1m6 0h1m1 0h1m4 0h1m18 0h1m0 0h1m3 0h1m0 0h1m10 0h1m1 0h1m6 0h1m11 0h1m5 0h1m0 0h1m3 0h1m0 0h1m0 0h1m10 0h1m0 0h1m3 0h1m16 0h1m3 0h1m7 0h1m8 0h1m1 0h1m2 0h1m8 0h1m11 0h1m9 0h1m10 0h1M50 279h1m0 0h1m0 0h1m1 0h1m7 0h1m4 0h1m1 0h1m1 0h1m5 0h1m1 0h1m0 0h1m1 0h1m2 0h1m2 0h1m0 0h1m1 0h1m3 0h1m2 0h1m0 0h1m0 0h1m2 0h1m1 0h1m1 0h1m0 0h1m1 0h1m2 0h1m0 0h1m1 0h1m0 0h1m0 0h1m3 0h1m0 0h1m2 0h1m0 0h1m1 0h1m0 0h1m0 0h1m2 0h1m2 0h1m0 0h1m1 0h1m0 0h1m0 0h1m0 0h1m3 0h1m0 0h1m1 0h1m0 0h1m3 0h1m0 0h1m1 0h1m2 0h1m0 0h1m0 0h1m0 0h1m4 0h1m2 0h1m0 0h1m0 0h1m0 0h1m11 0h1m6 0h1m1 0h1m3 0h1m2 0h1m0 0h1m0 0h1m4 0h1m0 0h1m3 0h1m0 0h1m1 0h1m4 0h1m2 0h1m0 0h1m0 0h1m9 0h1m3 0h1m0 0h1m0 0h1m3 0h1m8 0h1m1 0h1m8 0h1m7 0h1m0 0h1m0 0h1m0 0h1m2 0h1m2 0h1m3 0h1m0 0h1m0 0h1m12 0h1m0 0h1m3 0h1m0 0h1m2 0h1m3 0h1m0 0h1m0 0h1m1 0h1m0 0h1m4 0h1m5 0h1m2 0h1m5 0h1m0 0h1m4 0h1m3 0h1m1 0h1m2 0h1m3 0h1m2 0h1m6 0h1m3 0h1m0 0h1m4 0h1m1 0h1m1 0h1m0 0h1m1 0h1m14 0h1m2 0h1m4 0h1m0 0h1m15 0h1m2 0h1m9 0h1m1 0h1m3 0h1m0 0h1m3 0h1m5 0h1m9 0h1M51 280h1m6 0h1m0 0h1m0 0h1m2 0h1m2 0h1m1 0h1m1 0h1m5 0h1m2 0h1m2 0h1m0 0h1m2 0h1m2 0h1m2 0h1m0 0h1m0 0h1m0 0h1m1 0h1m0 0h1m0 0h1m4 0h1m1 0h1m1 0h1m4 0h1m5 0h1m0 0h1m0 0h1m2 0h1m1 0h1m0 0h1m2 0h1m4 0h1m6 0h1m1 0h1m1 0h1m0 0h1m1 0h1m0 0h1m2 0h1m0 0h1m0 0h1m0 0h1m0 0h1m3 0h1m1 0h1m4 0h1m0 0h1m3 0h1m1 0h1m0 0h1m0 0h1m4 0h1m0 0h1m1 0h1m3 0h1m2 0h1m7 0h1m5 0h1m1 0h1m3 0h1m0 0h1m1 0h1m0 0h1m3 0h1m5 0h1m0 0h1m3 0h1m0 0h1m2 0h1m1 0h1m0 0h1m1 0h1m0 0h1m7 0h1m0 0h1m2 0h1m2 0h1m0 0h1m1 0h1m0 0h1m2 0h1m3 0h1m2 0h1m0 0h1m0 0h1m6 0h1m0 0h1m0 0h1m0 0h1m3 0h1m8 0h1m0 0h1m5 0h1m2 0h1m5 0h1m12 0h1m7 0h1m4 0h1m0 0h1m0 0h1m1 0h1m4 0h1m0 0h1m0 0h1m6 0h1m1 0h1m8 0h1m2 0h1m1 0h1m8 0h1m0 0h1m4 0h1m4 0h1m4 0h1m5 0h1m0 0h1m8 0h1m3 0h1m1 0h1m2 0h1m9 0h1m8 0h1m73 0h1M54 281h1m0 0h1m4 0h1m1 0h1m0 0h1m0 0h1m4 0h1m3 0h1m2 0h1m2 0h1m1 0h1m3 0h1m3 0h1m0 0h1m0 0h1m0 0h1m2 0h1m0 0h1m2 0h1m2 0h1m1 0h1m0 0h1m0 0h1m4 0h1m0 0h1m2 0h1m0 0h1m5 0h1m0 0h1m3 0h1m2 0h1m3 0h1m0 0h1m1 0h1m1 0h1m3 0h1m0 0h1m3 0h1m1 0h1m5 0h1m2 0h1m2 0h1m2 0h1m0 0h1m0 0h1m0 0h1m0 0h1m0 0h1m2 0h1m2 0h1m0 0h1m1 0h1m2 0h1m1 0h1m2 0h1m2 0h1m2 0h1m0 0h1m1 0h1m2 0h1m4 0h1m1 0h1m2 0h1m1 0h1m1 0h1m0 0h1m1 0h1m0 0h1m0 0h1m3 0h1m1 0h1m1 0h1m2 0h1m0 0h1m2 0h1m4 0h1m1 0h1m1 0h1m0 0h1m3 0h1m2 0h1m3 0h1m0 0h1m1 0h1m1 0h1m0 0h1m0 0h1m7 0h1m0 0h1m5 0h1m0 0h1m9 0h1m2 0h1m1 0h1m4 0h1m1 0h1m0 0h1m1 0h1m9 0h1m1 0h1m5 0h1m2 0h1m4 0h1m1 0h1m2 0h1m1 0h1m1 0h1m5 0h1m4 0h1m4 0h1m5 0h1m2 0h1m9 0h1m6 0h1m2 0h1m5 0h1m11 0h1m1 0h1m0 0h1m3 0h1m17 0h1m10 0h1m20 0h1M50 282h1m1 0h1m0 0h1m2 0h1m0 0h1m0 0h1m1 0h1m0 0h1m0 0h1m1 0h1m2 0h1m3 0h1m0 0h1m9 0h1m1 0h1m0 0h1m0 0h1m0 0h1m0 0h1m0 0h1m0 0h1m6 0h1m0 0h1m4 0h1m0 0h1m3 0h1m0 0h1m0 0h1m5 0h1m0 0h1m0 0h1m0 0h1m1 0h1m0 0h1m3 0h1m0 0h1m1 0h1m0 0h1m0 0h1m0 0h1m1 0h1m0 0h1m0 0h1m3 0h1m1 0h1m0 0h1m2 0h1m0 0h1m0 0h1m1 0h1m1 0h1m0 0h1m0 0h1m9 0h1m1 0h1m0 0h1m16 0h1m5 0h1m0 0h1m2 0h1m1 0h1m1 0h1m0 0h1m0 0h1m0 0h1m4 0h1m0 0h1m0 0h1m2 0h1m0 0h1m1 0h1m1 0h1m1 0h1m2 0h1m0 0h1m1 0h1m0 0h1m3 0h1m2 0h1m0 0h1m2 0h1m4 0h1m0 0h1m0 0h1m2 0h1m0 0h1m2 0h1m3 0h1m0 0h1m1 0h1m2 0h1m1 0h1m0 0h1m2 0h1m5 0h1m2 0h1m0 0h1m3 0h1m0 0h1m5 0h1m1 0h1m2 0h1m2 0h1m10 0h1m8 0h1m3 0h1m12 0h1m0 0h1m1 0h1m2 0h1m3 0h1m2 0h1m1 0h1m4 0h1m7 0h1m0 0h1m0 0h1m4 0h1m12 0h1m1 0h1m2 0h1m0 0h1m13 0h1m1 0h1m8 0h1m1 0h1m0 0h1m19 0h1m0 0h1m8 0h1m2 0h1M51 283h1m0 0h1m2 0h1m2 0h1m0 0h1m1 0h1m0 0h1m2 0h1m1 0h1m0 0h1m0 0h1m2 0h1m2 0h1m0 0h1m3 0h1m0 0h1m0 0h1m1 0h1m5 0h1m2 0h1m6 0h1m0 0h1m0 0h1m1 0h1m1 0h1m0 0h1m0 0h1m1 0h1m1 0h1m4 0h1m1 0h1m3 0h1m5 0h1m0 0h1m4 0h1m1 0h1m1 0h1m4 0h1m2 0h1m0 0h1m0 0h1m6 0h1m5 0h1m4 0h1m0 0h1m0 0h1m2 0h1m0 0h1m4 0h1m0 0h1m2 0h1m0 0h1m0 0h1m0 0h1m1 0h1m0 0h1m0 0h1m2 0h1m0 0h1m1 0h1m0 0h1m1 0h1m2 0h1m0 0h1m1 0h1m2 0h1m1 0h1m0 0h1m5 0h1m1 0h1m10 0h1m0 0h1m2 0h1m0 0h1m0 0h1m5 0h1m1 0h1m3 0h1m3 0h1m6 0h1m4 0h1m0 0h1m5 0h1m0 0h1m1 0h1m6 0h1m3 0h1m0 0h1m6 0h1m1 0h1m2 0h1m1 0h1m0 0h1m2 0h1m0 0h1m2 0h1m1 0h1m6 0h1m2 0h1m0 0h1m3 0h1m5 0h1m1 0h1m3 0h1m11 0h1m0 0h1m11 0h1m0 0h1m1 0h1m1 0h1m0 0h1m0 0h1m0 0h1m12 0h1m4 0h1m9 0h1m3 0h1m1 0h1m1 0h1m7 0h1m7 0h1m10 0h1m4 0h1m0 0h1m4 0h1m2 0h1m0 0h1M50 284h1m0 0h1m1 0h1m1 0h1m2 0h1m0 0h1m5 0h1m1 0h1m1 0h1m1 0h1m4 0h1m1 0h1m1 0h1m0 0h1m0 0h1m0 0h1m0 0h1m2 0h1m0 0h1m0 0h1m0 0h1m0 0h1m3 0h1m1 0h1m0 0h1m1 0h1m0 0h1m0 0h1m1 0h1m0 0h1m5 0h1m0 0h1m0 0h1m0 0h1m3 0h1m0 0h1m0 0h1m0 0h1m1 0h1m1 0h1m3 0h1m0 0h1m1 0h1m1 0h1m2 0h1m0 0h1m1 0h1m1 0h1m0 0h1m1 0h1m2 0h1m0 0h1m0 0h1m0 0h1m2 0h1m2 0h1m0 0h1m0 0h1m0 0h1m0 0h1m0 0h1m0 0h1m1 0h1m2 0h1m1 0h1m2 0h1m1 0h1m5 0h1m0 0h1m0 0h1m0 0h1m0 0h1m2 0h1m0 0h1m0 0h1m0 0h1m0 0h1m0 0h1m0 0h1m0 0h1m0 0h1m2 0h1m2 0h1m0 0h1m1 0h1m0 0h1m2 0h1m0 0h1m0 0h1m0 0h1m0 0h1m1 0h1m4 0h1m1 0h1m0 0h1m4 0h1m1 0h1m0 0h1m0 0h1m1 0h1m1 0h1m1 0h1m6 0h1m0 0h1m3 0h1m4 0h1m2 0h1m2 0h1m0 0h1m1 0h1m2 0h1m3 0h1m0 0h1m7 0h1m3 0h1m1 0h1m7 0h1m2 0h1m0 0h1m1 0h1m3 0h1m0 0h1m1 0h1m3 0h1m4 0h1m3 0h1m1 0h1m0 0h1m4 0h1m2 0h1m0 0h1m0 0h1m2 0h1m8 0h1m3 0h1m4 0h1m4 0h1m6 0h1m10 0h1m0 0h1m7 0h1m6 0h1m2 0h1m4 0h1m9 0h1m1 0h1m2 0h1m10 0h1m3 0h1m6 0h1m2 0h1m0 0h1m7 0h1m51 0h1M50 285h1m3 0h1m0 0h1m1 0h1m2 0h1m1 0h1m0 0h1m0 0h1m1 0h1m0 0h1m1 0h1m0 0h1m2 0h1m6 0h1m1 0h1m1 0h1m1 0h1m2 0h1m1 0h1m0 0h1m0 0h1m3 0h1m0 0h1m1 0h1m0 0h1m0 0h1m0 0h1m0 0h1m0 0h1m0 0h1m1 0h1m2 0h1m0 0h1m3 0h1m2 0h1m6 0h1m13 0h1m2 0h1m0 0h1m1 0h1m0 0h1m0 0h1m7 0h1m5 0h1m0 0h1m1 0h1m0 0h1m0 0h1m0 0h1m0 0h1m0 0h1m0 0h1m0 0h1m2 0h1m0 0h1m1 0h1m1 0h1m0 0h1m2 0h1m1 0h1m0 0h1m0 0h1m0 0h1m0 0h1m1 0h1m1 0h1m5 0h1m4 0h1m1 0h1m1 0h1m0 0h1m3 0h1m2 0h1m2 0h1m0 0h1m0 0h1m0 0h1m5 0h1m1 0h1m0 0h1m0 0h1m1 0h1m0 0h1m0 0h1m2 0h1m0 0h1m2 0h1m4 0h1m7 0h1m2 0h1m11 0h1m0 0h1m3 0h1m0 0h1m1 0h1m0 0h1m1 0h1m1 0h1m1 0h1m3 0h1m8 0h1m20 0h1m4 0h1m3 0h1m7 0h1m1 0h1m8 0h1m0 0h1m9 0h1m1 0h1m3 0h1m1 0h1m6 0h1m0 0h1m25 0h1m5 0h1m2 0h1m0 0h1m2 0h1m16 0h1M53 286h1m0 0h1m0 0h1m2 0h1m0 0h1m0 0h1m2 0h1m0 0h1m0 0h1m4 0h1m1 0h1m1 0h1m2 0h1m0 0h1m0 0h1m2 0h1m0 0h1m3 0h1m0 0h1m1 0h1m0 0h1m4 0h1m3 0h1m0 0h1m0 0h1m7 0h1m3 0h1m0 0h1m1 0h1m0 0h1m1 0h1m5 0h1m0 0h1m1 0h1m3 0h1m5 0h1m0 0h1m4 0h1m0 0h1m2 0h1m1 0h1m0 0h1m2 0h1m0 0h1m3 0h1m2 0h1m0 0h1m0 0h1m3 0h1m3 0h1m3 0h1m4 0h1m0 0h1m3 0h1m7 0h1m0 0h1m5 0h1m1 0h1m0 0h1m0 0h1m0 0h1m0 0h1m0 0h1m0 0h1m2 0h1m1 0h1m0 0h1m1 0h1m1 0h1m2 0h1m1 0h1m0 0h1m7 0h1m0 0h1m2 0h1m3 0h1m1 0h1m1 0h1m4 0h1m0 0h1m2 0h1m1 0h1m0 0h1m0 0h1m0 0h1m2 0h1m3 0h1m3 0h1m6 0h1m0 0h1m0 0h1m9 0h1m0 0h1m1 0h1m3 0h1m0 0h1m2 0h1m5 0h1m0 0h1m3 0h1m0 0h1m1 0h1m10 0h1m5 0h1m0 0h1m2 0h1m1 0h1m0 0h1m1 0h1m1 0h1m2 0h1m6 0h1m1 0h1m2 0h1m2 0h1m2 0h1m2 0h1m5 0h1m7 0h1m19 0h1m1 0h1m1 0h1M53 287h1m2 0h1m1 0h1m0 0h1m0 0h1m6 0h1m0 0h1m0 0h1m2 0h1m0 0h1m4 0h1m0 0h1m0 0h1m1 0h1m2 0h1m0 0h1m6 0h1m2 0h1m0 0h1m0 0h1m1 0h1m0 0h1m0 0h1m0 0h1m5 0h1m0 0h1m1 0h1m2 0h1m0 0h1m1 0h1m1 0h1m1 0h1m1 0h1m1 0h1m0 0h1m2 0h1m0 0h1m0 0h1m3 0h1m0 0h1m2 0h1m0 0h1m1 0h1m3 0h1m3 0h1m2 0h1m1 0h1m1 0h1m0 0h1m0 0h1m0 0h1m4 0h1m0 0h1m1 0h1m0 0h1m1 0h1m2 0h1m0 0h1m0 0h1m1 0h1m3 0h1m0 0h1m0 0h1m1 0h1m0 0h1m4 0h1m0 0h1m0 0h1m0 0h1m3 0h1m0 0h1m0 0h1m3 0h1m2 0h1m0 0h1m5 0h1m3 0h1m1 0h1m2 0h1m1 0h1m0 0h1m0 0h1m0 0h1m1 0h1m5 0h1m3 0h1m3 0h1m0 0h1m0 0h1m2 0h1m0 0h1m5 0h1m0 0h1m1 0h1m0 0h1m4 0h1m5 0h1m4 0h1m1 0h1m1 0h1m3 0h1m1 0h1m0 0h1m1 0h1m1 0h1m12 0h1m0 0h1m0 0h1m0 0h1m3 0h1m0 0h1m0 0h1m6 0h1m3 0h1m0 0h1m2 0h1m12 0h1m5 0h1m16 0h1m4 0h1m7 0h1m10 0h1m0 0h1m5 0h1m39 0h1m27 0h1M51 288h1m1 0h1m0 0h1m1 0h1m1 0h1m0 0h1m0 0h1m2 0h1m0 0h1m0 0h1m3 0h1m2 0h1m3 0h1m2 0h1m2 0h1m1 0h1m1 0h1m1 0h1m0 0h1m0 0h1m1 0h1m1 0h1m1 0h1m2 0h1m0 0h1m3 0h1m2 0h1m0 0h1m1 0h1m7 0h1m2 0h1m0 0h1m0 0h1m1 0h1m1 0h1m3 0h1m3 0h1m1 0h1m1 0h1m1 0h1m0 0h1m0 0h1m0 0h1m0 0h1m1 0h1m4 0h1m4 0h1m0 0h1m1 0h1m0 0h1m2 0h1m0 0h1m6 0h1m12 0h1m4 0h1m5 0h1m0 0h1m1 0h1m0 0h1m0 0h1m0 0h1m1 0h1m1 0h1m0 0h1m0 0h1m1 0h1m1 0h1m2 0h1m3 0h1m2 0h1m0 0h1m2 0h1m0 0h1m2 0h1m2 0h1m0 0h1m0 0h1m0 0h1m3 0h1m1 0h1m0 0h1m0 0h1m9 0h1m3 0h1m0 0h1m1 0h1m1 0h1m4 0h1m2 0h1m0 0h1m0 0h1m1 0h1m3 0h1m1 0h1m1 0h1m0 0h1m0 0h1m0 0h1m0 0h1m2 0h1m1 0h1m2 0h1m1 0h1m3 0h1m2 0h1m0 0h1m2 0h1m0 0h1m2 0h1m0 0h1m16 0h1m1 0h1m0 0h1m3 0h1m2 0h1m5 0h1m4 0h1m0 0h1m0 0h1m3 0h1m1 0h1m4 0h1m1 0h1m6 0h1m3 0h1m7 0h1m4 0h1m2 0h1m1 0h1m5 0h1m2 0h1m1 0h1m0 0h1M51 289h1m2 0h1m1 0h1m0 0h1m0 0h1m4 0h1m1 0h1m1 0h1m0 0h1m0 0h1m0 0h1m0 0h1m4 0h1m0 0h1m0 0h1m0 0h1m0 0h1m1 0h1m3 0h1m0 0h1m0 0h1m0 0h1m0 0h1m0 0h1m1 0h1m3 0h1m0 0h1m0 0h1m1 0h1m0 0h1m0 0h1m1 0h1m3 0h1m1 0h1m1 0h1m0 0h1m0 0h1m2 0h1m2 0h1m0 0h1m2 0h1m0 0h1m1 0h1m1 0h1m1 0h1m2 0h1m1 0h1m1 0h1m0 0h1m2 0h1m0 0h1m2 0h1m1 0h1m0 0h1m0 0h1m0 0h1m0 0h1m0 0h1m3 0h1m3 0h1m0 0h1m3 0h1m15 0h1m4 0h1m0 0h1m1 0h1m2 0h1m0 0h1m0 0h1m1 0h1m0 0h1m0 0h1m0 0h1m3 0h1m4 0h1m1 0h1m2 0h1m0 0h1m0 0h1m0 0h1m10 0h1m0 0h1m0 0h1m0 0h1m6 0h1m3 0h1m6 0h1m0 0h1m1 0h1m2 0h1m1 0h1m0 0h1m4 0h1m4 0h1m5 0h1m4 0h1m3 0h1m3 0h1m1 0h1m7 0h1m5 0h1m3 0h1m0 0h1m5 0h1m2 0h1m3 0h1m1 0h1m1 0h1m3 0h1m14 0h1m0 0h1m3 0h1m4 0h1m5 0h1m3 0h1m1 0h1m8 0h1m1 0h1m5 0h1m2 0h1m8 0h1m5 0h1m12 0h1m31 0h1M51 290h1m2 0h1m0 0h1m1 0h1m1 0h1m0 0h1m3 0h1m3 0h1m0 0h1m0 0h1m0 0h1m0 0h1m5 0h1m0 0h1m2 0h1m0 0h1m0 0h1m0 0h1m0 0h1m2 0h1m2 0h1m1 0h1m3 0h1m0 0h1m1 0h1m0 0h1m1 0h1m1 0h1m0 0h1m0 0h1m0 0h1m1 0h1m3 0h1m0 0h1m2 0h1m0 0h1m0 0h1m0 0h1m0 0h1m2 0h1m0 0h1m5 0h1m1 0h1m2 0h1m1 0h1m0 0h1m1 0h1m0 0h1m1 0h1m0 0h1m0 0h1m4 0h1m0 0h1m3 0h1m1 0h1m1 0h1m1 0h1m0 0h1m1 0h1m0 0h1m3 0h1m1 0h1m2 0h1m1 0h1m3 0h1m0 0h1m1 0h1m12 0h1m0 0h1m0 0h1m2 0h1m9 0h1m9 0h1m0 0h1m2 0h1m2 0h1m1 0h1m0 0h1m0 0h1m2 0h1m1 0h1m1 0h1m1 0h1m2 0h1m1 0h1m4 0h1m0 0h1m5 0h1m5 0h1m1 0h1m3 0h1m1 0h1m0 0h1m0 0h1m2 0h1m2 0h1m0 0h1m9 0h1m4 0h1m3 0h1m0 0h1m1 0h1m1 0h1m3 0h1m7 0h1m3 0h1m0 0h1m7 0h1m10 0h1m20 0h1m1 0h1m1 0h1m5 0h1m2 0h1m6 0h1m4 0h1m0 0h1m4 0h1m6 0h1m6 0h1M54 291h1m0 0h1m0 0h1m3 0h1m0 0h1m0 0h1m0 0h1m1 0h1m0 0h1m2 0h1m3 0h1m0 0h1m9 0h1m0 0h1m0 0h1m1 0h1m1 0h1m0 0h1m1 0h1m0 0h1m2 0h1m0 0h1m1 0h1m3 0h1m2 0h1m3 0h1m0 0h1m2 0h1m0 0h1m0 0h1m0 0h1m1 0h1m0 0h1m2 0h1m0 0h1m0 0h1m0 0h1m3 0h1m1 0h1m7 0h1m0 0h1m1 0h1m4 0h1m1 0h1m4 0h1m5 0h1m3 0h1m1 0h1m0 0h1m0 0h1m3 0h1m0 0h1m2 0h1m1 0h1m0 0h1m0 0h1m0 0h1m0 0h1m0 0h1m0 0h1m0 0h1m4 0h1m3 0h1m1 0h1m7 0h1m1 0h1m0 0h1m2 0h1m3 0h1m0 0h1m0 0h1m0 0h1m1 0h1m0 0h1m1 0h1m0 0h1m3 0h1m2 0h1m2 0h1m1 0h1m1 0h1m3 0h1m1 0h1m0 0h1m0 0h1m0 0h1m2 0h1m0 0h1m0 0h1m3 0h1m0 0h1m0 0h1m5 0h1m0 0h1m2 0h1m0 0h1m0 0h1m1 0h1m0 0h1m2 0h1m1 0h1m7 0h1m1 0h1m1 0h1m0 0h1m4 0h1m0 0h1m0 0h1m3 0h1m6 0h1m0 0h1m4 0h1m1 0h1m7 0h1m4 0h1m5 0h1m9 0h1m20 0h1m2 0h1m4 0h1m4 0h1m4 0h1m31 0h1M52 292h1m1 0h1m0 0h1m0 0h1m1 0h1m0 0h1m1 0h1m1 0h1m0 0h1m1 0h1m3 0h1m0 0h1m0 0h1m0 0h1m0 0h1m3 0h1m0 0h1m1 0h1m0 0h1m0 0h1m2 0h1m2 0h1m0 0h1m2 0h1m0 0h1m0 0h1m1 0h1m0 0h1m2 0h1m0 0h1m0 0h1m0 0h1m0 0h1m1 0h1m0 0h1m1 0h1m1 0h1m0 0h1m1 0h1m3 0h1m0 0h1m0 0h1m2 0h1m0 0h1m1 0h1m4 0h1m2 0h1m3 0h1m0 0h1m0 0h1m0 0h1m2 0h1m2 0h1m0 0h1m1 0h1m1 0h1m1 0h1m1 0h1m3 0h1m0 0h1m1 0h1m0 0h1m0 0h1m0 0h1m1 0h1m2 0h1m0 0h1m2 0h1m0 0h1m4 0h1m0 0h1m1 0h1m2 0h1m1 0h1m0 0h1m0 0h1m2 0h1m3 0h1m1 0h1m5 0h1m12 0h1m1 0h1m2 0h1m3 0h1m0 0h1m0 0h1m3 0h1m0 0h1m1 0h1m0 0h1m1 0h1m0 0h1m0 0h1m1 0h1m1 0h1m3 0h1m3 0h1m1 0h1m3 0h1m2 0h1m5 0h1m8 0h1m1 0h1m0 0h1m0 0h1m1 0h1m1 0h1m1 0h1m1 0h1m0 0h1m0 0h1m2 0h1m6 0h1m3 0h1m0 0h1m0 0h1m3 0h1m1 0h1m4 0h1m2 0h1m1 0h1m9 0h1m0 0h1m2 0h1m5 0h1m0 0h1m1 0h1m3 0h1m12 0h1m10 0h1M50 293h1m0 0h1m0 0h1m0 0h1m2 0h1m0 0h1m3 0h1m0 0h1m1 0h1m0 0h1m1 0h1m0 0h1m0 0h1m0 0h1m0 0h1m1 0h1m0 0h1m0 0h1m3 0h1m3 0h1m0 0h1m0 0h1m3 0h1m0 0h1m1 0h1m1 0h1m4 0h1m3 0h1m0 0h1m4 0h1m0 0h1m5 0h1m6 0h1m1 0h1m9 0h1m1 0h1m1 0h1m1 0h1m0 0h1m3 0h1m1 0h1m1 0h1m1 0h1m2 0h1m0 0h1m1 0h1m0 0h1m0 0h1m0 0h1m3 0h1m0 0h1m0 0h1m2 0h1m0 0h1m1 0h1m1 0h1m0 0h1m5 0h1m0 0h1m5 0h1m0 0h1m4 0h1m0 0h1m5 0h1m1 0h1m1 0h1m0 0h1m0 0h1m1 0h1m4 0h1m2 0h1m0 0h1m1 0h1m2 0h1m2 0h1m0 0h1m6 0h1m13 0h1m0 0h1m2 0h1m1 0h1m2 0h1m5 0h1m0 0h1m9 0h1m14 0h1m0 0h1m0 0h1m8 0h1m3 0h1m10 0h1m5 0h1m11 0h1m0 0h1m14 0h1m2 0h1m9 0h1m32 0h1M51 294h1m0 0h1m1 0h1m2 0h1m0 0h1m4 0h1m0 0h1m0 0h1m0 0h1m3 0h1m0 0h1m3 0h1m1 0h1m0 0h1m2 0h1m0 0h1m0 0h1m2 0h1m0 0h1m0 0h1m0 0h1m2 0h1m0 0h1m0 0h1m0 0h1m1 0h1m5 0h1m1 0h1m0 0h1m1 0h1m2 0h1m1 0h1m0 0h1m1 0h1m0 0h1m3 0h1m3 0h1m9 0h1m1 0h1m1 0h1m0 0h1m1 0h1m3 0h1m2 0h1m1 0h1m1 0h1m0 0h1m3 0h1m1 0h1m1 0h1m1 0h1m2 0h1m3 0h1m0 0h1m2 0h1m4 0h1m2 0h1m3 0h1m2 0h1m2 0h1m0 0h1m0 0h1m1 0h1m1 0h1m0 0h1m1 0h1m0 0h1m0 0h1m0 0h1m2 0h1m3 0h1m0 0h1m5 0h1m0 0h1m1 0h1m4 0h1m0 0h1m5 0h1m5 0h1m4 0h1m2 0h1m1 0h1m10 0h1m0 0h1m4 0h1m0 0h1m1 0h1m1 0h1m1 0h1m2 0h1m0 0h1m0 0h1m8 0h1m6 0h1m1 0h1m1 0h1m0 0h1m0 0h1m2 0h1m2 0h1m3 0h1m0 0h1m8 0h1m0 0h1m7 0h1m0 0h1m12 0h1m6 0h1m1 0h1m1 0h1m1 0h1m0 0h1m0 0h1m30 0h1m4 0h1M51 295h1m2 0h1m2 0h1m4 0h1m0 0h1m1 0h1m0 0h1m3 0h1m0 0h1m3 0h1m2 0h1m1 0h1m2 0h1m1 0h1m0 0h1m0 0h1m0 0h1m2 0h1m3 0h1m3 0h1m4 0h1m5 0h1m2 0h1m2 0h1m1 0h1m1 0h1m2 0h1m1 0h1m0 0h1m2 0h1m0 0h1m0 0h1m4 0h1m1 0h1m4 0h1m4 0h1m0 0h1m0 0h1m3 0h1m0 0h1m0 0h1m4 0h1m3 0h1m5 0h1m0 0h1m0 0h1m0 0h1m3 0h1m2 0h1m0 0h1m1 0h1m0 0h1m0 0h1m0 0h1m0 0h1m0 0h1m1 0h1m0 0h1m1 0h1m1 0h1m1 0h1m2 0h1m0 0h1m3 0h1m0 0h1m2 0h1m1 0h1m0 0h1m0 0h1m1 0h1m0 0h1m3 0h1m3 0h1m0 0h1m2 0h1m3 0h1m0 0h1m2 0h1m6 0h1m2 0h1m0 0h1m1 0h1m4 0h1m4 0h1m6 0h1m0 0h1m0 0h1m1 0h1m0 0h1m4 0h1m0 0h1m0 0h1m5 0h1m0 0h1m2 0h1m0 0h1m5 0h1m2 0h1m1 0h1m0 0h1m3 0h1m0 0h1m2 0h1m1 0h1m0 0h1m1 0h1m2 0h1m1 0h1m4 0h1m5 0h1m0 0h1m0 0h1m4 0h1m3 0h1m7 0h1m6 0h1m0 0h1m3 0h1m6 0h1m36 0h1M52 296h1m0 0h1m0 0h1m8 0h1m1 0h1m0 0h1m0 0h1m1 0h1m2 0h1m0 0h1m0 0h1m0 0h1m4 0h1m0 0h1m0 0h1m0 0h1m4 0h1m0 0h1m5 0h1m1 0h1m1 0h1m2 0h1m0 0h1m1 0h1m0 0h1m0 0h1m0 0h1m1 0h1m2 0h1m0 0h1m0 0h1m0 0h1m2 0h1m0 0h1m0 0h1m0 0h1m0 0h1m0 0h1m3 0h1m0 0h1m0 0h1m1 0h1m4 0h1m0 0h1m2 0h1m2 0h1m1 0h1m0 0h1m0 0h1m2 0h1m2 0h1m4 0h1m0 0h1m0 0h1m0 0h1m1 0h1m0 0h1m6 0h1m7 0h1m2 0h1m5 0h1m1 0h1m4 0h1m0 0h1m0 0h1m1 0h1m3 0h1m0 0h1m2 0h1m1 0h1m6 0h1m0 0h1m2 0h1m3 0h1m0 0h1m2 0h1m0 0h1m2 0h1m2 0h1m1 0h1m5 0h1m11 0h1m6 0h1m1 0h1m8 0h1m4 0h1m2 0h1m9 0h1m6 0h1m6 0h1m16 0h1m20 0h1m9 0h1m6 0h1m17 0h1M51 297h1m0 0h1m1 0h1m1 0h1m0 0h1m0 0h1m1 0h1m3 0h1m0 0h1m3 0h1m2 0h1m0 0h1m0 0h1m0 0h1m0 0h1m0 0h1m0 0h1m2 0h1m2 0h1m0 0h1m3 0h1m0 0h1m0 0h1m2 0h1m2 0h1m0 0h1m1 0h1m0 0h1m2 0h1m2 0h1m0 0h1m1 0h1m1 0h1m3 0h1m0 0h1m3 0h1m0 0h1m0 0h1m3 0h1m2 0h1m1 0h1m0 0h1m0 0h1m1 0h1m8 0h1m0 0h1m0 0h1m1 0h1m0 0h1m0 0h1m2 0h1m0 0h1m11 0h1m1 0h1m0 0h1m5 0h1m1 0h1m2 0h1m2 0h1m1 0h1m0 0h1m0 0h1m0 0h1m1 0h1m0 0h1m0 0h1m2 0h1m2 0h1m0 0h1m0 0h1m2 0h1m0 0h1m0 0h1m3 0h1m7 0h1m0 0h1m1 0h1m2 0h1m3 0h1m9 0h1m7 0h1m0 0h1m0 0h1m5 0h1m3 0h1m1 0h1m0 0h1m1 0h1m10 0h1m3 0h1m5 0h1m4 0h1m0 0h1m0 0h1m9 0h1m4 0h1m4 0h1m0 0h1m5 0h1m0 0h1m2 0h1m6 0h1m3 0h1m3 0h1m0 0h1m26 0h1m7 0h1m33 0h1M51 298h1m0 0h1m1 0h1m0 0h1m0 0h1m1 0h1m1 0h1m0 0h1m0 0h1m0 0h1m1 0h1m0 0h1m3 0h1m0 0h1m0 0h1m1 0h1m2 0h1m0 0h1m3 0h1m0 0h1m1 0h1m0 0h1m0 0h1m0 0h1m3 0h1m0 0h1m0 0h1m1 0h1m0 0h1m1 0h1m0 0h1m0 0h1m1 0h1m0 0h1m0 0h1m0 0h1m1 0h1m1 0h1m1 0h1m0 0h1m1 0h1m0 0h1m0 0h1m0 0h1m1 0h1m1 0h1m0 0h1m0 0h1m1 0h1m3 0h1m3 0h1m0 0h1m0 0h1m1 0h1m1 0h1m3 0h1m0 0h1m0 0h1m1 0h1m4 0h1m2 0h1m1 0h1m1 0h1m0 0h1m0 0h1m2 0h1m0 0h1m0 0h1m0 0h1m0 0h1m1 0h1m0 0h1m1 0h1m2 0h1m2 0h1m0 0h1m2 0h1m0 0h1m0 0h1m3 0h1m1 0h1m1 0h1m3 0h1m4 0h1m4 0h1m1 0h1m2 0h1m1 0h1m0 0h1m0 0h1m0 0h1m0 0h1m2 0h1m1 0h1m0 0h1m3 0h1m4 0h1m0 0h1m0 0h1m0 0h1m0 0h1m0 0h1m0 0h1m5 0h1m0 0h1m2 0h1m6 0h1m6 0h1m0 0h1m0 0h1m5 0h1m0 0h1m0 0h1m0 0h1m0 0h1m0 0h1m4 0h1m2 0h1m10 0h1m3 0h1m0 0h1m0 0h1m2 0h1m0 0h1m8 0h1m1 0h1m18 0h1m78 0h1M50 299h1m1 0h1m2 0h1m1 0h1m0 0h1m0 0h1m0 0h1m0 0h1m1 0h1m0 0h1m2 0h1m0 0h1m0 0h1m1 0h1m0 0h1m2 0h1m2 0h1m1 0h1m0 0h1m1 0h1m5 0h1m0 0h1m0 0h1m0 0h1m2 0h1m1 0h1m1 0h1m0 0h1m0 0h1m0 0h1m0 0h1m2 0h1m1 0h1m1 0h1m1 0h1m6 0h1m0 0h1m1 0h1m0 0h1m0 0h1m0 0h1m0 0h1m2 0h1m0 0h1m0 0h1m1 0h1m1 0h1m0 0h1m6 0h1m0 0h1m1 0h1m4 0h1m0 0h1m7 0h1m0 0h1m0 0h1m4 0h1m4 0h1m8 0h1m0 0h1m0 0h1m2 0h1m0 0h1m0 0h1m0 0h1m0 0h1m0 0h1m1 0h1m1 0h1m1 0h1m0 0h1m2 0h1m0 0h1m1 0h1m1 0h1m0 0h1m0 0h1m2 0h1m4 0h1m1 0h1m1 0h1m0 0h1m1 0h1m0 0h1m1 0h1m6 0h1m0 0h1m2 0h1m0 0h1m1 0h1m0 0h1m0 0h1m3 0h1m0 0h1m1 0h1m3 0h1m6 0h1m0 0h1m1 0h1m1 0h1m1 0h1m2 0h1m0 0h1m5 0h1m9 0h1m0 0h1m1 0h1m8 0h1m0 0h1m5 0h1m4 0h1m4 0h1m0 0h1m15 0h1m0 0h1m16 0h1m4 0h1m13 0h1M53 300h1m0 0h1m5 0h1m3 0h1m1 0h1m1 0h1m0 0h1m3 0h1m0 0h1m1 0h1m0 0h1m0 0h1m1 0h1m1 0h1m0 0h1m1 0h1m0 0h1m5 0h1m0 0h1m0 0h1m0 0h1m0 0h1m0 0h1m1 0h1m0 0h1m1 0h1m0 0h1m0 0h1m0 0h1m1 0h1m0 0h1m0 0h1m2 0h1m3 0h1m1 0h1m0 0h1m1 0h1m0 0h1m4 0h1m1 0h1m1 0h1m2 0h1m3 0h1m0 0h1m1 0h1m1 0h1m6 0h1m3 0h1m2 0h1m1 0h1m3 0h1m1 0h1m4 0h1m3 0h1m2 0h1m5 0h1m1 0h1m1 0h1m5 0h1m6 0h1m1 0h1m0 0h1m0 0h1m6 0h1m0 0h1m1 0h1m1 0h1m1 0h1m11 0h1m5 0h1m0 0h1m4 0h1m7 0h1m1 0h1m0 0h1m1 0h1m7 0h1m6 0h1m1 0h1m2 0h1m20 0h1m6 0h1m10 0h1m6 0h1m1 0h1m4 0h1m9 0h1m21 0h1M51 301h1m1 0h1m3 0h1m0 0h1m0 0h1m6 0h1m1 0h1m1 0h1m3 0h1m0 0h1m2 0h1m3 0h1m0 0h1m3 0h1m2 0h1m0 0h1m1 0h1m2 0h1m1 0h1m0 0h1m0 0h1m1 0h1m1 0h1m4 0h1m0 0h1m3 0h1m0 0h1m3 0h1m1 0h1m2 0h1m0 0h1m1 0h1m6 0h1m0 0h1m3 0h1m2 0h1m0 0h1m0 0h1m1 0h1m1 0h1m0 0h1m0 0h1m0 0h1m0 0h1m5 0h1m0 0h1m3 0h1m1 0h1m0 0h1m3 0h1m3 0h1m4 0h1m8 0h1m2 0h1m0 0h1m2 0h1m4 0h1m6 0h1m2 0h1m1 0h1m0 0h1m5 0h1m6 0h1m3 0h1m1 0h1m3 0h1m0 0h1m3 0h1m1 0h1m3 0h1m3 0h1m1 0h1m0 0h1m7 0h1m0 0h1m0 0h1m2 0h1m3 0h1m0 0h1m3 0h1m0 0h1m0 0h1m3 0h1m0 0h1m5 0h1m5 0h1m10 0h1m5 0h1m0 0h1m2 0h1m18 0h1m1 0h1m5 0h1M50 302h1m2 0h1m0 0h1m0 0h1m1 0h1m1 0h1m3 0h1m2 0h1m4 0h1m3 0h1m1 0h1m1 0h1m0 0h1m0 0h1m1 0h1m9 0h1m0 0h1m0 0h1m1 0h1m2 0h1m0 0h1m0 0h1m0 0h1m0 0h1m1 0h1m2 0h1m0 0h1m0 0h1m0 0h1m1 0h1m0 0h1m1 0h1m0 0h1m1 0h1m4 0h1m2 0h1m0 0h1m2 0h1m1 0h1m1 0h1m2 0h1m1 0h1m3 0h1m0 0h1m0 0h1m0 0h1m0 0h1m0 0h1m1 0h1m0 0h1m0 0h1m1 0h1m1 0h1m0 0h1m4 0h1m2 0h1m0 0h1m0 0h1m2 0h1m7 0h1m1 0h1m7 0h1m1 0h1m2 0h1m2 0h1m1 0h1m1 0h1m0 0h1m4 0h1m1 0h1m5 0h1m1 0h1m2 0h1m6 0h1m0 0h1m4 0h1m14 0h1m0 0h1m0 0h1m2 0h1m4 0h1m0 0h1m3 0h1m1 0h1m9 0h1m3 0h1m6 0h1m0 0h1m11 0h1m0 0h1m1 0h1M57 303h1m2 0h1m0 0h1m0 0h1m4 0h1m4 0h1m0 0h1m0 0h1m0 0h1m2 0h1m0 0h1m1 0h1m1 0h1m0 0h1m0 0h1m1 0h1m1 0h1m0 0h1m3 0h1m0 0h1m1 0h1m0 0h1m0 0h1m0 0h1m0 0h1m1 0h1m0 0h1m0 0h1m3 0h1m0 0h1m2 0h1m0 0h1m1 0h1m1 0h1m0 0h1m1 0h1m0 0h1m0 0h1m0 0h1m0 0h1m2 0h1m0 0h1m0 0h1m0 0h1m0 0h1m0 0h1m0 0h1m5 0h1m0 0h1m1 0h1m0 0h1m0 0h1m0 0h1m0 0h1m1 0h1m3 0h1m1 0h1m0 0h1m2 0h1m0 0h1m0 0h1m4 0h1m5 0h1m6 0h1m1 0h1m0 0h1m1 0h1m3 0h1m1 0h1m1 0h1m0 0h1m2 0h1m0 0h1m0 0h1m2 0h1m6 0h1m2 0h1m2 0h1m2 0h1m1 0h1m1 0h1m3 0h1m2 0h1m4 0h1m1 0h1m3 0h1m0 0h1m0 0h1m0 0h1m5 0h1m0 0h1m2 0h1m5 0h1m1 0h1m1 0h1m0 0h1m1 0h1m4 0h1m3 0h1m16 0h1m3 0h1m1 0h1m10 0h1m10 0h1m2 0h1m6 0h1m3 0h1M52 304h1m0 0h1m0 0h1m2 0h1m0 0h1m0 0h1m0 0h1m0 0h1m1 0h1m1 0h1m0 0h1m1 0h1m0 0h1m8 0h1m0 0h1m2 0h1m0 0h1m1 0h1m0 0h1m0 0h1m0 0h1m0 0h1m1 0h1m4 0h1m2 0h1m1 0h1m4 0h1m0 0h1m0 0h1m0 0h1m0 0h1m0 0h1m1 0h1m0 0h1m4 0h1m4 0h1m1 0h1m0 0h1m2 0h1m0 0h1m5 0h1m0 0h1m1 0h1m6 0h1m1 0h1m2 0h1m0 0h1m3 0h1m0 0h1m0 0h1m0 0h1m0 0h1m1 0h1m1 0h1m0 0h1m1 0h1m6 0h1m2 0h1m1 0h1m0 0h1m0 0h1m0 0h1m0 0h1m0 0h1m1 0h1m1 0h1m2 0h1m6 0h1m0 0h1m1 0h1m4 0h1m2 0h1m1 0h1m0 0h1m1 0h1m2 0h1m0 0h1m2 0h1m5 0h1m6 0h1m4 0h1m1 0h1m29 0h1m3 0h1m0 0h1m29 0h1m0 0h1M54 305h1m1 0h1m1 0h1m2 0h1m0 0h1m0 0h1m3 0h1m0 0h1m0 0h1m0 0h1m0 0h1m3 0h1m2 0h1m1 0h1m1 0h1m2 0h1m0 0h1m4 0h1m0 0h1m0 0h1m1 0h1m0 0h1m0 0h1m1 0h1m1 0h1m0 0h1m0 0h1m1 0h1m0 0h1m0 0h1m3 0h1m0 0h1m2 0h1m1 0h1m0 0h1m0 0h1m0 0h1m0 0h1m2 0h1m3 0h1m0 0h1m0 0h1m0 0h1m0 0h1m1 0h1m1 0h1m0 0h1m10 0h1m3 0h1m0 0h1m0 0h1m0 0h1m1 0h1m0 0h1m3 0h1m2 0h1m0 0h1m4 0h1m0 0h1m2 0h1m0 0h1m3 0h1m0 0h1m3 0h1m3 0h1m0 0h1m2 0h1m4 0h1m1 0h1m3 0h1m3 0h1m1 0h1m0 0h1m2 0h1m1 0h1m0 0h1m3 0h1m6 0h1m1 0h1m7 0h1m0 0h1m26 0h1m0 0h1m2 0h1m3 0h1m7 0h1m19 0h1m1 0h1M50 306h1m0 0h1m3 0h1m0 0h1m3 0h1m0 0h1m1 0h1m1 0h1m0 0h1m1 0h1m1 0h1m2 0h1m1 0h1m0 0h1m1 0h1m3 0h1m0 0h1m1 0h1m4 0h1m0 0h1m0 0h1m1 0h1m1 0h1m2 0h1m0 0h1m1 0h1m0 0h1m13 0h1m0 0h1m3 0h1m1 0h1m0 0h1m1 0h1m0 0h1m1 0h1m1 0h1m1 0h1m2 0h1m0 0h1m4 0h1m0 0h1m5 0h1m1 0h1m0 0h1m2 0h1m0 0h1m0 0h1m0 0h1m0 0h1m8 0h1m3 0h1m0 0h1m0 0h1m0 0h1m0 0h1m0 0h1m4 0h1m0 0h1m3 0h1m0 0h1m0 0h1m1 0h1m2 0h1m2 0h1m0 0h1m0 0h1m1 0h1m1 0h1m7 0h1m3 0h1m0 0h1m2 0h1m4 0h1m0 0h1m7 0h1m0 0h1m6 0h1m2 0h1m21 0h1m4 0h1m3 0h1m9 0h1m12 0h1m2 0h1m8 0h1M50 307h1m1 0h1m0 0h1m0 0h1m3 0h1m1 0h1m2 0h1m2 0h1m1 0h1m1 0h1m4 0h1m0 0h1m0 0h1m2 0h1m2 0h1m4 0h1m1 0h1m0 0h1m0 0h1m0 0h1m0 0h1m0 0h1m1 0h1m2 0h1m4 0h1m3 0h1m2 0h1m5 0h1m0 0h1m0 0h1m2 0h1m0 0h1m1 0h1m0 0h1m0 0h1m0 0h1m0 0h1m0 0h1m0 0h1m1 0h1m5 0h1m1 0h1m2 0h1m0 0h1m1 0h1m1 0h1m0 0h1m1 0h1m2 0h1m1 0h1m0 0h1m3 0h1m1 0h1m0 0h1m0 0h1m0 0h1m5 0h1m9 0h1m0 0h1m1 0h1m1 0h1m0 0h1m3 0h1m4 0h1m2 0h1m0 0h1m0 0h1m5 0h1m0 0h1m1 0h1m4 0h1m13 0h1m17 0h1m0 0h1m0 0h1m9 0h1m4 0h1m5 0h1m6 0h1m18 0h1m2 0h1m2 0h1M58 308h1m0 0h1m1 0h1m1 0h1m3 0h1m0 0h1m0 0h1m1 0h1m1 0h1m1 0h1m1 0h1m0 0h1m0 0h1m0 0h1m1 0h1m6 0h1m0 0h1m0 0h1m0 0h1m2 0h1m0 0h1m0 0h1m4 0h1m0 0h1m0 0h1m2 0h1m0 0h1m3 0h1m0 0h1m0 0h1m1 0h1m3 0h1m0 0h1m2 0h1m2 0h1m0 0h1m1 0h1m1 0h1m3 0h1m2 0h1m0 0h1m0 0h1m1 0h1m0 0h1m0 0h1m0 0h1m0 0h1m0 0h1m3 0h1m0 0h1m0 0h1m0 0h1m9 0h1m0 0h1m0 0h1m0 0h1m0 0h1m0 0h1m0 0h1m2 0h1m0 0h1m2 0h1m1 0h1m4 0h1m2 0h1m2 0h1m0 0h1m1 0h1m1 0h1m1 0h1m1 0h1m3 0h1m2 0h1m2 0h1m0 0h1m4 0h1m25 0h1m3 0h1m1 0h1m8 0h1m11 0h1m2 0h1m7 0h1m1 0h1m2 0h1m4 0h1m14 0h1M50 309h1m5 0h1m5 0h1m4 0h1m0 0h1m1 0h1m2 0h1m0 0h1m4 0h1m3 0h1m2 0h1m0 0h1m4 0h1m0 0h1m1 0h1m4 0h1m0 0h1m0 0h1m0 0h1m5 0h1m2 0h1m0 0h1m2 0h1m0 0h1m0 0h1m3 0h1m0 0h1m0 0h1m3 0h1m1 0h1m0 0h1m3 0h1m0 0h1m0 0h1m1 0h1m2 0h1m0 0h1m0 0h1m5 0h1m10 0h1m0 0h1m0 0h1m9 0h1m0 0h1m4 0h1m0 0h1m1 0h1m1 0h1m8 0h1m6 0h1m0 0h1m2 0h1m0 0h1m1 0h1m4 0h1m7 0h1m0 0h1m5 0h1m7 0h1m6 0h1m23 0h1m0 0h1m23 0h1M51 310h1m0 0h1m2 0h1m1 0h1m1 0h1m1 0h1m0 0h1m4 0h1m2 0h1m2 0h1m2 0h1m1 0h1m1 0h1m0 0h1m1 0h1m1 0h1m5 0h1m1 0h1m2 0h1m0 0h1m0 0h1m1 0h1m1 0h1m2 0h1m1 0h1m1 0h1m0 0h1m2 0h1m0 0h1m2 0h1m1 0h1m0 0h1m3 0h1m0 0h1m0 0h1m2 0h1m0 0h1m0 0h1m0 0h1m0 0h1m1 0h1m8 0h1m2 0h1m0 0h1m0 0h1m1 0h1m0 0h1m3 0h1m0 0h1m0 0h1m0 0h1m3 0h1m0 0h1m0 0h1m0 0h1m1 0h1m2 0h1m1 0h1m3 0h1m3 0h1m3 0h1m2 0h1m2 0h1m0 0h1m10 0h1m4 0h1m0 0h1m3 0h1m6 0h1m6 0h1m3 0h1m8 0h1m0 0h1m1 0h1m1 0h1m8 0h1m22 0h1m5 0h1M50 311h1m4 0h1m0 0h1m2 0h1m1 0h1m1 0h1m3 0h1m0 0h1m0 0h1m1 0h1m0 0h1m0 0h1m2 0h1m0 0h1m2 0h1m0 0h1m1 0h1m0 0h1m1 0h1m6 0h1m1 0h1m0 0h1m0 0h1m0 0h1m0 0h1m1 0h1m2 0h1m2 0h1m0 0h1m0 0h1m1 0h1m0 0h1m0 0h1m0 0h1m1 0h1m0 0h1m1 0h1m4 0h1m5 0h1m1 0h1m3 0h1m2 0h1m1 0h1m1 0h1m0 0h1m0 0h1m2 0h1m2 0h1m4 0h1m6 0h1m1 0h1m0 0h1m1 0h1m0 0h1m2 0h1m5 0h1m6 0h1m1 0h1m1 0h1m0 0h1m5 0h1m7 0h1m8 0h1m4 0h1m2 0h1m14 0h1m1 0h1m6 0h1m3 0h1m3 0h1m24 0h1M51 312h1m6 0h1m1 0h1m11 0h1m0 0h1m1 0h1m0 0h1m1 0h1m0 0h1m0 0h1m1 0h1m3 0h1m0 0h1m0 0h1m0 0h1m0 0h1m0 0h1m0 0h1m0 0h1m4 0h1m0 0h1m2 0h1m0 0h1m1 0h1m2 0h1m1 0h1m1 0h1m0 0h1m3 0h1m3 0h1m2 0h1m0 0h1m0 0h1m2 0h1m4 0h1m3 0h1m1 0h1m2 0h1m0 0h1m3 0h1m0 0h1m0 0h1m1 0h1m0 0h1m1 0h1m2 0h1m3 0h1m1 0h1m0 0h1m0 0h1m0 0h1m1 0h1m0 0h1m2 0h1m0 0h1m0 0h1m1 0h1m0 0h1m1 0h1m1 0h1m1 0h1m1 0h1m2 0h1m2 0h1m3 0h1m1 0h1m15 0h1m2 0h1m2 0h1m1 0h1m6 0h1m3 0h1m6 0h1m8 0h1m5 0h1m0 0h1M50 313h1m1 0h1m2 0h1m0 0h1m4 0h1m0 0h1m0 0h1m0 0h1m0 0h1m4 0h1m0 0h1m0 0h1m0 0h1m0 0h1m2 0h1m0 0h1m1 0h1m0 0h1m2 0h1m1 0h1m2 0h1m2 0h1m2 0h1m0 0h1m1 0h1m0 0h1m0 0h1m0 0h1m0 0h1m4 0h1m0 0h1m2 0h1m0 0h1m1 0h1m1 0h1m1 0h1m3 0h1m2 0h1m0 0h1m0 0h1m0 0h1m0 0h1m2 0h1m4 0h1m2 0h1m0 0h1m0 0h1m4 0h1m2 0h1m0 0h1m0 0h1m1 0h1m1 0h1m0 0h1m6 0h1m1 0h1m0 0h1m0 0h1m0 0h1m1 0h1m5 0h1m0 0h1m0 0h1m8 0h1m0 0h1m3 0h1m0 0h1m1 0h1m0 0h1m0 0h1m2 0h1m3 0h1m1 0h1m5 0h1m0 0h1m0 0h1m0 0h1m2 0h1m1 0h1m42 0h1M52 314h1m0 0h1m0 0h1m1 0h1m0 0h1m5 0h1m0 0h1m2 0h1m0 0h1m0 0h1m1 0h1m0 0h1m0 0h1m0 0h1m1 0h1m0 0h1m0 0h1m0 0h1m0 0h1m2 0h1m0 0h1m3 0h1m1 0h1m2 0h1m3 0h1m1 0h1m1 0h1m1 0h1m1 0h1m0 0h1m1 0h1m0 0h1m1 0h1m1 0h1m0 0h1m1 0h1m1 0h1m3 0h1m1 0h1m0 0h1m1 0h1m3 0h1m0 0h1m0 0h1m4 0h1m1 0h1m0 0h1m0 0h1m1 0h1m1 0h1m1 0h1m2 0h1m1 0h1m7 0h1m2 0h1m0 0h1m1 0h1m4 0h1m0 0h1m0 0h1m2 0h1m4 0h1m14 0h1m4 0h1m0 0h1m0 0h1m3 0h1m4 0h1m0 0h1m2 0h1m3 0h1m17 0h1m0 0h1M50 315h1m2 0h1m0 0h1m2 0h1m0 0h1m2 0h1m0 0h1m1 0h1m1 0h1m0 0h1m1 0h1m3 0h1m0 0h1m0 0h1m4 0h1m2 0h1m0 0h1m2 0h1m5 0h1m0 0h1m2 0h1m0 0h1m0 0h1m2 0h1m3 0h1m1 0h1m2 0h1m0 0h1m2 0h1m1 0h1m1 0h1m0 0h1m1 0h1m2 0h1m0 0h1m3 0h1m3 0h1m7 0h1m1 0h1m1 0h1m1 0h1m2 0h1m2 0h1m4 0h1m4 0h1m2 0h1m0 0h1m1 0h1m0 0h1m3 0h1m1 0h1m0 0h1m2 0h1m0 0h1m6 0h1m7 0h1m1 0h1m10 0h1m0 0h1m0 0h1m0 0h1m10 0h1m8 0h1m47 0h1M50 316h1m4 0h1m0 0h1m0 0h1m0 0h1m0 0h1m0 0h1m0 0h1m1 0h1m0 0h1m1 0h1m1 0h1m7 0h1m1 0h1m1 0h1m0 0h1m4 0h1m2 0h1m0 0h1m3 0h1m3 0h1m2 0h1m4 0h1m4 0h1m0 0h1m0 0h1m2 0h1m1 0h1m1 0h1m1 0h1m0 0h1m1 0h1m2 0h1m1 0h1m1 0h1m2 0h1m2 0h1m0 0h1m3 0h1m0 0h1m1 0h1m1 0h1m1 0h1m0 0h1m2 0h1m0 0h1m1 0h1m6 0h1m1 0h1m1 0h1m1 0h1m0 0h1m1 0h1m1 0h1m0 0h1m0 0h1m0 0h1m2 0h1m1 0h1m3 0h1m7 0h1m0 0h1m6 0h1m13 0h1m3 0h1m9 0h1M51 317h1m1 0h1m1 0h1m1 0h1m3 0h1m4 0h1m1 0h1m0 0h1m3 0h1m1 0h1m0 0h1m0 0h1m0 0h1m0 0h1m0 0h1m2 0h1m1 0h1m0 0h1m1 0h1m1 0h1m0 0h1m1 0h1m2 0h1m0 0h1m0 0h1m3 0h1m0 0h1m3 0h1m0 0h1m1 0h1m0 0h1m1 0h1m0 0h1m0 0h1m1 0h1m1 0h1m2 0h1m0 0h1m0 0h1m1 0h1m1 0h1m2 0h1m1 0h1m3 0h1m0 0h1m0 0h1m1 0h1m0 0h1m0 0h1m2 0h1m0 0h1m3 0h1m2 0h1m1 0h1m0 0h1m2 0h1m1 0h1m2 0h1m3 0h1m4 0h1m3 0h1m11 0h1m1 0h1m4 0h1m0 0h1m12 0h1m2 0h1m25 0h1m15 0h1M50 318h1m1 0h1m2 0h1m1 0h1m0 0h1m1 0h1m1 0h1m3 0h1m1 0h1m0 0h1m0 0h1m2 0h1m0 0h1m0 0h1m0 0h1m0 0h1m0 0h1m0 0h1m1 0h1m0 0h1m3 0h1m0 0h1m2 0h1m1 0h1m0 0h1m1 0h1m0 0h1m3 0h1m2 0h1m4 0h1m0 0h1m1 0h1m2 0h1m0 0h1m0 0h1m5 0h1m0 0h1m0 0h1m1 0h1m1 0h1m0 0h1m0 0h1m1 0h1m2 0h1m1 0h1m1 0h1m0 0h1m0 0h1m2 0h1m1 0h1m1 0h1m1 0h1m0 0h1m2 0h1m3 0h1m1 0h1m5 0h1m6 0h1m18 0h1M53 319h1m3 0h1m0 0h1m0 0h1m1 0h1m0 0h1m4 0h1m0 0h1m0 0h1m0 0h1m0 0h1m0 0h1m1 0h1m4 0h1m0 0h1m0 0h1m0 0h1m0 0h1m1 0h1m1 0h1m0 0h1m0 0h1m3 0h1m2 0h1m0 0h1m2 0h1m1 0h1m2 0h1m0 0h1m0 0h1m2 0h1m0 0h1m1 0h1m0 0h1m2 0h1m0 0h1m0 0h1m0 0h1m6 0h1m1 0h1m1 0h1m0 0h1m0 0h1m0 0h1m0 0h1m2 0h1m2 0h1m0 0h1m0 0h1m0 0h1m4 0h1m5 0h1m5 0h1m0 0h1m0 0h1m6 0h1m2 0h1m3 0h1m5 0h1m1 0h1m1 0h1m3 0h1m10 0h1m8 0h1m8 0h1M50 320h1m1 0h1m0 0h1m1 0h1m0 0h1m4 0h1m0 0h1m2 0h1m1 0h1m0 0h1m0 0h1m1 0h1m0 0h1m2 0h1m0 0h1m2 0h1m2 0h1m0 0h1m6 0h1m0 0h1m0 0h1m1 0h1m1 0h1m0 0h1m0 0h1m0 0h1m1 0h1m5 0h1m0 0h1m0 0h1m2 0h1m2 0h1m1 0h1m0 0h1m1 0h1m0 0h1m0 0h1m4 0h1m0 0h1m0 0h1m1 0h1m0 0h1m0 0h1m0 0h1m2 0h1m1 0h1m2 0h1m3 0h1m0 0h1m4 0h1m3 0h1m1 0h1m10 0h1m2 0h1m0 0h1m3 0h1m0 0h1m4 0h1m1 0h1m1 0h1m7 0h1m6 0h1m9 0h1m9 0h1M50 321h1m2 0h1m1 0h1m2 0h1m1 0h1m1 0h1m1 0h1m2 0h1m0 0h1m0 0h1m3 0h1m0 0h1m1 0h1m0 0h1m2 0h1m2 0h1m1 0h1m0 0h1m0 0h1m0 0h1m1 0h1m1 0h1m0 0h1m0 0h1m6 0h1m0 0h1m2 0h1m0 0h1m0 0h1m2 0h1m1 0h1m1 0h1m0 0h1m0 0h1m2 0h1m0 0h1m0 0h1m2 0h1m0 0h1m0 0h1m0 0h1m0 0h1m3 0h1m3 0h1m6 0h1m11 0h1m0 0h1m3 0h1m2 0h1m5 0h1m0 0h1M50 322h1m0 0h1m2 0h1m2 0h1m0 0h1m0 0h1m2 0h1m0 0h1m0 0h1m0 0h1m0 0h1m5 0h1m0 0h1m2 0h1m0 0h1m1 0h1m0 0h1m0 0h1m0 0h1m0 0h1m0 0h1m5 0h1m0 0h1m0 0h1m0 0h1m1 0h1m3 0h1m0 0h1m9 0h1m2 0h1m0 0h1m0 0h1m1 0h1m0 0h1m0 0h1m2 0h1m3 0h1m5 0h1m0 0h1m4 0h1m0 0h1m4 0h1m2 0h1m6 0h1m1 0h1m1 0h1m2 0h1m1 0h1m0 0h1m2 0h1m2 0h1m3 0h1m3 0h1m6 0h1m21 0h1m30 0h1M50 323h1m1 0h1m1 0h1m0 0h1m0 0h1m0 0h1m1 0h1m0 0h1m0 0h1m1 0h1m0 0h1m0 0h1m0 0h1m0 0h1m0 0h1m2 0h1m0 0h1m0 0h1m0 0h1m2 0h1m0 0h1m1 0h1m3 0h1m0 0h1m3 0h1m2 0h1m1 0h1m0 0h1m0 0h1m3 0h1m2 0h1m1 0h1m0 0h1m0 0h1m0 0h1m2 0h1m1 0h1m2 0h1m0 0h1m0 0h1m0 0h1m3 0h1m0 0h1m1 0h1m0 0h1m3 0h1m0 0h1m1 0h1m2 0h1m0 0h1m0 0h1m1 0h1m2 0h1m3 0h1m0 0h1m4 0h1m12 0h1m4 0h1m13 0h1m1 0h1m3 0h1M51 324h1m0 0h1m1 0h1m1 0h1m0 0h1m10 0h1m1 0h1m2 0h1m0 0h1m0 0h1m1 0h1m0 0h1m1 0h1m0 0h1m0 0h1m3 0h1m0 0h1m1 0h1m4 0h1m0 0h1m1 0h1m0 0h1m0 0h1m4 0h1m0 0h1m1 0h1m0 0h1m0 0h1m0 0h1m0 0h1m2 0h1m0 0h1m0 0h1m0 0h1m0 0h1m2 0h1m1 0h1m1 0h1m3 0h1m2 0h1m1 0h1m0 0h1m2 0h1m1 0h1m2 0h1m0 0h1m1 0h1m5 0h1m3 0h1m10 0h1m0 0h1m9 0h1m5 0h1M51 325h1m0 0h1m2 0h1m0 0h1m0 0h1m5 0h1m0 0h1m0 0h1m0 0h1m0 0h1m0 0h1m0 0h1m1 0h1m5 0h1m0 0h1m4 0h1m6 0h1m1 0h1m3 0h1m0 0h1m2 0h1m0 0h1m3 0h1m1 0h1m0 0h1m5 0h1m2 0h1m0 0h1m1 0h1m0 0h1m3 0h1m0 0h1m2 0h1m1 0h1m8 0h1m1 0h1m0 0h1m0 0h1m5 0h1m3 0h1m0 0h1m0 0h1m1 0h1m0 0h1m2 0h1m6 0h1m41 0h1M50 326h1m0 0h1m1 0h1m5 0h1m0 0h1m3 0h1m0 0h1m1 0h1m2 0h1m0 0h1m0 0h1m0 0h1m0 0h1m4 0h1m0 0h1m0 0h1m0 0h1m3 0h1m0 0h1m0 0h1m2 0h1m1 0h1m0 0h1m1 0h1m0 0h1m5 0h1m0 0h1m4 0h1m0 0h1m9 0h1m0 0h1m1 0h1m1 0h1m0 0h1m1 0h1m10 0h1m1 0h1m0 0h1m0 0h1m3 0h1m1 0h1m1 0h1m10 0h1m2 0h1M54 327h1m3 0h1m0 0h1m2 0h1m2 0h1m2 0h1m0 0h1m3 0h1m3 0h1m0 0h1m1 0h1m2 0h1m3 0h1m1 0h1m2 0h1m0 0h1m1 0h1m6 0h1m3 0h1m6 0h1m1 0h1m0 0h1m1 0h1m0 0h1m4 0h1m0 0h1m1 0h1m0 0h1m2 0h1m0 0h1m3 0h1m5 0h1m3 0h1m3 0h1m27 0h1M50 328h1m3 0h1m1 0h1m6 0h1m1 0h1m0 0h1m1 0h1m0 0h1m0 0h1m0 0h1m2 0h1m5 0h1m0 0h1m0 0h1m1 0h1m1 0h1m3 0h1m3 0h1m0 0h1m0 0h1m3 0h1m2 0h1m0 0h1m2 0h1m1 0h1m2 0h1m1 0h1m1 0h1m0 0h1m1 0h1m0 0h1m4 0h1m0 0h1m1 0h1m0 0h1m6 0h1m2 0h1m0 0h1m4 0h1m3 0h1m5 0h1m46 0h1M50 329h1m3 0h1m4 0h1m1 0h1m4 0h1m1 0h1m2 0h1m1 0h1m0 0h1m2 0h1m0 0h1m0 0h1m0 0h1m0 0h1m0 0h1m5 0h1m0 0h1m2 0h1m0 0h1m0 0h1m2 0h1m0 0h1m1 0h1m1 0h1m1 0h1m0 0h1m0 0h1m0 0h1m0 0h1m0 0h1m0 0h1m0 0h1m3 0h1m2 0h1m1 0h1m0 0h1m0 0h1m3 0h1m8 0h1m12 0h1m29 0h1M54 330h1m0 0h1m0 0h1m0 0h1m0 0h1m0 0h1m0 0h1m2 0h1m2 0h1m1 0h1m0 0h1m5 0h1m0 0h1m1 0h1m2 0h1m5 0h1m3 0h1m0 0h1m0 0h1m0 0h1m0 0h1m1 0h1m2 0h1m6 0h1m1 0h1m0 0h1m1 0h1m2 0h1m2 0h1m0 0h1m0 0h1m1 0h1m9 0h1m8 0h1m38 0h1M55 331h1m0 0h1m9 0h1m0 0h1m0 0h1m2 0h1m1 0h1m0 0h1m0 0h1m0 0h1m0 0h1m0 0h1m1 0h1m5 0h1m5 0h1m0 0h1m0 0h1m0 0h1m0 0h1m0 0h1m1 0h1m0 0h1m1 0h1m0 0h1m1 0h1m4 0h1m6 0h1m6 0h1m3 0h1m2 0h1m0 0h1m5 0h1m4 0h1M50 332h1m0 0h1m1 0h1m1 0h1m3 0h1m1 0h1m1 0h1m0 0h1m4 0h1m1 0h1m4 0h1m3 0h1m2 0h1m1 0h1m0 0h1m0 0h1m0 0h1m5 0h1m2 0h1m1 0h1m1 0h1m5 0h1m4 0h1m5 0h1m0 0h1m1 0h1m2 0h1m5 0h1m3 0h1m11 0h1m0 0h1M55 333h1m0 0h1m1 0h1m0 0h1m2 0h1m0 0h1m1 0h1m0 0h1m3 0h1m2 0h1m1 0h1m0 0h1m0 0h1m0 0h1m0 0h1m1 0h1m0 0h1m3 0h1m3 0h1m3 0h1m0 0h1m2 0h1m1 0h1m0 0h1m4 0h1m1 0h1m1 0h1m0 0h1m2 0h1m0 0h1m0 0h1m0 0h1m0 0h1m0 0h1m2 0h1m2 0h1m1 0h1m0 0h1m5 0h1m0 0h1m45 0h1M51 334h1m2 0h1m0 0h1m0 0h1m0 0h1m1 0h1m2 0h1m1 0h1m2 0h1m1 0h1m2 0h1m0 0h1m1 0h1m1 0h1m0 0h1m0 0h1m3 0h1m0 0h1m0 0h1m1 0h1m2 0h1m0 0h1m2 0h1m0 0h1m0 0h1m3 0h1m24 0h1m2 0h1m0 0h1M52 335h1m0 0h1m1 0h1m0 0h1m1 0h1m1 0h1m0 0h1m1 0h1m0 0h1m1 0h1m0 0h1m2 0h1m0 0h1m1 0h1m1 0h1m1 0h1m0 0h1m3 0h1m1 0h1m0 0h1m2 0h1m1 0h1m2 0h1m0 0h1m2 0h1m3 0h1m5 0h1m3 0h1m1 0h1m10 0h1m0 0h1m7 0h1M50 336h1m5 0h1m2 0h1m4 0h1m2 0h1m0 0h1m3 0h1m1 0h1m0 0h1m0 0h1m0 0h1m0 0h1m4 0h1m1 0h1m1 0h1m1 0h1m0 0h1m0 0h1m0 0h1m0 0h1m2 0h1m1 0h1m0 0h1m0 0h1m1 0h1m2 0h1m3 0h1m1 0h1m2 0h1m1 0h1m4 0h1m14 0h1M50 337h1m1 0h1m0 0h1m0 0h1m2 0h1m1 0h1m2 0h1m0 0h1m3 0h1m0 0h1m1 0h1m2 0h1m1 0h1m1 0h1m0 0h1m4 0h1m0 0h1m0 0h1m1 0h1m0 0h1m0 0h1m1 0h1m0 0h1m0 0h1m0 0h1m2 0h1m1 0h1m1 0h1m4 0h1m9 0h1m3 0h1m0 0h1m1 0h1m0 0h1m0 0h1m6 0h1M51 338h1m3 0h1m4 0h1m0 0h1m5 0h1m3 0h1m2 0h1m0 0h1m1 0h1m0 0h1m3 0h1m2 0h1m1 0h1m0 0h1m1 0h1m5 0h1m6 0h1m1 0h1m1 0h1m0 0h1m11 0h1m1 0h1M50 339h1m2 0h1m0 0h1m0 0h1m1 0h1m3 0h1m1 0h1m0 0h1m3 0h1m2 0h1m2 0h1m0 0h1m0 0h1m0 0h1m0 0h1m0 0h1m4 0h1m0 0h1m3 0h1m1 0h1m1 0h1m0 0h1m6 0h1m2 0h1m5 0h1m5 0h1m1 0h1m4 0h1m72 0h1M50 340h1m0 0h1m2 0h1m0 0h1m1 0h1m2 0h1m0 0h1m2 0h1m0 0h1m0 0h1m0 0h1m3 0h1m0 0h1m0 0h1m0 0h1m1 0h1m0 0h1m0 0h1m9 0h1m1 0h1m1 0h1m3 0h1m7 0h1m8 0h1m25 0h1M50 341h1m1 0h1m2 0h1m1 0h1m1 0h1m1 0h1m2 0h1m1 0h1m2 0h1m0 0h1m1 0h1m0 0h1m1 0h1m0 0h1m0 0h1m0 0h1m0 0h1m0 0h1m9 0h1m1 0h1m0 0h1m7 0h1m2 0h1m1 0h1m6 0h1M51 342h1m2 0h1m4 0h1m0 0h1m2 0h1m1 0h1m0 0h1m3 0h1m1 0h1m1 0h1m3 0h1m1 0h1m0 0h1m4 0h1m1 0h1m0 0h1m0 0h1m0 0h1m0 0h1m4 0h1m0 0h1m3 0h1m0 0h1M50 343h1m0 0h1m2 0h1m0 0h1m1 0h1m0 0h1m0 0h1m4 0h1m0 0h1m2 0h1m0 0h1m0 0h1m3 0h1m0 0h1m0 0h1m3 0h1m1 0h1m16 0h1m10 0h1M51 344h1m1 0h1m0 0h1m2 0h1m0 0h1m2 0h1m1 0h1m1 0h1m0 0h1m0 0h1m0 0h1m7 0h1m1 0h1m2 0h1m0 0h1m4 0h1m1 0h1m4 0h1m9 0h1M53 345h1m3 0h1m3 0h1m3 0h1m0 0h1m1 0h1m1 0h1m0 0h1m2 0h1m10 0h1m27 0h1M54 346h1m0 0h1m2 0h1m1 0h1m0 0h1m0 0h1m1 0h1m0 0h1m7 0h1m0 0h1m0 0h1m0 0h1m2 0h1m19 0h1M52 347h1m1 0h1m1 0h1m2 0h1m11 0h1m1 0h1m7 0h1m4 0h1m6 0h1M56 348h1m1 0h1m0 0h1m12 0h1m5 0h1M50 349h1m2 0h1m2 0h1m0 0h1m1 0h1m0 0h1m0 0h1m0 0h1m9 0h1m3 0h1M50 350h1m1 0h1m1 0h1m9 0h1m0 0h1m2 0h1m10 0h1M54 351h1m0 0h1m2 0h1m2 0h1m2 0h1m1 0h1m0 0h1m2 0h1m7 0h1M51 352h1m0 0h1m1 0h1m1 0h1m1 0h1m5 0h1m2 0h1m0 0h1m8 0h1M50 353h1m6 0h1m0 0h1m0 0h1m1 0h1m4 0h1m0 0h1M52 354h1m1 0h1m0 0h1m0 0h1m0 0h1m1 0h1m0 0h1m0 0h1m0 0h1m0 0h1m3 0h1M51 355h1m1 0h1m1 0h1m1 0h1m0 0h1m2 0h1m0 0h1m1 0h1M50 356h1m5 0h1m2 0h1m0 0h1M50 357h1m0 0h1m1 0h1m0 0h1m0 0h1m0 0h1m0 0h1m2 0h1m0 0h1m0 0h1m0 0h1M50 358h1m3 0h1m2 0h1m2 0h1M51 359h1m1 0h1m0 0h1m3 0h1M50 360h1m0 0h1m0 0h1m5 0h1M50 361h1m1 0h1m3 0h1m0 0h1m7 0h1M55 362h1M52 363h1m0 0h1m1 0h1m20 0h1M50 364h1m0 0h1m0 0h1m3 0h1M54 365h1M51 366h1m0 0h1m2 0h1m10 0h1M54 367h1M50 368h1m1 0h1m6 0h1M52 369h1m0 0h1m2 0h1m0 0h1M57 370h1M52 371h1M51 381h1" stroke="#9400d3" stroke-width="1" fill="none" shape-rendering="crispEdges"/><polyline points="51.3,330.8 53.2,321.9 56.5,312.1 61.3,304.8 66.2,300 72.7,297.2 79.2,296.3 84,294.3 88.9,290.3 93,285.4 97.5,291 107,280.5 115.4,288.4 119.5,282.6 128.1,281.8 135.1,280.9 139.7,279.7 142,281.5 147.8,274.5 155.9,275.3 161.7,269.5 166.3,273.4 176.8,267.6 186,268.1 193,265.8 199.9,263.3 204.6,262.4 211.6,261.8 218.5,261 225.5,258.9 233.6,255.2 240.5,257.2 248.6,255.7 255.6,253.7 261.3,250.8 269.4,249.1 278.7,247.4 285.6,246.2 290.3,247.4 296.1,242.2 299.6,242 312.4,245.7 325.1,235.3 332,243.8 344.8,230.2 359.2,238.6 365.6,233.4 370.2,236.3 378.3,234.5 384.1,231 391.1,227.2 397.5,231.1 406.2,223.9 416.6,223.9 427,227.2 443.2,220.2 451.3,222.2 461.8,222.2 468.7,223.4 478,218.7 485,218 495.4,216 508.1,216.5 519.7,216 532.5,217.2 542.9,211.4 553.3,213 563.7,208.7 573,211 585.2,212.4 595,207.5 606.6,206.4 626.3,204.3 640.2,207.2 654.1,204.3 668,202 680,199.9 687.7,197.5 715.5,196 738.7,194.9 754.9,192.6 768.2,191.1 837.6,220.5" fill="none" stroke="#56b4e9" stroke-width="1.1" stroke-linejoin="round" shape-rendering="geometricPrecision"/><path d="M50.5 36.5H938.5V393.5H50.5ZM50.5 393.5v-4.5M50.5 36.5v4.5M106.5 393.5v-2.5M106.5 36.5v2.5M161.5 393.5v-4.5M161.5 36.5v4.5M217.5 393.5v-2.5M217.5 36.5v2.5M272.5 393.5v-4.5M272.5 36.5v4.5M328.5 393.5v-2.5M328.5 36.5v2.5M383.5 393.5v-4.5M383.5 36.5v4.5M439.5 393.5v-2.5M439.5 36.5v2.5M494.5 393.5v-4.5M494.5 36.5v4.5M550.5 393.5v-2.5M550.5 36.5v2.5M605.5 393.5v-4.5M605.5 36.5v4.5M661.5 393.5v-2.5M661.5 36.5v2.5M716.5 393.5v-4.5M716.5 36.5v4.5M772.5 393.5v-2.5M772.5 36.5v2.5M827.5 393.5v-4.5M827.5 36.5v4.5M883.5 393.5v-2.5M883.5 36.5v2.5M938.5 393.5v-4.5M938.5 36.5v4.5M50.5 393.5h4.5M938.5 393.5h-4.5M50.5 384.5h2.5M938.5 384.5h-2.5M50.5 375.5h2.5M938.5 375.5h-2.5M50.5 366.5h2.5M938.5 366.5h-2.5M50.5 356.5h2.5M938.5 356.5h-2.5M50.5 347.5h4.5M938.5 347.5h-4.5M50.5 338.5h2.5M938.5 338.5h-2.5M50.5 329.5h2.5M938.5 329.5h-2.5M50.5 320.5h2.5M938.5 320.5h-2.5M50.5 311.5h2.5M938.5 311.5h-2.5M50.5 301.5h4.5M938.5 301.5h-4.5M50.5 292.5h2.5M938.5 292.5h-2.5M50.5 283.5h2.5M938.5 283.5h-2.5M50.5 274.5h2.5M938.5 274.5h-2.5M50.5 265.5h2.5M938.5 265.5h-2.5M50.5 256.5h4.5M938.5 256.5h-4.5M50.5 247.5h2.5M938.5 247.5h-2.5M50.5 237.5h2.5M938.5 237.5h-2.5M50.5 228.5h2.5M938.5 228.5h-2.5M50.5 219.5h2.5M938.5 219.5h-2.5M50.5 210.5h4.5M938.5 210.5h-4.5M50.5 201.5h2.5M938.5 201.5h-2.5M50.5 192.5h2.5M938.5 192.5h-2.5M50.5 182.5h2.5M938.5 182.5h-2.5M50.5 173.5h2.5M938.5 173.5h-2.5M50.5 164.5h4.5M938.5 164.5h-4.5M50.5 155.5h2.5M938.5 155.5h-2.5M50.5 146.5h2.5M938.5 146.5h-2.5M50.5 137.5h2.5M938.5 137.5h-2.5M50.5 128.5h2.5M938.5 128.5h-2.5M50.5 118.5h4.5M938.5 118.5h-4.5M50.5 109.5h2.5M938.5 109.5h-2.5M50.5 100.5h2.5M938.5 100.5h-2.5M50.5 91.5h2.5M938.5 91.5h-2.5M50.5 82.5h2.5M938.5 82.5h-2.5M50.5 73.5h4.5M938.5 73.5h-4.5M50.5 63.5h2.5M938.5 63.5h-2.5M50.5 54.5h2.5M938.5 54.5h-2.5M50.5 45.5h2.5M938.5 45.5h-2.5M50.5 36.5h2.5M938.5 36.5h-2.5" stroke="#000" stroke-width="1" fill="none" shape-rendering="crispEdges"/><text x="494.2" y="20.5" text-anchor="middle">[tortuga] Seagate ST31500541AS 3.5" 1.5TB 5.9kRPM SATA Read</text><text class="t" x="43" y="396" text-anchor="end">0</text><text class="t" x="43" y="350" text-anchor="end">5</text><text class="t" x="43" y="304" text-anchor="end">10</text><text class="t" x="43" y="259" text-anchor="end">15</text><text class="t" x="43" y="213" text-anchor="end">20</text><text class="t" x="43" y="167" text-anchor="end">25</text><text class="t" x="43" y="121" text-anchor="end">30</text><text class="t" x="43" y="76" text-anchor="end">35</text><text class="t" x="50.5" y="408.5" text-anchor="middle">0</text><text class="t" x="161.5" y="408.5" text-anchor="middle">200000</text><text class="t" x="272.5" y="408.5" text-anchor="middle">400000</text><text class="t" x="383.5" y="408.5" text-anchor="middle">600000</text><text class="t" x="494.5" y="408.5" text-anchor="middle">800000</text><text class="t" x="606.3" y="408.5" text-anchor="middle">1x10<tspan font-size="9.8" dy="-5.2">6</tspan></text><text class="t" x="717.3" y="408.5" text-anchor="middle">1.2x10<tspan font-size="9.8" dy="-5.2">6</tspan></text><text class="t" x="828.3" y="408.5" text-anchor="middle">1.4x10<tspan font-size="9.8" dy="-5.2">6</tspan></text><text class="t" x="939.3" y="408.5" text-anchor="middle">1.6x10<tspan font-size="9.8" dy="-5.2">6</tspan></text><text x="493.5" y="425.6" text-anchor="middle">Seek distance (MB)</text><text transform="translate(12 214.4) rotate(-90)" text-anchor="middle">Seek Speed (ms)</text></svg></body></html>
